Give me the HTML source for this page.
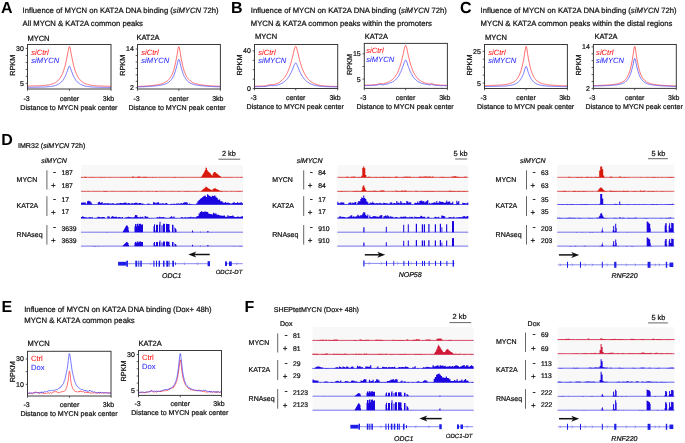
<!DOCTYPE html>
<html><head><meta charset="utf-8"><title>figure</title>
<style>html,body{margin:0;padding:0;background:#fff;overflow:hidden}svg{display:block;will-change:transform}text{font-family:"Liberation Sans",sans-serif;text-rendering:geometricPrecision}</style>
</head><body>
<svg width="685" height="443" viewBox="0 0 685 443">
<rect width="685" height="443" fill="#fff"/>
<text x="1.00" y="12.50" font-size="16" text-anchor="start" font-weight="bold" font-style="normal" fill="#000" >A</text>
<text x="22.60" y="12.80" font-size="7.7" text-anchor="start" font-weight="normal" font-style="normal" fill="#111" stroke="#111" stroke-width="0.22" >Influence of MYCN on KAT2A DNA binding (<tspan font-style="italic">siMYCN</tspan> 72h)</text>
<text x="22.60" y="25.60" font-size="7.7" text-anchor="start" font-weight="normal" font-style="normal" fill="#111" stroke="#111" stroke-width="0.22" >All MYCN &amp; KAT2A common peaks</text>
<text x="230.90" y="12.60" font-size="16" text-anchor="start" font-weight="bold" font-style="normal" fill="#000" >B</text>
<text x="250.80" y="13.00" font-size="7.7" text-anchor="start" font-weight="normal" font-style="normal" fill="#111" stroke="#111" stroke-width="0.22" >Influence of MYCN on KAT2A DNA binding (<tspan font-style="italic">siMYCN</tspan> 72h)</text>
<text x="250.80" y="25.60" font-size="7.7" text-anchor="start" font-weight="normal" font-style="normal" fill="#111" stroke="#111" stroke-width="0.22" >MYCN &amp; KAT2A common peaks within the promoters</text>
<text x="460.10" y="12.70" font-size="16" text-anchor="start" font-weight="bold" font-style="normal" fill="#000" >C</text>
<text x="480.60" y="13.00" font-size="7.7" text-anchor="start" font-weight="normal" font-style="normal" fill="#111" stroke="#111" stroke-width="0.22" >Influence of MYCN on KAT2A DNA binding (<tspan font-style="italic">siMYCN</tspan> 72h)</text>
<text x="480.60" y="25.60" font-size="7.7" text-anchor="start" font-weight="normal" font-style="normal" fill="#111" stroke="#111" stroke-width="0.22" >MYCN &amp; KAT2A common peaks within the distal regions</text>
<text x="27.40" y="40.90" font-size="7.5" text-anchor="start" font-weight="normal" font-style="normal" fill="#111" stroke="#111" stroke-width="0.22" >MYCN</text>
<polyline points="27.5,86.0 27.9,86.0 28.3,86.0 28.8,86.0 29.2,86.0 29.6,86.0 30.0,86.0 30.4,86.0 30.8,86.0 31.3,85.9 31.7,85.9 32.1,85.9 32.5,85.9 32.9,85.9 33.3,85.9 33.8,85.9 34.2,85.9 34.6,85.9 35.0,85.9 35.4,85.9 35.9,85.8 36.3,85.8 36.7,85.8 37.1,85.8 37.5,85.8 37.9,85.8 38.4,85.8 38.8,85.7 39.2,85.7 39.6,85.7 40.0,85.7 40.4,85.7 40.9,85.6 41.3,85.6 41.7,85.6 42.1,85.6 42.5,85.5 42.9,85.5 43.4,85.5 43.8,85.4 44.2,85.4 44.6,85.4 45.0,85.3 45.5,85.3 45.9,85.2 46.3,85.2 46.7,85.1 47.1,85.1 47.5,85.0 48.0,85.0 48.4,84.9 48.8,84.8 49.2,84.7 49.6,84.7 50.0,84.6 50.5,84.5 50.9,84.4 51.3,84.2 51.7,84.1 52.1,84.0 52.5,83.9 53.0,83.7 53.4,83.5 53.8,83.4 54.2,83.2 54.6,83.0 55.1,82.7 55.5,82.5 55.9,82.2 56.3,82.0 56.7,81.7 57.1,81.3 57.6,81.0 58.0,80.6 58.4,80.2 58.8,79.7 59.2,79.2 59.6,78.7 60.1,78.1 60.5,77.5 60.9,76.8 61.3,76.1 61.7,75.3 62.2,74.4 62.6,73.4 63.0,72.4 63.4,71.3 63.8,70.1 64.2,68.8 64.7,67.4 65.1,65.9 65.5,64.2 65.9,62.4 66.3,60.5 66.7,58.5 67.2,56.3 67.6,54.0 68.0,51.7 68.4,49.5 68.8,47.6 69.2,46.5 69.7,46.7 70.1,48.0 70.5,50.1 70.9,52.3 71.3,54.7 71.8,56.9 72.2,59.1 72.6,61.1 73.0,62.9 73.4,64.7 73.8,66.3 74.3,67.8 74.7,69.2 75.1,70.5 75.5,71.7 75.9,72.7 76.3,73.8 76.8,74.7 77.2,75.5 77.6,76.3 78.0,77.0 78.4,77.7 78.9,78.3 79.3,78.9 79.7,79.4 80.1,79.9 80.5,80.4 80.9,80.8 81.4,81.2 81.8,81.5 82.2,81.8 82.6,82.1 83.0,82.4 83.4,82.7 83.9,82.9 84.3,83.1 84.7,83.3 85.1,83.5 85.5,83.7 86.0,83.9 86.4,84.0 86.8,84.2 87.2,84.3 87.6,84.4 88.0,84.5 88.5,84.6 88.9,84.7 89.3,84.8 89.7,84.9 90.1,85.0 90.5,85.1 91.0,85.1 91.4,85.2 91.8,85.3 92.2,85.3 92.6,85.4 93.0,85.4 93.5,85.5 93.9,85.5 94.3,85.6 94.7,85.6 95.1,85.6 95.6,85.7 96.0,85.7 96.4,85.7 96.8,85.8 97.2,85.8 97.6,85.8 98.1,85.8 98.5,85.9 98.9,85.9 99.3,85.9 99.7,85.9 100.1,86.0 100.6,86.0 101.0,86.0 101.4,86.0 101.8,86.0 102.2,86.1 102.7,86.1 103.1,86.1 103.5,86.1 103.9,86.1 104.3,86.1 104.7,86.1 105.2,86.2 105.6,86.2 106.0,86.2 106.4,86.2 106.8,86.2 107.2,86.2 107.7,86.2 108.1,86.2 108.5,86.2 108.9,86.3 109.3,86.3 109.7,86.3 110.2,86.3 110.6,86.3 111.0,86.3" fill="none" stroke="#ff2020" stroke-width="0.65" stroke-linejoin="round"/>
<polyline points="27.5,87.3 27.9,87.3 28.3,87.3 28.8,87.3 29.2,87.3 29.6,87.3 30.0,87.3 30.4,87.3 30.8,87.3 31.3,87.3 31.7,87.3 32.1,87.3 32.5,87.3 32.9,87.3 33.3,87.3 33.8,87.2 34.2,87.2 34.6,87.2 35.0,87.2 35.4,87.2 35.9,87.2 36.3,87.2 36.7,87.2 37.1,87.2 37.5,87.2 37.9,87.2 38.4,87.2 38.8,87.2 39.2,87.2 39.6,87.1 40.0,87.1 40.4,87.1 40.9,87.1 41.3,87.1 41.7,87.1 42.1,87.1 42.5,87.1 42.9,87.0 43.4,87.0 43.8,87.0 44.2,87.0 44.6,87.0 45.0,86.9 45.5,86.9 45.9,86.9 46.3,86.9 46.7,86.8 47.1,86.8 47.5,86.8 48.0,86.8 48.4,86.7 48.8,86.7 49.2,86.6 49.6,86.6 50.0,86.5 50.5,86.5 50.9,86.4 51.3,86.4 51.7,86.3 52.1,86.2 52.5,86.2 53.0,86.1 53.4,86.0 53.8,85.9 54.2,85.8 54.6,85.7 55.1,85.6 55.5,85.4 55.9,85.3 56.3,85.2 56.7,85.0 57.1,84.8 57.6,84.6 58.0,84.4 58.4,84.2 58.8,84.0 59.2,83.7 59.6,83.4 60.1,83.1 60.5,82.8 60.9,82.4 61.3,82.0 61.7,81.6 62.2,81.1 62.6,80.6 63.0,80.1 63.4,79.5 63.8,78.8 64.2,78.1 64.7,77.4 65.1,76.6 65.5,75.7 65.9,74.7 66.3,73.7 66.7,72.6 67.2,71.5 67.6,70.3 68.0,69.0 68.4,67.8 68.8,66.8 69.2,66.2 69.7,66.3 70.1,67.1 70.5,68.2 70.9,69.4 71.3,70.6 71.8,71.8 72.2,72.9 72.6,74.0 73.0,75.0 73.4,76.0 73.8,76.8 74.3,77.6 74.7,78.4 75.1,79.0 75.5,79.7 75.9,80.3 76.3,80.8 76.8,81.3 77.2,81.7 77.6,82.2 78.0,82.5 78.4,82.9 78.9,83.2 79.3,83.5 79.7,83.8 80.1,84.1 80.5,84.3 80.9,84.5 81.4,84.7 81.8,84.9 82.2,85.1 82.6,85.3 83.0,85.4 83.4,85.5 83.9,85.7 84.3,85.8 84.7,85.9 85.1,86.0 85.5,86.1 86.0,86.2 86.4,86.3 86.8,86.3 87.2,86.4 87.6,86.5 88.0,86.5 88.5,86.6 88.9,86.6 89.3,86.7 89.7,86.7 90.1,86.8 90.5,86.8 91.0,86.9 91.4,86.9 91.8,86.9 92.2,87.0 92.6,87.0 93.0,87.0 93.5,87.0 93.9,87.1 94.3,87.1 94.7,87.1 95.1,87.1 95.6,87.2 96.0,87.2 96.4,87.2 96.8,87.2 97.2,87.2 97.6,87.2 98.1,87.3 98.5,87.3 98.9,87.3 99.3,87.3 99.7,87.3 100.1,87.3 100.6,87.3 101.0,87.3 101.4,87.3 101.8,87.4 102.2,87.4 102.7,87.4 103.1,87.4 103.5,87.4 103.9,87.4 104.3,87.4 104.7,87.4 105.2,87.4 105.6,87.4 106.0,87.4 106.4,87.4 106.8,87.4 107.2,87.5 107.7,87.5 108.1,87.5 108.5,87.5 108.9,87.5 109.3,87.5 109.7,87.5 110.2,87.5 110.6,87.5 111.0,87.5" fill="none" stroke="#3030ff" stroke-width="0.65" stroke-linejoin="round"/>
<rect x="27.50" y="44.50" width="83.50" height="44.50" fill="none" stroke="#3a3a3a" stroke-width="1"/>
<line x1="25.70" y1="48.40" x2="27.50" y2="48.40" stroke="#333" stroke-width="0.8" />
<text x="23.90" y="50.85" font-size="7" text-anchor="end" font-weight="normal" font-style="normal" fill="#111" stroke="#111" stroke-width="0.22" >30</text>
<line x1="25.70" y1="83.30" x2="27.50" y2="83.30" stroke="#333" stroke-width="0.8" />
<text x="23.90" y="85.75" font-size="7" text-anchor="end" font-weight="normal" font-style="normal" fill="#111" stroke="#111" stroke-width="0.22" >5</text>
<line x1="25.70" y1="55.40" x2="27.50" y2="55.40" stroke="#333" stroke-width="0.8" />
<line x1="25.70" y1="62.40" x2="27.50" y2="62.40" stroke="#333" stroke-width="0.8" />
<line x1="25.70" y1="69.40" x2="27.50" y2="69.40" stroke="#333" stroke-width="0.8" />
<line x1="25.70" y1="76.30" x2="27.50" y2="76.30" stroke="#333" stroke-width="0.8" />
<line x1="27.50" y1="89.00" x2="27.50" y2="90.80" stroke="#333" stroke-width="0.8" />
<line x1="69.40" y1="89.00" x2="69.40" y2="90.80" stroke="#333" stroke-width="0.8" />
<line x1="111.00" y1="89.00" x2="111.00" y2="90.80" stroke="#333" stroke-width="0.8" />
<text x="26.50" y="100.60" font-size="7" text-anchor="middle" font-weight="normal" font-style="normal" fill="#111" stroke="#111" stroke-width="0.22" >-3</text>
<text x="69.40" y="100.60" font-size="7" text-anchor="middle" font-weight="normal" font-style="normal" fill="#111" stroke="#111" stroke-width="0.22" >center</text>
<text x="108.40" y="100.60" font-size="7" text-anchor="middle" font-weight="normal" font-style="normal" fill="#111" stroke="#111" stroke-width="0.22" >3kb</text>
<text x="68.90" y="109.60" font-size="7.08" text-anchor="middle" font-weight="normal" font-style="normal" fill="#111" stroke="#111" stroke-width="0.22" >Distance to MYCN peak center</text>
<text transform="translate(14.80,65.25) rotate(-90)" font-size="7.3" text-anchor="middle" fill="#111" stroke="#111" stroke-width="0.22">RPKM</text>
<text x="31.30" y="54.50" font-size="7.6" text-anchor="start" font-weight="normal" font-style="italic" fill="#ff2020" stroke="#ff2020" stroke-width="0.08" >siCtrl</text>
<text x="31.30" y="63.40" font-size="7.6" text-anchor="start" font-weight="normal" font-style="italic" fill="#3030ff" stroke="#3030ff" stroke-width="0.08" >siMYCN</text>
<text x="136.40" y="40.00" font-size="7.5" text-anchor="start" font-weight="normal" font-style="normal" fill="#111" stroke="#111" stroke-width="0.22" >KAT2A</text>
<polyline points="137.5,86.5 137.9,86.5 138.3,86.5 138.7,86.4 139.2,86.4 139.6,86.4 140.0,86.4 140.4,86.4 140.8,86.3 141.2,86.3 141.6,86.3 142.1,86.3 142.5,86.3 142.9,86.2 143.3,86.2 143.7,86.2 144.1,86.2 144.5,86.1 145.0,86.1 145.4,86.1 145.8,86.1 146.2,86.0 146.6,86.0 147.0,86.0 147.4,85.9 147.9,85.9 148.3,85.9 148.7,85.8 149.1,85.8 149.5,85.8 149.9,85.7 150.3,85.7 150.8,85.7 151.2,85.6 151.6,85.6 152.0,85.5 152.4,85.5 152.8,85.4 153.3,85.4 153.7,85.3 154.1,85.3 154.5,85.2 154.9,85.2 155.3,85.1 155.7,85.0 156.2,85.0 156.6,84.9 157.0,84.8 157.4,84.8 157.8,84.7 158.2,84.6 158.6,84.5 159.1,84.4 159.5,84.4 159.9,84.3 160.3,84.2 160.7,84.0 161.1,83.9 161.5,83.8 162.0,83.7 162.4,83.5 162.8,83.4 163.2,83.2 163.6,83.1 164.0,82.9 164.4,82.7 164.9,82.5 165.3,82.3 165.7,82.1 166.1,81.8 166.5,81.5 166.9,81.2 167.3,80.9 167.8,80.6 168.2,80.2 168.6,79.8 169.0,79.3 169.4,78.9 169.8,78.3 170.2,77.7 170.7,77.1 171.1,76.4 171.5,75.7 171.9,74.8 172.3,73.9 172.7,72.9 173.1,71.8 173.6,70.6 174.0,69.3 174.4,67.8 174.8,66.2 175.2,64.4 175.6,62.5 176.0,60.4 176.5,58.2 176.9,55.7 177.3,53.2 177.7,50.7 178.1,48.4 178.5,46.9 178.9,46.7 179.4,47.9 179.8,50.0 180.2,52.5 180.6,55.0 181.0,57.5 181.4,59.8 181.9,61.9 182.3,63.9 182.7,65.7 183.1,67.4 183.5,68.8 183.9,70.2 184.3,71.5 184.8,72.6 185.2,73.6 185.6,74.6 186.0,75.4 186.4,76.2 186.8,76.9 187.2,77.5 187.7,78.1 188.1,78.7 188.5,79.2 188.9,79.6 189.3,80.0 189.7,80.4 190.1,80.8 190.6,81.1 191.0,81.4 191.4,81.7 191.8,81.9 192.2,82.2 192.6,82.4 193.0,82.6 193.5,82.8 193.9,83.0 194.3,83.1 194.7,83.3 195.1,83.4 195.5,83.6 195.9,83.7 196.4,83.8 196.8,83.9 197.2,84.0 197.6,84.1 198.0,84.2 198.4,84.3 198.8,84.4 199.3,84.5 199.7,84.6 200.1,84.7 200.5,84.7 200.9,84.8 201.3,84.9 201.7,84.9 202.2,85.0 202.6,85.0 203.0,85.1 203.4,85.1 203.8,85.2 204.2,85.2 204.6,85.3 205.1,85.3 205.5,85.4 205.9,85.4 206.3,85.5 206.7,85.5 207.1,85.5 207.6,85.6 208.0,85.6 208.4,85.7 208.8,85.7 209.2,85.7 209.6,85.7 210.0,85.8 210.5,85.8 210.9,85.8 211.3,85.9 211.7,85.9 212.1,85.9 212.5,85.9 212.9,86.0 213.4,86.0 213.8,86.0 214.2,86.0 214.6,86.1 215.0,86.1 215.4,86.1 215.8,86.1 216.3,86.1 216.7,86.2 217.1,86.2 217.5,86.2 217.9,86.2 218.3,86.2 218.7,86.2 219.2,86.3 219.6,86.3 220.0,86.3 220.4,86.3" fill="none" stroke="#ff2020" stroke-width="0.65" stroke-linejoin="round"/>
<polyline points="137.5,86.9 137.9,86.9 138.3,86.9 138.7,86.9 139.2,86.8 139.6,86.8 140.0,86.8 140.4,86.8 140.8,86.8 141.2,86.8 141.6,86.8 142.1,86.8 142.5,86.7 142.9,86.7 143.3,86.7 143.7,86.7 144.1,86.7 144.5,86.7 145.0,86.6 145.4,86.6 145.8,86.6 146.2,86.6 146.6,86.6 147.0,86.5 147.4,86.5 147.9,86.5 148.3,86.5 148.7,86.4 149.1,86.4 149.5,86.4 149.9,86.4 150.3,86.3 150.8,86.3 151.2,86.3 151.6,86.3 152.0,86.2 152.4,86.2 152.8,86.2 153.3,86.1 153.7,86.1 154.1,86.1 154.5,86.0 154.9,86.0 155.3,85.9 155.7,85.9 156.2,85.9 156.6,85.8 157.0,85.8 157.4,85.7 157.8,85.7 158.2,85.6 158.6,85.5 159.1,85.5 159.5,85.4 159.9,85.4 160.3,85.3 160.7,85.2 161.1,85.1 161.5,85.0 162.0,85.0 162.4,84.9 162.8,84.8 163.2,84.7 163.6,84.5 164.0,84.4 164.4,84.3 164.9,84.2 165.3,84.0 165.7,83.8 166.1,83.7 166.5,83.5 166.9,83.3 167.3,83.1 167.8,82.8 168.2,82.6 168.6,82.3 169.0,82.0 169.4,81.6 169.8,81.3 170.2,80.9 170.7,80.4 171.1,79.9 171.5,79.4 171.9,78.8 172.3,78.2 172.7,77.5 173.1,76.7 173.6,75.9 174.0,75.0 174.4,74.0 174.8,72.9 175.2,71.6 175.6,70.3 176.0,68.9 176.5,67.3 176.9,65.6 177.3,63.9 177.7,62.1 178.1,60.6 178.5,59.5 178.9,59.4 179.4,60.2 179.8,61.7 180.2,63.4 180.6,65.1 181.0,66.8 181.4,68.4 181.9,69.9 182.3,71.3 182.7,72.5 183.1,73.7 183.5,74.7 183.9,75.6 184.3,76.5 184.8,77.3 185.2,78.0 185.6,78.7 186.0,79.2 186.4,79.8 186.8,80.3 187.2,80.7 187.7,81.1 188.1,81.5 188.5,81.9 188.9,82.2 189.3,82.5 189.7,82.7 190.1,83.0 190.6,83.2 191.0,83.4 191.4,83.6 191.8,83.8 192.2,83.9 192.6,84.1 193.0,84.2 193.5,84.4 193.9,84.5 194.3,84.6 194.7,84.7 195.1,84.8 195.5,84.9 195.9,85.0 196.4,85.1 196.8,85.2 197.2,85.2 197.6,85.3 198.0,85.4 198.4,85.4 198.8,85.5 199.3,85.5 199.7,85.6 200.1,85.7 200.5,85.7 200.9,85.7 201.3,85.8 201.7,85.8 202.2,85.9 202.6,85.9 203.0,86.0 203.4,86.0 203.8,86.0 204.2,86.1 204.6,86.1 205.1,86.1 205.5,86.2 205.9,86.2 206.3,86.2 206.7,86.2 207.1,86.3 207.6,86.3 208.0,86.3 208.4,86.3 208.8,86.4 209.2,86.4 209.6,86.4 210.0,86.4 210.5,86.5 210.9,86.5 211.3,86.5 211.7,86.5 212.1,86.5 212.5,86.5 212.9,86.6 213.4,86.6 213.8,86.6 214.2,86.6 214.6,86.6 215.0,86.6 215.4,86.7 215.8,86.7 216.3,86.7 216.7,86.7 217.1,86.7 217.5,86.7 217.9,86.7 218.3,86.7 218.7,86.8 219.2,86.8 219.6,86.8 220.0,86.8 220.4,86.8" fill="none" stroke="#3030ff" stroke-width="0.65" stroke-linejoin="round"/>
<rect x="137.50" y="44.50" width="82.90" height="44.50" fill="none" stroke="#3a3a3a" stroke-width="1"/>
<line x1="135.70" y1="49.00" x2="137.50" y2="49.00" stroke="#333" stroke-width="0.8" />
<text x="133.90" y="51.45" font-size="7" text-anchor="end" font-weight="normal" font-style="normal" fill="#111" stroke="#111" stroke-width="0.22" >14</text>
<line x1="135.70" y1="87.80" x2="137.50" y2="87.80" stroke="#333" stroke-width="0.8" />
<text x="133.90" y="90.25" font-size="7" text-anchor="end" font-weight="normal" font-style="normal" fill="#111" stroke="#111" stroke-width="0.22" >2</text>
<line x1="135.70" y1="55.50" x2="137.50" y2="55.50" stroke="#333" stroke-width="0.8" />
<line x1="135.70" y1="62.00" x2="137.50" y2="62.00" stroke="#333" stroke-width="0.8" />
<line x1="135.70" y1="68.40" x2="137.50" y2="68.40" stroke="#333" stroke-width="0.8" />
<line x1="135.70" y1="74.90" x2="137.50" y2="74.90" stroke="#333" stroke-width="0.8" />
<line x1="135.70" y1="81.30" x2="137.50" y2="81.30" stroke="#333" stroke-width="0.8" />
<line x1="137.50" y1="89.00" x2="137.50" y2="90.80" stroke="#333" stroke-width="0.8" />
<line x1="178.80" y1="89.00" x2="178.80" y2="90.80" stroke="#333" stroke-width="0.8" />
<line x1="220.40" y1="89.00" x2="220.40" y2="90.80" stroke="#333" stroke-width="0.8" />
<text x="136.50" y="100.60" font-size="7" text-anchor="middle" font-weight="normal" font-style="normal" fill="#111" stroke="#111" stroke-width="0.22" >-3</text>
<text x="178.80" y="100.60" font-size="7" text-anchor="middle" font-weight="normal" font-style="normal" fill="#111" stroke="#111" stroke-width="0.22" >center</text>
<text x="217.80" y="100.60" font-size="7" text-anchor="middle" font-weight="normal" font-style="normal" fill="#111" stroke="#111" stroke-width="0.22" >3kb</text>
<text x="177.10" y="109.60" font-size="7.08" text-anchor="middle" font-weight="normal" font-style="normal" fill="#111" stroke="#111" stroke-width="0.22" >Distance to MYCN peak center</text>
<text transform="translate(124.80,65.25) rotate(-90)" font-size="7.3" text-anchor="middle" fill="#111" stroke="#111" stroke-width="0.22">RPKM</text>
<text x="141.30" y="54.50" font-size="7.6" text-anchor="start" font-weight="normal" font-style="italic" fill="#ff2020" stroke="#ff2020" stroke-width="0.08" >siCtrl</text>
<text x="141.30" y="63.40" font-size="7.6" text-anchor="start" font-weight="normal" font-style="italic" fill="#3030ff" stroke="#3030ff" stroke-width="0.08" >siMYCN</text>
<text x="255.00" y="39.00" font-size="7.5" text-anchor="start" font-weight="normal" font-style="normal" fill="#111" stroke="#111" stroke-width="0.22" >MYCN</text>
<polyline points="254.5,86.2 254.9,86.2 255.3,86.2 255.7,86.2 256.2,86.2 256.6,86.2 257.0,86.2 257.4,86.2 257.8,86.1 258.2,86.1 258.7,86.1 259.1,86.1 259.5,86.1 259.9,86.1 260.3,86.1 260.7,86.1 261.2,86.1 261.6,86.0 262.0,86.0 262.4,86.0 262.8,86.0 263.2,86.0 263.7,85.9 264.1,85.9 264.5,85.9 264.9,85.8 265.3,85.8 265.7,85.7 266.1,85.7 266.6,85.6 267.0,85.5 267.4,85.4 267.8,85.2 268.2,85.1 268.6,85.0 269.1,84.9 269.5,84.8 269.9,84.7 270.3,84.6 270.7,84.6 271.1,84.6 271.6,84.6 272.0,84.6 272.4,84.6 272.8,84.6 273.2,84.5 273.6,84.5 274.1,84.4 274.5,84.4 274.9,84.3 275.3,84.2 275.7,84.0 276.1,83.9 276.5,83.7 277.0,83.6 277.4,83.4 277.8,83.2 278.2,83.0 278.6,82.8 279.0,82.5 279.5,82.3 279.9,82.0 280.3,81.7 280.7,81.4 281.1,81.1 281.5,80.7 282.0,80.4 282.4,80.0 282.8,79.5 283.2,79.1 283.6,78.6 284.0,78.1 284.5,77.6 284.9,77.0 285.3,76.4 285.7,75.7 286.1,75.0 286.5,74.3 286.9,73.5 287.4,72.7 287.8,71.8 288.2,70.8 288.6,69.8 289.0,68.8 289.4,67.6 289.9,66.4 290.3,65.2 290.7,63.8 291.1,62.4 291.5,60.9 291.9,59.3 292.4,57.7 292.8,56.0 293.2,54.2 293.6,52.4 294.0,50.7 294.4,49.1 294.9,47.7 295.3,46.7 295.7,46.3 296.1,46.6 296.5,47.6 296.9,48.9 297.3,50.6 297.8,52.3 298.2,54.1 298.6,55.8 299.0,57.5 299.4,59.2 299.8,60.8 300.3,62.3 300.7,63.7 301.1,65.1 301.5,66.4 301.9,67.6 302.3,68.7 302.8,69.8 303.2,70.8 303.6,71.7 304.0,72.6 304.4,73.5 304.8,74.3 305.3,75.0 305.7,75.7 306.1,76.4 306.5,77.0 306.9,77.6 307.3,78.1 307.7,78.7 308.2,79.1 308.6,79.6 309.0,80.0 309.4,80.4 309.8,80.8 310.2,81.1 310.7,81.5 311.1,81.8 311.5,82.1 311.9,82.3 312.3,82.6 312.7,82.8 313.2,83.1 313.6,83.3 314.0,83.5 314.4,83.7 314.8,83.8 315.2,84.0 315.7,84.2 316.1,84.3 316.5,84.5 316.9,84.6 317.3,84.7 317.7,84.8 318.1,84.9 318.6,85.0 319.0,85.1 319.4,85.2 319.8,85.3 320.2,85.4 320.6,85.4 321.1,85.5 321.5,85.6 321.9,85.6 322.3,85.7 322.7,85.7 323.1,85.8 323.6,85.8 324.0,85.9 324.4,85.9 324.8,86.0 325.2,86.0 325.6,86.0 326.1,86.1 326.5,86.1 326.9,86.1 327.3,86.2 327.7,86.2 328.1,86.2 328.5,86.2 329.0,86.2 329.4,86.3 329.8,86.3 330.2,86.3 330.6,86.3 331.0,86.3 331.5,86.4 331.9,86.4 332.3,86.4 332.7,86.4 333.1,86.4 333.5,86.4 334.0,86.4 334.4,86.4 334.8,86.4 335.2,86.5 335.6,86.5 336.0,86.5 336.5,86.5 336.9,86.5 337.3,86.5 337.7,86.5" fill="none" stroke="#ff2020" stroke-width="0.65" stroke-linejoin="round"/>
<polyline points="254.5,86.7 254.9,86.7 255.3,86.7 255.7,86.7 256.2,86.7 256.6,86.7 257.0,86.7 257.4,86.7 257.8,86.7 258.2,86.7 258.7,86.7 259.1,86.7 259.5,86.6 259.9,86.6 260.3,86.6 260.7,86.6 261.2,86.6 261.6,86.6 262.0,86.6 262.4,86.6 262.8,86.6 263.2,86.6 263.7,86.5 264.1,86.5 264.5,86.5 264.9,86.5 265.3,86.4 265.7,86.4 266.1,86.3 266.6,86.3 267.0,86.2 267.4,86.1 267.8,86.0 268.2,85.9 268.6,85.8 269.1,85.7 269.5,85.7 269.9,85.6 270.3,85.6 270.7,85.6 271.1,85.6 271.6,85.6 272.0,85.6 272.4,85.6 272.8,85.7 273.2,85.7 273.6,85.7 274.1,85.6 274.5,85.6 274.9,85.5 275.3,85.5 275.7,85.4 276.1,85.3 276.5,85.2 277.0,85.1 277.4,85.0 277.8,84.9 278.2,84.8 278.6,84.7 279.0,84.5 279.5,84.4 279.9,84.2 280.3,84.0 280.7,83.9 281.1,83.7 281.5,83.5 282.0,83.2 282.4,83.0 282.8,82.8 283.2,82.5 283.6,82.2 284.0,81.9 284.5,81.6 284.9,81.2 285.3,80.9 285.7,80.5 286.1,80.1 286.5,79.6 286.9,79.2 287.4,78.7 287.8,78.1 288.2,77.6 288.6,77.0 289.0,76.3 289.4,75.7 289.9,75.0 290.3,74.2 290.7,73.4 291.1,72.6 291.5,71.7 291.9,70.7 292.4,69.8 292.8,68.7 293.2,67.7 293.6,66.6 294.0,65.6 294.4,64.6 294.9,63.8 295.3,63.2 295.7,63.0 296.1,63.2 296.5,63.7 296.9,64.6 297.3,65.5 297.8,66.6 298.2,67.6 298.6,68.7 299.0,69.7 299.4,70.7 299.8,71.6 300.3,72.5 300.7,73.3 301.1,74.2 301.5,74.9 301.9,75.6 302.3,76.3 302.8,77.0 303.2,77.6 303.6,78.1 304.0,78.7 304.4,79.2 304.8,79.6 305.3,80.1 305.7,80.5 306.1,80.9 306.5,81.3 306.9,81.6 307.3,81.9 307.7,82.2 308.2,82.5 308.6,82.8 309.0,83.0 309.4,83.3 309.8,83.5 310.2,83.7 310.7,83.9 311.1,84.1 311.5,84.3 311.9,84.4 312.3,84.6 312.7,84.7 313.2,84.9 313.6,85.0 314.0,85.1 314.4,85.2 314.8,85.3 315.2,85.4 315.7,85.5 316.1,85.6 316.5,85.7 316.9,85.8 317.3,85.8 317.7,85.9 318.1,86.0 318.6,86.0 319.0,86.1 319.4,86.1 319.8,86.2 320.2,86.2 320.6,86.3 321.1,86.3 321.5,86.3 321.9,86.4 322.3,86.4 322.7,86.4 323.1,86.5 323.6,86.5 324.0,86.5 324.4,86.6 324.8,86.6 325.2,86.6 325.6,86.6 326.1,86.6 326.5,86.7 326.9,86.7 327.3,86.7 327.7,86.7 328.1,86.7 328.5,86.7 329.0,86.7 329.4,86.8 329.8,86.8 330.2,86.8 330.6,86.8 331.0,86.8 331.5,86.8 331.9,86.8 332.3,86.8 332.7,86.8 333.1,86.8 333.5,86.8 334.0,86.9 334.4,86.9 334.8,86.9 335.2,86.9 335.6,86.9 336.0,86.9 336.5,86.9 336.9,86.9 337.3,86.9 337.7,86.9" fill="none" stroke="#3030ff" stroke-width="0.65" stroke-linejoin="round"/>
<rect x="254.50" y="44.50" width="83.20" height="44.00" fill="none" stroke="#3a3a3a" stroke-width="1"/>
<line x1="252.70" y1="50.90" x2="254.50" y2="50.90" stroke="#333" stroke-width="0.8" />
<text x="250.90" y="53.35" font-size="7" text-anchor="end" font-weight="normal" font-style="normal" fill="#111" stroke="#111" stroke-width="0.22" >40</text>
<line x1="252.70" y1="88.60" x2="254.50" y2="88.60" stroke="#333" stroke-width="0.8" />
<text x="250.90" y="91.05" font-size="7" text-anchor="end" font-weight="normal" font-style="normal" fill="#111" stroke="#111" stroke-width="0.22" >0</text>
<line x1="252.70" y1="60.30" x2="254.50" y2="60.30" stroke="#333" stroke-width="0.8" />
<line x1="252.70" y1="69.70" x2="254.50" y2="69.70" stroke="#333" stroke-width="0.8" />
<line x1="252.70" y1="79.20" x2="254.50" y2="79.20" stroke="#333" stroke-width="0.8" />
<line x1="254.50" y1="88.50" x2="254.50" y2="90.30" stroke="#333" stroke-width="0.8" />
<line x1="295.70" y1="88.50" x2="295.70" y2="90.30" stroke="#333" stroke-width="0.8" />
<line x1="337.70" y1="88.50" x2="337.70" y2="90.30" stroke="#333" stroke-width="0.8" />
<text x="253.50" y="100.10" font-size="7" text-anchor="middle" font-weight="normal" font-style="normal" fill="#111" stroke="#111" stroke-width="0.22" >-3</text>
<text x="295.70" y="100.10" font-size="7" text-anchor="middle" font-weight="normal" font-style="normal" fill="#111" stroke="#111" stroke-width="0.22" >center</text>
<text x="335.10" y="100.10" font-size="7" text-anchor="middle" font-weight="normal" font-style="normal" fill="#111" stroke="#111" stroke-width="0.22" >3kb</text>
<text x="295.20" y="109.10" font-size="7.08" text-anchor="middle" font-weight="normal" font-style="normal" fill="#111" stroke="#111" stroke-width="0.22" >Distance to MYCN peak center</text>
<text transform="translate(241.80,65.00) rotate(-90)" font-size="7.3" text-anchor="middle" fill="#111" stroke="#111" stroke-width="0.22">RPKM</text>
<text x="258.30" y="54.50" font-size="7.6" text-anchor="start" font-weight="normal" font-style="italic" fill="#ff2020" stroke="#ff2020" stroke-width="0.08" >siCtrl</text>
<text x="258.30" y="63.40" font-size="7.6" text-anchor="start" font-weight="normal" font-style="italic" fill="#3030ff" stroke="#3030ff" stroke-width="0.08" >siMYCN</text>
<text x="364.70" y="38.80" font-size="7.5" text-anchor="start" font-weight="normal" font-style="normal" fill="#111" stroke="#111" stroke-width="0.22" >KAT2A</text>
<polyline points="364.3,85.0 364.7,85.3 365.1,85.3 365.5,85.1 366.0,85.1 366.4,85.1 366.8,85.2 367.2,85.2 367.6,84.9 368.0,84.9 368.5,85.2 368.9,85.0 369.3,85.1 369.7,84.8 370.1,85.0 370.5,85.1 370.9,84.8 371.4,85.1 371.8,85.1 372.2,84.7 372.6,84.7 373.0,84.9 373.4,85.0 373.9,84.7 374.3,84.6 374.7,84.7 375.1,84.5 375.5,84.6 375.9,84.6 376.3,84.6 376.8,84.4 377.2,84.4 377.6,84.3 378.0,84.3 378.4,84.0 378.8,83.7 379.3,83.8 379.7,83.5 380.1,83.4 380.5,83.3 380.9,83.7 381.3,83.8 381.8,83.6 382.2,83.7 382.6,83.8 383.0,83.8 383.4,83.8 383.8,83.5 384.2,83.5 384.7,83.4 385.1,83.1 385.5,83.1 385.9,83.1 386.3,83.0 386.7,82.7 387.2,82.6 387.6,82.2 388.0,82.1 388.4,82.1 388.8,81.8 389.2,81.5 389.6,81.4 390.1,81.2 390.5,81.0 390.9,80.6 391.3,80.3 391.7,80.1 392.1,79.8 392.6,79.4 393.0,79.0 393.4,78.6 393.8,78.0 394.2,77.5 394.6,77.3 395.0,76.9 395.5,76.1 395.9,75.4 396.3,74.7 396.7,74.1 397.1,73.5 397.5,72.6 398.0,71.7 398.4,70.9 398.8,69.6 399.2,68.6 399.6,67.6 400.0,66.3 400.4,64.9 400.9,63.4 401.3,62.0 401.7,60.5 402.1,58.5 402.5,57.0 402.9,55.1 403.4,53.3 403.8,51.3 404.2,49.4 404.6,47.6 405.0,46.4 405.4,45.6 405.9,45.6 406.3,46.7 406.7,48.0 407.1,49.6 407.5,51.6 407.9,53.5 408.3,55.3 408.8,57.2 409.2,59.0 409.6,60.8 410.0,62.3 410.4,63.8 410.8,65.0 411.3,66.4 411.7,67.6 412.1,68.9 412.5,70.1 412.9,71.0 413.3,72.0 413.7,72.9 414.2,73.4 414.6,74.4 415.0,75.1 415.4,75.5 415.8,76.1 416.2,76.6 416.7,77.4 417.1,77.7 417.5,78.1 417.9,78.8 418.3,79.1 418.7,79.3 419.1,79.7 419.6,80.2 420.0,80.3 420.4,80.7 420.8,81.1 421.2,81.3 421.6,81.4 422.1,81.7 422.5,81.8 422.9,82.1 423.3,82.3 423.7,82.4 424.1,82.5 424.5,83.0 425.0,82.9 425.4,83.0 425.8,83.2 426.2,83.4 426.6,83.2 427.0,83.3 427.5,83.5 427.9,83.8 428.3,83.7 428.7,83.9 429.1,84.0 429.5,83.9 429.9,83.8 430.4,84.0 430.8,83.9 431.2,83.7 431.6,83.6 432.0,83.8 432.4,83.8 432.9,84.0 433.3,84.0 433.7,84.3 434.1,84.3 434.5,84.5 434.9,84.8 435.4,84.9 435.8,84.7 436.2,85.0 436.6,84.8 437.0,85.1 437.4,85.0 437.8,84.9 438.3,84.9 438.7,84.8 439.1,85.2 439.5,84.9 439.9,85.2 440.3,85.3 440.8,85.2 441.2,85.0 441.6,85.3 442.0,85.4 442.4,85.3 442.8,85.2 443.2,85.2 443.7,85.2 444.1,85.2 444.5,85.4 444.9,85.3 445.3,85.2 445.7,85.2 446.2,85.4 446.6,85.3 447.0,85.4 447.4,85.3" fill="none" stroke="#ff2020" stroke-width="0.65" stroke-linejoin="round"/>
<polyline points="364.3,85.8 364.7,85.8 365.1,85.4 365.5,85.4 366.0,85.7 366.4,85.6 366.8,85.6 367.2,85.5 367.6,85.6 368.0,85.6 368.5,85.5 368.9,85.4 369.3,85.5 369.7,85.4 370.1,85.6 370.5,85.7 370.9,85.6 371.4,85.4 371.8,85.4 372.2,85.3 372.6,85.2 373.0,85.2 373.4,85.3 373.9,85.3 374.3,85.3 374.7,85.5 375.1,85.3 375.5,85.3 375.9,85.1 376.3,85.0 376.8,85.1 377.2,85.0 377.6,85.1 378.0,85.2 378.4,85.0 378.8,84.6 379.3,84.7 379.7,84.5 380.1,84.5 380.5,84.5 380.9,84.6 381.3,84.7 381.8,84.6 382.2,84.9 382.6,84.9 383.0,84.5 383.4,84.7 383.8,84.6 384.2,84.5 384.7,84.4 385.1,84.3 385.5,84.4 385.9,84.2 386.3,84.2 386.7,83.9 387.2,84.1 387.6,84.0 388.0,83.7 388.4,83.6 388.8,83.6 389.2,83.4 389.6,83.2 390.1,82.9 390.5,82.8 390.9,82.8 391.3,82.4 391.7,82.5 392.1,82.0 392.6,82.0 393.0,81.6 393.4,81.6 393.8,81.2 394.2,80.8 394.6,80.5 395.0,80.2 395.5,79.8 395.9,79.3 396.3,78.8 396.7,78.5 397.1,78.2 397.5,77.5 398.0,76.8 398.4,76.5 398.8,75.8 399.2,75.1 399.6,74.1 400.0,73.5 400.4,72.4 400.9,71.7 401.3,70.6 401.7,69.6 402.1,68.7 402.5,67.3 402.9,66.3 403.4,65.2 403.8,63.7 404.2,62.5 404.6,61.7 405.0,60.7 405.4,60.3 405.9,60.1 406.3,60.8 406.7,61.6 407.1,62.9 407.5,63.9 407.9,65.5 408.3,66.3 408.8,67.8 409.2,68.6 409.6,69.8 410.0,71.1 410.4,71.7 410.8,72.7 411.3,73.7 411.7,74.4 412.1,75.0 412.5,76.0 412.9,76.3 413.3,76.9 413.7,77.6 414.2,78.2 414.6,78.7 415.0,78.9 415.4,79.4 415.8,79.7 416.2,80.2 416.7,80.7 417.1,81.0 417.5,81.4 417.9,81.6 418.3,81.9 418.7,82.1 419.1,82.2 419.6,82.3 420.0,82.7 420.4,82.7 420.8,82.8 421.2,83.1 421.6,83.4 422.1,83.3 422.5,83.6 422.9,83.6 423.3,83.8 423.7,83.8 424.1,84.2 424.5,84.0 425.0,84.2 425.4,84.3 425.8,84.2 426.2,84.5 426.6,84.4 427.0,84.4 427.5,84.5 427.9,84.6 428.3,84.6 428.7,84.8 429.1,84.8 429.5,85.0 429.9,84.9 430.4,84.9 430.8,84.5 431.2,84.6 431.6,84.4 432.0,84.6 432.4,84.7 432.9,84.8 433.3,84.9 433.7,84.9 434.1,85.1 434.5,85.2 434.9,85.1 435.4,85.2 435.8,85.4 436.2,85.3 436.6,85.5 437.0,85.4 437.4,85.3 437.8,85.4 438.3,85.4 438.7,85.4 439.1,85.6 439.5,85.6 439.9,85.5 440.3,85.7 440.8,85.5 441.2,85.8 441.6,85.8 442.0,85.8 442.4,85.7 442.8,85.7 443.2,85.7 443.7,85.5 444.1,85.7 444.5,85.7 444.9,85.6 445.3,85.6 445.7,85.9 446.2,85.7 446.6,85.8 447.0,86.0 447.4,85.8" fill="none" stroke="#3030ff" stroke-width="0.65" stroke-linejoin="round"/>
<rect x="364.30" y="43.40" width="83.10" height="45.00" fill="none" stroke="#3a3a3a" stroke-width="1"/>
<line x1="362.50" y1="53.90" x2="364.30" y2="53.90" stroke="#333" stroke-width="0.8" />
<text x="360.70" y="56.35" font-size="7" text-anchor="end" font-weight="normal" font-style="normal" fill="#111" stroke="#111" stroke-width="0.22" >15</text>
<line x1="362.50" y1="79.10" x2="364.30" y2="79.10" stroke="#333" stroke-width="0.8" />
<text x="360.70" y="81.55" font-size="7" text-anchor="end" font-weight="normal" font-style="normal" fill="#111" stroke="#111" stroke-width="0.22" >5</text>
<line x1="362.50" y1="66.50" x2="364.30" y2="66.50" stroke="#333" stroke-width="0.8" />
<line x1="364.30" y1="88.40" x2="364.30" y2="90.20" stroke="#333" stroke-width="0.8" />
<line x1="405.60" y1="88.40" x2="405.60" y2="90.20" stroke="#333" stroke-width="0.8" />
<line x1="447.40" y1="88.40" x2="447.40" y2="90.20" stroke="#333" stroke-width="0.8" />
<text x="363.30" y="100.00" font-size="7" text-anchor="middle" font-weight="normal" font-style="normal" fill="#111" stroke="#111" stroke-width="0.22" >-3</text>
<text x="405.60" y="100.00" font-size="7" text-anchor="middle" font-weight="normal" font-style="normal" fill="#111" stroke="#111" stroke-width="0.22" >center</text>
<text x="444.80" y="100.00" font-size="7" text-anchor="middle" font-weight="normal" font-style="normal" fill="#111" stroke="#111" stroke-width="0.22" >3kb</text>
<text x="405.10" y="109.00" font-size="7.08" text-anchor="middle" font-weight="normal" font-style="normal" fill="#111" stroke="#111" stroke-width="0.22" >Distance to MYCN peak center</text>
<text transform="translate(351.60,64.40) rotate(-90)" font-size="7.3" text-anchor="middle" fill="#111" stroke="#111" stroke-width="0.22">RPKM</text>
<text x="366.30" y="53.40" font-size="7.6" text-anchor="start" font-weight="normal" font-style="italic" fill="#ff2020" stroke="#ff2020" stroke-width="0.08" >siCtrl</text>
<text x="366.30" y="62.30" font-size="7.6" text-anchor="start" font-weight="normal" font-style="italic" fill="#3030ff" stroke="#3030ff" stroke-width="0.08" >siMYCN</text>
<text x="484.90" y="39.70" font-size="7.5" text-anchor="start" font-weight="normal" font-style="normal" fill="#111" stroke="#111" stroke-width="0.22" >MYCN</text>
<polyline points="484.5,85.6 484.9,85.6 485.3,85.6 485.7,85.6 486.2,85.6 486.6,85.6 487.0,85.5 487.4,85.5 487.8,85.5 488.2,85.5 488.6,85.5 489.1,85.5 489.5,85.5 489.9,85.5 490.3,85.5 490.7,85.4 491.1,85.4 491.5,85.4 492.0,85.4 492.4,85.4 492.8,85.4 493.2,85.4 493.6,85.3 494.0,85.3 494.4,85.3 494.9,85.3 495.3,85.3 495.7,85.3 496.1,85.2 496.5,85.2 496.9,85.2 497.3,85.2 497.8,85.2 498.2,85.1 498.6,85.1 499.0,85.1 499.4,85.0 499.8,85.0 500.3,85.0 500.7,85.0 501.1,84.9 501.5,84.9 501.9,84.9 502.3,84.8 502.7,84.8 503.2,84.7 503.6,84.7 504.0,84.6 504.4,84.6 504.8,84.5 505.2,84.5 505.6,84.4 506.1,84.4 506.5,84.3 506.9,84.2 507.3,84.2 507.7,84.1 508.1,84.0 508.5,83.9 509.0,83.8 509.4,83.7 509.8,83.6 510.2,83.4 510.6,83.3 511.0,83.2 511.4,83.0 511.9,82.8 512.3,82.7 512.7,82.4 513.1,82.2 513.5,82.0 513.9,81.7 514.3,81.5 514.8,81.1 515.2,80.8 515.6,80.4 516.0,80.0 516.4,79.6 516.8,79.1 517.2,78.6 517.7,78.0 518.1,77.4 518.5,76.7 518.9,75.9 519.3,75.1 519.7,74.1 520.1,73.1 520.6,72.0 521.0,70.8 521.4,69.4 521.8,67.9 522.2,66.3 522.6,64.5 523.0,62.5 523.5,60.4 523.9,58.1 524.3,55.6 524.7,52.9 525.1,50.3 525.5,47.9 526.0,46.4 526.4,46.7 526.8,48.5 527.2,51.0 527.6,53.7 528.0,56.3 528.4,58.7 528.9,61.0 529.3,63.1 529.7,65.0 530.1,66.8 530.5,68.4 530.9,69.8 531.3,71.1 531.8,72.3 532.2,73.4 532.6,74.4 533.0,75.3 533.4,76.2 533.8,76.9 534.2,77.6 534.7,78.2 535.1,78.8 535.5,79.3 535.9,79.8 536.3,80.2 536.7,80.6 537.1,81.0 537.6,81.3 538.0,81.6 538.4,81.9 538.8,82.1 539.2,82.4 539.6,82.6 540.0,82.8 540.5,82.9 540.9,83.1 541.3,83.3 541.7,83.4 542.1,83.6 542.5,83.7 542.9,83.8 543.4,83.9 543.8,84.0 544.2,84.1 544.6,84.2 545.0,84.3 545.4,84.3 545.8,84.4 546.3,84.5 546.7,84.5 547.1,84.6 547.5,84.7 547.9,84.7 548.3,84.8 548.7,84.8 549.2,84.9 549.6,84.9 550.0,84.9 550.4,85.0 550.8,85.0 551.2,85.1 551.6,85.1 552.1,85.1 552.5,85.2 552.9,85.2 553.3,85.2 553.7,85.2 554.1,85.3 554.6,85.3 555.0,85.3 555.4,85.3 555.8,85.4 556.2,85.4 556.6,85.4 557.0,85.4 557.5,85.5 557.9,85.5 558.3,85.5 558.7,85.5 559.1,85.5 559.5,85.5 559.9,85.6 560.4,85.6 560.8,85.6 561.2,85.6 561.6,85.6 562.0,85.6 562.4,85.7 562.8,85.7 563.3,85.7 563.7,85.7 564.1,85.7 564.5,85.7 564.9,85.7 565.3,85.7 565.7,85.8 566.2,85.8 566.6,85.8 567.0,85.8 567.4,85.8" fill="none" stroke="#ff2020" stroke-width="0.65" stroke-linejoin="round"/>
<polyline points="484.5,86.5 484.9,86.5 485.3,86.5 485.7,86.5 486.2,86.5 486.6,86.5 487.0,86.5 487.4,86.5 487.8,86.5 488.2,86.5 488.6,86.5 489.1,86.5 489.5,86.4 489.9,86.4 490.3,86.4 490.7,86.4 491.1,86.4 491.5,86.4 492.0,86.4 492.4,86.4 492.8,86.4 493.2,86.4 493.6,86.4 494.0,86.4 494.4,86.4 494.9,86.4 495.3,86.3 495.7,86.3 496.1,86.3 496.5,86.3 496.9,86.3 497.3,86.3 497.8,86.3 498.2,86.3 498.6,86.3 499.0,86.2 499.4,86.2 499.8,86.2 500.3,86.2 500.7,86.2 501.1,86.2 501.5,86.2 501.9,86.1 502.3,86.1 502.7,86.1 503.2,86.1 503.6,86.1 504.0,86.0 504.4,86.0 504.8,86.0 505.2,86.0 505.6,85.9 506.1,85.9 506.5,85.9 506.9,85.8 507.3,85.8 507.7,85.7 508.1,85.7 508.5,85.6 509.0,85.6 509.4,85.5 509.8,85.5 510.2,85.4 510.6,85.4 511.0,85.3 511.4,85.2 511.9,85.1 512.3,85.0 512.7,84.9 513.1,84.8 513.5,84.7 513.9,84.5 514.3,84.4 514.8,84.2 515.2,84.1 515.6,83.9 516.0,83.7 516.4,83.4 516.8,83.2 517.2,82.9 517.7,82.6 518.1,82.3 518.5,81.9 518.9,81.6 519.3,81.1 519.7,80.6 520.1,80.1 520.6,79.5 521.0,78.9 521.4,78.2 521.8,77.4 522.2,76.6 522.6,75.7 523.0,74.7 523.5,73.6 523.9,72.4 524.3,71.1 524.7,69.7 525.1,68.3 525.5,67.1 526.0,66.4 526.4,66.5 526.8,67.4 527.2,68.7 527.6,70.1 528.0,71.4 528.4,72.7 528.9,73.9 529.3,75.0 529.7,75.9 530.1,76.9 530.5,77.7 530.9,78.4 531.3,79.1 531.8,79.7 532.2,80.3 532.6,80.8 533.0,81.3 533.4,81.7 533.8,82.1 534.2,82.4 534.7,82.8 535.1,83.0 535.5,83.3 535.9,83.6 536.3,83.8 536.7,84.0 537.1,84.2 537.6,84.3 538.0,84.5 538.4,84.6 538.8,84.8 539.2,84.9 539.6,85.0 540.0,85.1 540.5,85.2 540.9,85.3 541.3,85.4 541.7,85.4 542.1,85.5 542.5,85.6 542.9,85.6 543.4,85.7 543.8,85.7 544.2,85.8 544.6,85.8 545.0,85.9 545.4,85.9 545.8,86.0 546.3,86.0 546.7,86.0 547.1,86.1 547.5,86.1 547.9,86.1 548.3,86.1 548.7,86.2 549.2,86.2 549.6,86.2 550.0,86.2 550.4,86.3 550.8,86.3 551.2,86.3 551.6,86.3 552.1,86.3 552.5,86.3 552.9,86.4 553.3,86.4 553.7,86.4 554.1,86.4 554.6,86.4 555.0,86.4 555.4,86.5 555.8,86.5 556.2,86.5 556.6,86.5 557.0,86.5 557.5,86.5 557.9,86.5 558.3,86.5 558.7,86.5 559.1,86.5 559.5,86.6 559.9,86.6 560.4,86.6 560.8,86.6 561.2,86.6 561.6,86.6 562.0,86.6 562.4,86.6 562.8,86.6 563.3,86.6 563.7,86.6 564.1,86.6 564.5,86.7 564.9,86.7 565.3,86.7 565.7,86.7 566.2,86.7 566.6,86.7 567.0,86.7 567.4,86.7" fill="none" stroke="#3030ff" stroke-width="0.65" stroke-linejoin="round"/>
<rect x="484.50" y="44.50" width="82.90" height="44.00" fill="none" stroke="#3a3a3a" stroke-width="1"/>
<line x1="482.70" y1="51.30" x2="484.50" y2="51.30" stroke="#333" stroke-width="0.8" />
<text x="480.90" y="53.75" font-size="7" text-anchor="end" font-weight="normal" font-style="normal" fill="#111" stroke="#111" stroke-width="0.22" >25</text>
<line x1="482.70" y1="83.10" x2="484.50" y2="83.10" stroke="#333" stroke-width="0.8" />
<text x="480.90" y="85.55" font-size="7" text-anchor="end" font-weight="normal" font-style="normal" fill="#111" stroke="#111" stroke-width="0.22" >5</text>
<line x1="482.70" y1="59.20" x2="484.50" y2="59.20" stroke="#333" stroke-width="0.8" />
<line x1="482.70" y1="67.10" x2="484.50" y2="67.10" stroke="#333" stroke-width="0.8" />
<line x1="482.70" y1="75.10" x2="484.50" y2="75.10" stroke="#333" stroke-width="0.8" />
<line x1="484.50" y1="88.50" x2="484.50" y2="90.30" stroke="#333" stroke-width="0.8" />
<line x1="526.10" y1="88.50" x2="526.10" y2="90.30" stroke="#333" stroke-width="0.8" />
<line x1="567.40" y1="88.50" x2="567.40" y2="90.30" stroke="#333" stroke-width="0.8" />
<text x="483.50" y="100.10" font-size="7" text-anchor="middle" font-weight="normal" font-style="normal" fill="#111" stroke="#111" stroke-width="0.22" >-3</text>
<text x="526.10" y="100.10" font-size="7" text-anchor="middle" font-weight="normal" font-style="normal" fill="#111" stroke="#111" stroke-width="0.22" >center</text>
<text x="564.80" y="100.10" font-size="7" text-anchor="middle" font-weight="normal" font-style="normal" fill="#111" stroke="#111" stroke-width="0.22" >3kb</text>
<text x="525.60" y="109.10" font-size="7.08" text-anchor="middle" font-weight="normal" font-style="normal" fill="#111" stroke="#111" stroke-width="0.22" >Distance to MYCN peak center</text>
<text transform="translate(471.80,65.00) rotate(-90)" font-size="7.3" text-anchor="middle" fill="#111" stroke="#111" stroke-width="0.22">RPKM</text>
<text x="488.30" y="54.50" font-size="7.6" text-anchor="start" font-weight="normal" font-style="italic" fill="#ff2020" stroke="#ff2020" stroke-width="0.08" >siCtrl</text>
<text x="488.30" y="63.40" font-size="7.6" text-anchor="start" font-weight="normal" font-style="italic" fill="#3030ff" stroke="#3030ff" stroke-width="0.08" >siMYCN</text>
<text x="594.40" y="39.40" font-size="7.5" text-anchor="start" font-weight="normal" font-style="normal" fill="#111" stroke="#111" stroke-width="0.22" >KAT2A</text>
<polyline points="593.4,85.6 593.8,85.6 594.2,85.6 594.6,85.6 595.1,85.6 595.5,85.5 595.9,85.5 596.3,85.5 596.7,85.5 597.1,85.5 597.5,85.5 598.0,85.5 598.4,85.5 598.8,85.4 599.2,85.4 599.6,85.4 600.0,85.4 600.4,85.4 600.9,85.4 601.3,85.4 601.7,85.3 602.1,85.3 602.5,85.3 602.9,85.3 603.3,85.3 603.8,85.2 604.2,85.2 604.6,85.2 605.0,85.2 605.4,85.1 605.8,85.1 606.2,85.1 606.7,85.1 607.1,85.0 607.5,85.0 607.9,85.0 608.3,85.0 608.7,84.9 609.2,84.9 609.6,84.9 610.0,84.8 610.4,84.8 610.8,84.7 611.2,84.7 611.6,84.7 612.1,84.6 612.5,84.6 612.9,84.5 613.3,84.5 613.7,84.4 614.1,84.4 614.5,84.3 615.0,84.2 615.4,84.2 615.8,84.1 616.2,84.0 616.6,83.9 617.0,83.9 617.4,83.8 617.9,83.7 618.3,83.6 618.7,83.5 619.1,83.3 619.5,83.2 619.9,83.1 620.3,82.9 620.8,82.8 621.2,82.6 621.6,82.4 622.0,82.2 622.4,82.0 622.8,81.7 623.2,81.5 623.7,81.2 624.1,80.9 624.5,80.5 624.9,80.1 625.3,79.7 625.7,79.2 626.1,78.7 626.6,78.1 627.0,77.5 627.4,76.8 627.8,76.0 628.2,75.2 628.6,74.2 629.0,73.2 629.5,72.0 629.9,70.7 630.3,69.3 630.7,67.7 631.1,66.0 631.5,64.0 631.9,61.9 632.4,59.5 632.8,56.9 633.2,54.2 633.6,51.4 634.0,48.7 634.4,46.7 634.8,46.4 635.3,48.0 635.7,50.6 636.1,53.4 636.5,56.2 636.9,58.8 637.3,61.2 637.8,63.5 638.2,65.5 638.6,67.3 639.0,68.9 639.4,70.4 639.8,71.7 640.2,72.9 640.7,74.0 641.1,75.0 641.5,75.9 641.9,76.7 642.3,77.4 642.7,78.0 643.1,78.6 643.6,79.2 644.0,79.6 644.4,80.1 644.8,80.5 645.2,80.8 645.6,81.2 646.0,81.5 646.5,81.8 646.9,82.0 647.3,82.3 647.7,82.5 648.1,82.7 648.5,82.8 648.9,83.0 649.4,83.2 649.8,83.3 650.2,83.4 650.6,83.6 651.0,83.7 651.4,83.8 651.8,83.9 652.3,84.0 652.7,84.1 653.1,84.2 653.5,84.3 653.9,84.3 654.3,84.4 654.7,84.5 655.2,84.5 655.6,84.6 656.0,84.7 656.4,84.7 656.8,84.8 657.2,84.8 657.6,84.9 658.1,84.9 658.5,85.0 658.9,85.0 659.3,85.0 659.7,85.1 660.1,85.1 660.5,85.2 661.0,85.2 661.4,85.2 661.8,85.3 662.2,85.3 662.6,85.3 663.0,85.4 663.5,85.4 663.9,85.4 664.3,85.4 664.7,85.5 665.1,85.5 665.5,85.5 665.9,85.5 666.4,85.6 666.8,85.6 667.2,85.6 667.6,85.6 668.0,85.7 668.4,85.7 668.8,85.7 669.3,85.7 669.7,85.7 670.1,85.8 670.5,85.8 670.9,85.8 671.3,85.8 671.7,85.8 672.2,85.9 672.6,85.9 673.0,85.9 673.4,85.9 673.8,85.9 674.2,85.9 674.6,85.9 675.1,86.0 675.5,86.0 675.9,86.0 676.3,86.0" fill="none" stroke="#ff2020" stroke-width="0.65" stroke-linejoin="round"/>
<polyline points="593.4,86.0 593.8,86.0 594.2,86.0 594.6,86.0 595.1,86.0 595.5,86.0 595.9,86.0 596.3,85.9 596.7,85.9 597.1,85.9 597.5,85.9 598.0,85.9 598.4,85.9 598.8,85.9 599.2,85.9 599.6,85.9 600.0,85.9 600.4,85.9 600.9,85.8 601.3,85.8 601.7,85.8 602.1,85.8 602.5,85.8 602.9,85.8 603.3,85.8 603.8,85.8 604.2,85.7 604.6,85.7 605.0,85.7 605.4,85.7 605.8,85.7 606.2,85.7 606.7,85.6 607.1,85.6 607.5,85.6 607.9,85.6 608.3,85.6 608.7,85.5 609.2,85.5 609.6,85.5 610.0,85.5 610.4,85.4 610.8,85.4 611.2,85.4 611.6,85.4 612.1,85.3 612.5,85.3 612.9,85.3 613.3,85.2 613.7,85.2 614.1,85.2 614.5,85.1 615.0,85.1 615.4,85.0 615.8,85.0 616.2,84.9 616.6,84.9 617.0,84.8 617.4,84.7 617.9,84.7 618.3,84.6 618.7,84.5 619.1,84.4 619.5,84.4 619.9,84.3 620.3,84.2 620.8,84.0 621.2,83.9 621.6,83.8 622.0,83.6 622.4,83.5 622.8,83.3 623.2,83.1 623.7,82.9 624.1,82.7 624.5,82.4 624.9,82.2 625.3,81.9 625.7,81.5 626.1,81.2 626.6,80.8 627.0,80.3 627.4,79.8 627.8,79.3 628.2,78.7 628.6,78.0 629.0,77.3 629.5,76.5 629.9,75.6 630.3,74.5 630.7,73.4 631.1,72.2 631.5,70.8 631.9,69.3 632.4,67.6 632.8,65.8 633.2,63.9 633.6,61.9 634.0,60.0 634.4,58.6 634.8,58.4 635.3,59.5 635.7,61.3 636.1,63.3 636.5,65.3 636.9,67.2 637.3,68.9 637.8,70.4 638.2,71.8 638.6,73.1 639.0,74.3 639.4,75.3 639.8,76.3 640.2,77.1 640.7,77.9 641.1,78.6 641.5,79.2 641.9,79.8 642.3,80.3 642.7,80.7 643.1,81.1 643.6,81.5 644.0,81.9 644.4,82.2 644.8,82.5 645.2,82.7 645.6,83.0 646.0,83.2 646.5,83.4 646.9,83.5 647.3,83.7 647.7,83.9 648.1,84.0 648.5,84.1 648.9,84.3 649.4,84.4 649.8,84.5 650.2,84.6 650.6,84.6 651.0,84.7 651.4,84.8 651.8,84.9 652.3,85.0 652.7,85.0 653.1,85.1 653.5,85.1 653.9,85.2 654.3,85.2 654.7,85.3 655.2,85.3 655.6,85.4 656.0,85.4 656.4,85.5 656.8,85.5 657.2,85.5 657.6,85.6 658.1,85.6 658.5,85.6 658.9,85.7 659.3,85.7 659.7,85.7 660.1,85.8 660.5,85.8 661.0,85.8 661.4,85.8 661.8,85.9 662.2,85.9 662.6,85.9 663.0,85.9 663.5,85.9 663.9,86.0 664.3,86.0 664.7,86.0 665.1,86.0 665.5,86.0 665.9,86.1 666.4,86.1 666.8,86.1 667.2,86.1 667.6,86.1 668.0,86.2 668.4,86.2 668.8,86.2 669.3,86.2 669.7,86.2 670.1,86.2 670.5,86.2 670.9,86.3 671.3,86.3 671.7,86.3 672.2,86.3 672.6,86.3 673.0,86.3 673.4,86.3 673.8,86.3 674.2,86.3 674.6,86.4 675.1,86.4 675.5,86.4 675.9,86.4 676.3,86.4" fill="none" stroke="#3030ff" stroke-width="0.65" stroke-linejoin="round"/>
<rect x="593.40" y="44.50" width="82.90" height="43.90" fill="none" stroke="#3a3a3a" stroke-width="1"/>
<line x1="591.60" y1="46.90" x2="593.40" y2="46.90" stroke="#333" stroke-width="0.8" />
<text x="589.80" y="49.35" font-size="7" text-anchor="end" font-weight="normal" font-style="normal" fill="#111" stroke="#111" stroke-width="0.22" >14</text>
<line x1="591.60" y1="88.40" x2="593.40" y2="88.40" stroke="#333" stroke-width="0.8" />
<text x="589.80" y="90.85" font-size="7" text-anchor="end" font-weight="normal" font-style="normal" fill="#111" stroke="#111" stroke-width="0.22" >2</text>
<line x1="591.60" y1="53.80" x2="593.40" y2="53.80" stroke="#333" stroke-width="0.8" />
<line x1="591.60" y1="60.70" x2="593.40" y2="60.70" stroke="#333" stroke-width="0.8" />
<line x1="591.60" y1="67.60" x2="593.40" y2="67.60" stroke="#333" stroke-width="0.8" />
<line x1="591.60" y1="74.60" x2="593.40" y2="74.60" stroke="#333" stroke-width="0.8" />
<line x1="591.60" y1="81.50" x2="593.40" y2="81.50" stroke="#333" stroke-width="0.8" />
<line x1="593.40" y1="88.40" x2="593.40" y2="90.20" stroke="#333" stroke-width="0.8" />
<line x1="634.70" y1="88.40" x2="634.70" y2="90.20" stroke="#333" stroke-width="0.8" />
<line x1="676.30" y1="88.40" x2="676.30" y2="90.20" stroke="#333" stroke-width="0.8" />
<text x="592.40" y="100.00" font-size="7" text-anchor="middle" font-weight="normal" font-style="normal" fill="#111" stroke="#111" stroke-width="0.22" >-3</text>
<text x="634.70" y="100.00" font-size="7" text-anchor="middle" font-weight="normal" font-style="normal" fill="#111" stroke="#111" stroke-width="0.22" >center</text>
<text x="673.70" y="100.00" font-size="7" text-anchor="middle" font-weight="normal" font-style="normal" fill="#111" stroke="#111" stroke-width="0.22" >3kb</text>
<text x="634.20" y="109.00" font-size="7.08" text-anchor="middle" font-weight="normal" font-style="normal" fill="#111" stroke="#111" stroke-width="0.22" >Distance to MYCN peak center</text>
<text transform="translate(580.70,64.95) rotate(-90)" font-size="7.3" text-anchor="middle" fill="#111" stroke="#111" stroke-width="0.22">RPKM</text>
<text x="596.10" y="54.50" font-size="7.6" text-anchor="start" font-weight="normal" font-style="italic" fill="#ff2020" stroke="#ff2020" stroke-width="0.08" >siCtrl</text>
<text x="596.10" y="63.40" font-size="7.6" text-anchor="start" font-weight="normal" font-style="italic" fill="#3030ff" stroke="#3030ff" stroke-width="0.08" >siMYCN</text>
<text x="1.50" y="312.00" font-size="16" text-anchor="start" font-weight="bold" font-style="normal" fill="#000" >E</text>
<text x="24.20" y="312.20" font-size="7.75" text-anchor="start" font-weight="normal" font-style="normal" fill="#111" stroke="#111" stroke-width="0.22" >Influence of MYCN on KAT2A DNA binding (Dox+ 48h)</text>
<text x="24.20" y="322.70" font-size="7.75" text-anchor="start" font-weight="normal" font-style="normal" fill="#111" stroke="#111" stroke-width="0.22" >MYCN &amp; KAT2A common peaks</text>
<text x="27.60" y="346.10" font-size="7.5" text-anchor="start" font-weight="normal" font-style="normal" fill="#111" stroke="#111" stroke-width="0.22" >MYCN</text>
<polyline points="27.5,393.0 28.0,393.1 28.5,393.2 29.0,393.8 29.5,393.4 30.0,393.6 30.4,393.0 30.9,393.4 31.4,393.7 31.9,393.4 32.4,393.8 32.9,393.6 33.4,393.0 33.9,392.4 34.4,393.0 34.9,392.1 35.4,391.7 35.9,392.4 36.3,392.5 36.8,392.6 37.3,393.0 37.8,392.5 38.3,392.5 38.8,392.7 39.3,393.7 39.8,392.8 40.3,392.9 40.8,392.7 41.3,392.8 41.7,392.8 42.2,393.1 42.7,392.9 43.2,393.0 43.7,393.6 44.2,392.8 44.7,393.5 45.2,393.4 45.7,393.2 46.2,393.2 46.7,393.4 47.1,393.2 47.6,392.8 48.1,392.9 48.6,392.8 49.1,392.9 49.6,393.5 50.1,392.9 50.6,392.5 51.1,392.9 51.6,393.1 52.1,392.7 52.5,392.8 53.0,392.1 53.5,391.9 54.0,392.3 54.5,391.5 55.0,391.7 55.5,391.7 56.0,391.6 56.5,391.6 57.0,391.7 57.5,392.7 58.0,392.5 58.4,392.7 58.9,392.2 59.4,392.7 59.9,392.5 60.4,392.2 60.9,392.0 61.4,391.9 61.9,391.5 62.4,391.6 62.9,391.8 63.4,391.1 63.8,391.6 64.3,391.0 64.8,390.7 65.3,390.5 65.8,389.7 66.3,388.3 66.8,387.1 67.3,385.1 67.8,382.5 68.3,379.9 68.8,375.1 69.2,371.4 69.7,371.2 70.2,374.7 70.7,379.8 71.2,383.3 71.7,385.5 72.2,386.9 72.7,388.4 73.2,389.2 73.7,390.0 74.2,390.2 74.7,391.1 75.1,391.6 75.6,391.1 76.1,391.8 76.6,391.7 77.1,391.7 77.6,392.1 78.1,391.6 78.6,392.0 79.1,391.2 79.6,392.1 80.1,391.2 80.5,390.9 81.0,391.8 81.5,391.6 82.0,391.5 82.5,391.7 83.0,391.4 83.5,391.3 84.0,391.7 84.5,392.5 85.0,392.7 85.5,392.1 86.0,392.4 86.4,392.5 86.9,393.0 87.4,392.2 87.9,393.0 88.4,392.5 88.9,392.8 89.4,392.4 89.9,392.4 90.4,393.2 90.9,392.8 91.4,393.3 91.8,393.2 92.3,393.1 92.8,392.5 93.3,393.0 93.8,393.4 94.3,392.9 94.8,392.5 95.3,392.6 95.8,393.4 96.3,393.4 96.8,392.7 97.2,392.8 97.7,393.2 98.2,393.0 98.7,392.6 99.2,393.5 99.7,393.1 100.2,392.8 100.7,392.5 101.2,393.0 101.7,393.2 102.2,392.7 102.7,392.6 103.1,393.2 103.6,393.4 104.1,392.9 104.6,393.0 105.1,393.1 105.6,393.0 106.1,392.6 106.6,392.8 107.1,392.7 107.6,392.7 108.1,392.6 108.5,392.9 109.0,392.7 109.5,393.3 110.0,392.8 110.5,393.5 111.0,393.3" fill="none" stroke="#ff2020" stroke-width="0.65" stroke-linejoin="round"/>
<polyline points="27.5,393.1 28.0,393.1 28.5,393.3 29.0,392.7 29.5,393.1 30.0,393.3 30.4,393.3 30.9,392.6 31.4,393.0 31.9,393.0 32.4,392.8 32.9,393.3 33.4,392.8 33.9,392.7 34.4,393.2 34.9,392.9 35.4,392.5 35.9,392.5 36.3,392.6 36.8,392.2 37.3,392.7 37.8,392.8 38.3,392.5 38.8,392.8 39.3,392.9 39.8,392.5 40.3,392.6 40.8,392.0 41.3,391.9 41.7,392.8 42.2,392.0 42.7,391.9 43.2,392.6 43.7,392.4 44.2,391.7 44.7,391.8 45.2,391.7 45.7,391.7 46.2,391.3 46.7,391.8 47.1,391.4 47.6,391.4 48.1,391.0 48.6,390.6 49.1,390.3 49.6,391.0 50.1,390.8 50.6,390.6 51.1,390.2 51.6,390.3 52.1,390.3 52.5,390.5 53.0,390.2 53.5,390.4 54.0,390.2 54.5,390.1 55.0,390.4 55.5,390.0 56.0,389.9 56.5,389.6 57.0,389.6 57.5,389.6 58.0,388.9 58.4,388.4 58.9,388.5 59.4,388.1 59.9,388.1 60.4,387.0 60.9,387.3 61.4,385.9 61.9,385.8 62.4,385.0 62.9,384.1 63.4,383.7 63.8,382.5 64.3,380.7 64.8,379.6 65.3,378.0 65.8,375.4 66.3,373.2 66.8,371.0 67.3,368.1 67.8,364.3 68.3,360.4 68.8,356.6 69.2,353.5 69.7,354.1 70.2,357.0 70.7,360.4 71.2,363.8 71.7,367.7 72.2,371.2 72.7,373.4 73.2,375.5 73.7,377.5 74.2,379.8 74.7,381.1 75.1,382.1 75.6,383.5 76.1,384.6 76.6,385.6 77.1,386.2 77.6,386.4 78.1,387.3 78.6,387.9 79.1,388.2 79.6,388.5 80.1,388.7 80.5,388.9 81.0,389.5 81.5,389.5 82.0,389.8 82.5,389.5 83.0,389.6 83.5,389.9 84.0,390.4 84.5,390.5 85.0,390.3 85.5,390.4 86.0,391.2 86.4,390.5 86.9,391.4 87.4,391.2 87.9,391.0 88.4,391.3 88.9,390.8 89.4,390.1 89.9,391.0 90.4,390.6 90.9,391.3 91.4,391.5 91.8,391.0 92.3,391.2 92.8,391.3 93.3,392.2 93.8,392.3 94.3,391.8 94.8,391.8 95.3,392.1 95.8,392.6 96.3,392.6 96.8,392.7 97.2,392.9 97.7,392.7 98.2,392.8 98.7,392.1 99.2,392.1 99.7,393.0 100.2,392.8 100.7,392.5 101.2,392.3 101.7,392.6 102.2,392.6 102.7,392.8 103.1,392.8 103.6,392.6 104.1,392.5 104.6,392.6 105.1,392.6 105.6,392.6 106.1,392.9 106.6,392.6 107.1,393.3 107.6,393.1 108.1,393.0 108.5,393.2 109.0,392.8 109.5,392.7 110.0,392.7 110.5,393.0 111.0,393.0" fill="none" stroke="#3030ff" stroke-width="0.65" stroke-linejoin="round"/>
<rect x="27.50" y="351.30" width="83.50" height="44.70" fill="none" stroke="#3a3a3a" stroke-width="1"/>
<line x1="25.70" y1="359.00" x2="27.50" y2="359.00" stroke="#333" stroke-width="0.8" />
<text x="23.90" y="361.45" font-size="7" text-anchor="end" font-weight="normal" font-style="normal" fill="#111" stroke="#111" stroke-width="0.22" >30</text>
<line x1="25.70" y1="384.30" x2="27.50" y2="384.30" stroke="#333" stroke-width="0.8" />
<text x="23.90" y="386.75" font-size="7" text-anchor="end" font-weight="normal" font-style="normal" fill="#111" stroke="#111" stroke-width="0.22" >10</text>
<line x1="25.70" y1="371.70" x2="27.50" y2="371.70" stroke="#333" stroke-width="0.8" />
<line x1="27.50" y1="396.00" x2="27.50" y2="397.80" stroke="#333" stroke-width="0.8" />
<line x1="69.50" y1="396.00" x2="69.50" y2="397.80" stroke="#333" stroke-width="0.8" />
<line x1="111.00" y1="396.00" x2="111.00" y2="397.80" stroke="#333" stroke-width="0.8" />
<text x="26.50" y="406.50" font-size="7" text-anchor="middle" font-weight="normal" font-style="normal" fill="#111" stroke="#111" stroke-width="0.22" >-3</text>
<text x="69.50" y="406.50" font-size="7" text-anchor="middle" font-weight="normal" font-style="normal" fill="#111" stroke="#111" stroke-width="0.22" >center</text>
<text x="108.40" y="406.50" font-size="7" text-anchor="middle" font-weight="normal" font-style="normal" fill="#111" stroke="#111" stroke-width="0.22" >3kb</text>
<text x="69.00" y="415.70" font-size="7.08" text-anchor="middle" font-weight="normal" font-style="normal" fill="#111" stroke="#111" stroke-width="0.22" >Distance to MYCN peak center</text>
<text transform="translate(14.80,371.65) rotate(-90)" font-size="7.3" text-anchor="middle" fill="#111" stroke="#111" stroke-width="0.22">RPKM</text>
<text x="31.00" y="360.90" font-size="7.6" text-anchor="start" font-weight="normal" font-style="normal" fill="#ff2020" stroke="#ff2020" stroke-width="0.08" >Ctrl</text>
<text x="31.00" y="370.00" font-size="7.6" text-anchor="start" font-weight="normal" font-style="normal" fill="#3030ff" stroke="#3030ff" stroke-width="0.08" >Dox</text>
<text x="138.50" y="345.80" font-size="7.5" text-anchor="start" font-weight="normal" font-style="normal" fill="#111" stroke="#111" stroke-width="0.22" >KAT2A</text>
<polyline points="138.5,392.9 139.0,392.8 139.5,392.0 140.0,392.2 140.5,392.2 140.9,392.7 141.4,392.4 141.9,392.5 142.4,392.7 142.9,392.5 143.4,392.7 143.9,392.0 144.4,392.5 144.8,392.8 145.3,392.5 145.8,391.9 146.3,392.7 146.8,392.7 147.3,392.0 147.8,392.1 148.3,392.0 148.8,391.5 149.2,391.8 149.7,391.2 150.2,390.8 150.7,391.1 151.2,391.3 151.7,391.1 152.2,391.5 152.7,391.6 153.1,391.6 153.6,392.2 154.1,392.1 154.6,391.9 155.1,391.7 155.6,391.6 156.1,392.2 156.6,392.0 157.1,391.6 157.5,391.3 158.0,391.7 158.5,391.2 159.0,391.2 159.5,391.5 160.0,391.0 160.5,391.8 161.0,391.0 161.4,391.8 161.9,391.3 162.4,390.7 162.9,391.3 163.4,390.6 163.9,390.5 164.4,390.9 164.9,390.8 165.4,390.8 165.8,390.9 166.3,390.2 166.8,390.3 167.3,390.5 167.8,390.4 168.3,389.7 168.8,389.4 169.3,389.5 169.7,388.3 170.2,388.8 170.7,388.8 171.2,388.1 171.7,387.8 172.2,387.9 172.7,387.8 173.2,388.0 173.7,387.1 174.1,386.1 174.6,385.9 175.1,384.6 175.6,384.2 176.1,382.6 176.6,381.8 177.1,379.6 177.6,377.6 178.0,374.6 178.5,372.0 179.0,368.5 179.5,363.9 180.0,360.0 180.5,360.1 181.0,362.9 181.5,367.5 182.0,371.4 182.4,374.6 182.9,377.2 183.4,379.3 183.9,381.0 184.4,382.2 184.9,383.5 185.4,384.6 185.9,385.6 186.3,386.1 186.8,386.6 187.3,387.2 187.8,387.8 188.3,388.5 188.8,388.2 189.3,389.0 189.8,389.5 190.3,389.7 190.7,389.5 191.2,389.3 191.7,390.1 192.2,390.1 192.7,390.1 193.2,390.1 193.7,390.1 194.2,390.0 194.6,390.2 195.1,390.3 195.6,390.6 196.1,390.4 196.6,390.9 197.1,390.7 197.6,390.8 198.1,390.6 198.6,390.2 199.0,390.7 199.5,389.9 200.0,390.6 200.5,390.5 201.0,390.2 201.5,390.7 202.0,391.5 202.5,391.7 202.9,391.0 203.4,391.1 203.9,391.2 204.4,391.3 204.9,392.1 205.4,392.0 205.9,391.7 206.4,391.9 206.9,391.8 207.3,392.1 207.8,392.3 208.3,392.0 208.8,391.5 209.3,391.9 209.8,391.5 210.3,392.1 210.8,392.1 211.2,391.7 211.7,392.1 212.2,392.1 212.7,392.0 213.2,391.6 213.7,392.0 214.2,392.3 214.7,392.3 215.2,392.3 215.6,391.6 216.1,392.5 216.6,391.7 217.1,391.6 217.6,392.4 218.1,392.3 218.6,391.9 219.1,391.8 219.5,392.5 220.0,392.0 220.5,392.4 221.0,391.9 221.5,392.3" fill="none" stroke="#ff2020" stroke-width="0.65" stroke-linejoin="round"/>
<polyline points="138.5,392.2 139.0,392.2 139.5,392.7 140.0,392.5 140.5,392.6 140.9,391.8 141.4,392.1 141.9,392.3 142.4,392.2 142.9,391.8 143.4,392.1 143.9,392.1 144.4,392.6 144.8,392.5 145.3,391.9 145.8,392.3 146.3,391.8 146.8,392.0 147.3,391.6 147.8,391.9 148.3,392.1 148.8,392.1 149.2,391.9 149.7,391.9 150.2,391.4 150.7,391.5 151.2,390.7 151.7,390.5 152.2,390.7 152.7,391.2 153.1,390.8 153.6,391.4 154.1,391.2 154.6,391.0 155.1,391.3 155.6,391.5 156.1,391.2 156.6,391.2 157.1,391.8 157.5,391.4 158.0,391.1 158.5,391.2 159.0,390.9 159.5,391.3 160.0,391.0 160.5,391.0 161.0,390.6 161.4,390.8 161.9,390.3 162.4,390.2 162.9,390.5 163.4,390.2 163.9,390.0 164.4,389.7 164.9,389.6 165.4,389.1 165.8,389.9 166.3,389.8 166.8,389.1 167.3,389.5 167.8,389.8 168.3,389.7 168.8,388.8 169.3,389.2 169.7,388.6 170.2,388.3 170.7,388.1 171.2,388.1 171.7,387.9 172.2,387.4 172.7,386.5 173.2,386.3 173.7,386.2 174.1,384.6 174.6,384.2 175.1,383.1 175.6,382.1 176.1,380.4 176.6,378.5 177.1,376.9 177.6,374.1 178.0,370.9 178.5,367.3 179.0,362.7 179.5,358.0 180.0,353.7 180.5,353.7 181.0,357.5 181.5,362.1 182.0,366.2 182.4,370.3 182.9,373.2 183.4,376.1 183.9,378.1 184.4,380.6 184.9,381.8 185.4,382.7 185.9,384.4 186.3,384.8 186.8,385.3 187.3,386.2 187.8,386.6 188.3,387.5 188.8,387.6 189.3,387.7 189.8,387.9 190.3,388.8 190.7,388.5 191.2,388.6 191.7,389.3 192.2,389.5 192.7,389.3 193.2,389.5 193.7,389.9 194.2,390.3 194.6,390.3 195.1,390.2 195.6,390.1 196.1,390.1 196.6,390.5 197.1,390.0 197.6,390.8 198.1,390.6 198.6,390.2 199.0,391.0 199.5,390.9 200.0,390.5 200.5,390.9 201.0,391.0 201.5,391.0 202.0,391.3 202.5,390.8 202.9,390.4 203.4,390.2 203.9,390.6 204.4,390.6 204.9,390.1 205.4,390.2 205.9,390.8 206.4,390.8 206.9,390.9 207.3,391.3 207.8,391.6 208.3,391.7 208.8,391.6 209.3,391.2 209.8,392.1 210.3,392.1 210.8,391.2 211.2,392.0 211.7,391.8 212.2,392.2 212.7,392.1 213.2,392.0 213.7,391.5 214.2,392.0 214.7,391.6 215.2,392.2 215.6,392.0 216.1,392.2 216.6,392.3 217.1,391.5 217.6,392.1 218.1,392.2 218.6,391.6 219.1,392.2 219.5,392.3 220.0,391.8 220.5,391.7 221.0,392.3 221.5,392.4" fill="none" stroke="#3030ff" stroke-width="0.65" stroke-linejoin="round"/>
<rect x="138.50" y="350.50" width="83.00" height="44.90" fill="none" stroke="#3a3a3a" stroke-width="1"/>
<line x1="136.70" y1="354.50" x2="138.50" y2="354.50" stroke="#333" stroke-width="0.8" />
<text x="134.90" y="356.95" font-size="7" text-anchor="end" font-weight="normal" font-style="normal" fill="#111" stroke="#111" stroke-width="0.22" >30</text>
<line x1="136.70" y1="390.30" x2="138.50" y2="390.30" stroke="#333" stroke-width="0.8" />
<text x="134.90" y="392.75" font-size="7" text-anchor="end" font-weight="normal" font-style="normal" fill="#111" stroke="#111" stroke-width="0.22" >5</text>
<line x1="136.70" y1="361.60" x2="138.50" y2="361.60" stroke="#333" stroke-width="0.8" />
<line x1="136.70" y1="368.80" x2="138.50" y2="368.80" stroke="#333" stroke-width="0.8" />
<line x1="136.70" y1="376.00" x2="138.50" y2="376.00" stroke="#333" stroke-width="0.8" />
<line x1="136.70" y1="383.10" x2="138.50" y2="383.10" stroke="#333" stroke-width="0.8" />
<line x1="138.50" y1="395.40" x2="138.50" y2="397.20" stroke="#333" stroke-width="0.8" />
<line x1="180.30" y1="395.40" x2="180.30" y2="397.20" stroke="#333" stroke-width="0.8" />
<line x1="221.50" y1="395.40" x2="221.50" y2="397.20" stroke="#333" stroke-width="0.8" />
<text x="137.50" y="405.90" font-size="7" text-anchor="middle" font-weight="normal" font-style="normal" fill="#111" stroke="#111" stroke-width="0.22" >-3</text>
<text x="180.30" y="405.90" font-size="7" text-anchor="middle" font-weight="normal" font-style="normal" fill="#111" stroke="#111" stroke-width="0.22" >center</text>
<text x="218.90" y="405.90" font-size="7" text-anchor="middle" font-weight="normal" font-style="normal" fill="#111" stroke="#111" stroke-width="0.22" >3kb</text>
<text x="179.80" y="415.10" font-size="7.08" text-anchor="middle" font-weight="normal" font-style="normal" fill="#111" stroke="#111" stroke-width="0.22" >Distance to MYCN peak center</text>
<text transform="translate(125.80,370.95) rotate(-90)" font-size="7.3" text-anchor="middle" fill="#111" stroke="#111" stroke-width="0.22">RPKM</text>
<text x="142.00" y="360.10" font-size="7.6" text-anchor="start" font-weight="normal" font-style="normal" fill="#ff2020" stroke="#ff2020" stroke-width="0.08" >Ctrl</text>
<text x="142.00" y="369.20" font-size="7.6" text-anchor="start" font-weight="normal" font-style="normal" fill="#3030ff" stroke="#3030ff" stroke-width="0.08" >Dox</text>
<text x="1.30" y="144.80" font-size="16" text-anchor="start" font-weight="bold" font-style="normal" fill="#000" >D</text>
<text x="18.00" y="148.40" font-size="7.08" text-anchor="start" font-weight="normal" font-style="normal" fill="#111" stroke="#111" stroke-width="0.22" >IMR32 (<tspan font-style="italic">siMYCN</tspan> 72h)</text>
<rect x="81.00" y="165.00" width="162.00" height="82.30" fill="#f8f8f8" />
<text x="41.20" y="162.70" font-size="7" text-anchor="start" font-weight="normal" font-style="italic" fill="#111" stroke="#111" stroke-width="0.22" >siMYCN</text>
<text x="16.60" y="182.00" font-size="7" text-anchor="start" font-weight="normal" font-style="normal" fill="#111" stroke="#111" stroke-width="0.22" >MYCN</text>
<line x1="46.90" y1="170.30" x2="46.90" y2="189.50" stroke="#555" stroke-width="0.9" />
<line x1="53.20" y1="172.50" x2="55.80" y2="172.50" stroke="#222" stroke-width="0.95" />
<text x="51.00" y="188.40" font-size="8" text-anchor="start" font-weight="normal" font-style="normal" fill="#111" stroke="#111" stroke-width="0.22" >+</text>
<text x="61.40" y="174.70" font-size="6.8" text-anchor="start" font-weight="normal" font-style="normal" fill="#111" stroke="#111" stroke-width="0.22" >187</text>
<text x="61.40" y="188.10" font-size="6.8" text-anchor="start" font-weight="normal" font-style="normal" fill="#111" stroke="#111" stroke-width="0.22" >187</text>
<text x="16.60" y="208.30" font-size="7" text-anchor="start" font-weight="normal" font-style="normal" fill="#111" stroke="#111" stroke-width="0.22" >KAT2A</text>
<line x1="46.90" y1="196.20" x2="46.90" y2="216.00" stroke="#555" stroke-width="0.9" />
<line x1="53.20" y1="199.50" x2="55.80" y2="199.50" stroke="#222" stroke-width="0.95" />
<text x="51.00" y="214.60" font-size="8" text-anchor="start" font-weight="normal" font-style="normal" fill="#111" stroke="#111" stroke-width="0.22" >+</text>
<text x="61.40" y="202.00" font-size="6.8" text-anchor="start" font-weight="normal" font-style="normal" fill="#111" stroke="#111" stroke-width="0.22" >17</text>
<text x="61.40" y="214.30" font-size="6.8" text-anchor="start" font-weight="normal" font-style="normal" fill="#111" stroke="#111" stroke-width="0.22" >17</text>
<text x="16.60" y="236.80" font-size="7" text-anchor="start" font-weight="normal" font-style="normal" fill="#111" stroke="#111" stroke-width="0.22" >RNAseq</text>
<line x1="46.90" y1="225.00" x2="46.90" y2="244.60" stroke="#555" stroke-width="0.9" />
<line x1="53.20" y1="227.50" x2="55.80" y2="227.50" stroke="#222" stroke-width="0.95" />
<text x="51.00" y="243.40" font-size="8" text-anchor="start" font-weight="normal" font-style="normal" fill="#111" stroke="#111" stroke-width="0.22" >+</text>
<text x="61.40" y="230.60" font-size="6.8" text-anchor="start" font-weight="normal" font-style="normal" fill="#111" stroke="#111" stroke-width="0.22" >3639</text>
<text x="61.40" y="243.10" font-size="6.8" text-anchor="start" font-weight="normal" font-style="normal" fill="#111" stroke="#111" stroke-width="0.22" >3639</text>
<line x1="81.00" y1="177.30" x2="243.00" y2="177.30" stroke="#e06464" stroke-width="1.0" />
<path d="M81.0,177.4 L81.0,177.0 L82.4,177.0 L82.4,177.4 L83.8,177.4 L83.8,177.3 L84.5,177.3 L84.5,176.8 L85.9,176.8 L85.9,177.0 L86.6,177.0 L86.6,177.3 L87.3,177.3 L87.3,177.4 L88.7,177.4 L88.7,177.3 L90.1,177.3 L90.1,177.4 L90.8,177.4 L90.8,177.3 L92.2,177.3 L92.2,177.0 L92.9,177.0 L92.9,177.1 L93.6,177.1 L93.6,177.4 L95.0,177.4 L95.0,177.3 L95.7,177.3 L95.7,177.4 L97.1,177.4 L97.1,177.3 L97.8,177.3 L97.8,177.4 L99.2,177.4 L99.2,177.2 L99.9,177.2 L99.9,177.1 L100.6,177.1 L100.6,177.2 L102.0,177.2 L102.0,176.9 L102.7,176.9 L102.7,177.4 L103.4,177.4 L103.4,177.3 L105.5,177.3 L105.5,177.4 L107.6,177.4 L107.6,177.3 L108.3,177.3 L108.3,177.4 L109.0,177.4 L109.0,177.3 L109.7,177.3 L109.7,177.4 L110.4,177.4 L110.4,177.3 L111.1,177.3 L111.1,177.4 L111.8,177.4 L111.8,177.3 L112.5,177.3 L112.5,177.4 L115.3,177.4 L115.3,177.3 L116.0,177.3 L116.0,177.4 L119.5,177.4 L119.5,177.3 L121.6,177.3 L121.6,177.4 L122.3,177.4 L122.3,177.3 L123.7,177.3 L123.7,177.4 L124.4,177.4 L124.4,177.3 L126.5,177.3 L126.5,177.4 L127.2,177.4 L127.2,177.3 L127.9,177.3 L127.9,177.4 L128.6,177.4 L128.6,177.3 L129.3,177.3 L129.3,177.4 L130.7,177.4 L130.7,177.3 L132.1,177.3 L132.1,176.6 L132.8,176.6 L132.8,176.8 L133.5,176.8 L133.5,176.7 L134.2,176.7 L134.2,177.3 L137.0,177.3 L137.0,177.0 L137.7,177.0 L137.7,176.6 L139.1,176.6 L139.1,176.7 L141.2,176.7 L141.2,177.4 L142.6,177.4 L142.6,177.0 L143.3,177.0 L143.3,176.8 L144.0,176.8 L144.0,177.1 L144.7,177.1 L144.7,176.7 L145.4,176.7 L145.4,176.8 L146.1,176.8 L146.1,177.0 L146.8,177.0 L146.8,176.9 L147.5,176.9 L147.5,177.4 L148.2,177.4 L148.2,177.3 L150.3,177.3 L150.3,177.4 L151.7,177.4 L151.7,176.9 L152.4,176.9 L152.4,177.0 L153.1,177.0 L153.1,177.4 L154.5,177.4 L154.5,177.3 L156.6,177.3 L156.6,177.4 L159.4,177.4 L159.4,177.3 L160.8,177.3 L160.8,177.4 L162.2,177.4 L162.2,177.3 L163.6,177.3 L163.6,177.4 L164.3,177.4 L164.3,177.3 L165.0,177.3 L165.0,177.4 L166.4,177.4 L166.4,177.3 L167.1,177.3 L167.1,177.4 L167.8,177.4 L167.8,177.3 L168.5,177.3 L168.5,177.4 L169.2,177.4 L169.2,177.3 L170.6,177.3 L170.6,177.4 L172.7,177.4 L172.7,177.2 L174.1,177.2 L174.1,177.1 L175.5,177.1 L175.5,177.3 L176.2,177.3 L176.2,177.4 L178.3,177.4 L178.3,177.3 L179.7,177.3 L179.7,177.4 L181.1,177.4 L181.1,177.3 L183.9,177.3 L183.9,177.4 L184.6,177.4 L184.6,177.3 L185.3,177.3 L185.3,177.4 L186.7,177.4 L186.7,177.3 L188.1,177.3 L188.1,177.4 L189.5,177.4 L189.5,177.3 L190.2,177.3 L190.2,177.4 L191.6,177.4 L191.6,177.3 L192.3,177.3 L192.3,177.4 L193.0,177.4 L193.0,177.3 L193.7,177.3 L193.7,177.2 L195.1,177.2 L195.1,177.4 L195.8,177.4 L195.8,177.3 L196.5,177.3 L196.5,177.4 L197.9,177.4 L197.9,177.3 L199.3,177.3 L199.3,177.4 L200.0,177.4 L200.0,177.3 L200.7,177.3 L200.7,177.1 L201.4,177.1 L201.4,176.2 L202.1,176.2 L202.1,175.0 L202.8,175.0 L202.8,173.7 L203.5,173.7 L203.5,172.7 L204.2,172.7 L204.2,171.2 L204.9,171.2 L204.9,170.1 L205.6,170.1 L205.6,167.7 L207.0,167.7 L207.0,169.9 L207.7,169.9 L207.7,171.4 L208.4,171.4 L208.4,171.8 L209.1,171.8 L209.1,172.6 L209.8,172.6 L209.8,173.1 L210.5,173.1 L210.5,173.9 L211.2,173.9 L211.2,175.0 L211.9,175.0 L211.9,175.7 L212.6,175.7 L212.6,173.8 L213.3,173.8 L213.3,172.4 L214.0,172.4 L214.0,172.1 L214.7,172.1 L214.7,172.0 L215.4,172.0 L215.4,172.4 L216.1,172.4 L216.1,173.2 L216.8,173.2 L216.8,173.7 L217.5,173.7 L217.5,174.3 L218.2,174.3 L218.2,175.1 L218.9,175.1 L218.9,175.5 L219.6,175.5 L219.6,176.1 L220.3,176.1 L220.3,176.5 L221.0,176.5 L221.0,177.2 L221.7,177.2 L221.7,177.4 L222.4,177.4 L222.4,177.3 L223.1,177.3 L223.1,177.4 L223.8,177.4 L223.8,177.3 L224.5,177.3 L224.5,177.4 L225.2,177.4 L225.2,177.3 L226.6,177.3 L226.6,177.4 L227.3,177.4 L227.3,177.3 L230.8,177.3 L230.8,177.4 L231.5,177.4 L231.5,177.3 L232.9,177.3 L232.9,177.4 L237.1,177.4 L237.1,177.3 L237.8,177.3 L237.8,177.4 L239.9,177.4 L239.9,177.3 L242.0,177.3 L242.0,177.4 L242.7,177.4 L242.7,177.3 L243.0,177.3 L243.0,177.4 Z" fill="#d8190c" stroke="none"/>
<line x1="81.00" y1="191.30" x2="243.00" y2="191.30" stroke="#e06464" stroke-width="1.0" />
<path d="M81.0,191.4 L81.0,191.4 L82.4,191.4 L82.4,191.3 L83.1,191.3 L83.1,191.4 L83.8,191.4 L83.8,191.3 L85.2,191.3 L85.2,191.4 L87.3,191.4 L87.3,191.3 L88.7,191.3 L88.7,191.4 L89.4,191.4 L89.4,191.3 L90.1,191.3 L90.1,191.4 L92.9,191.4 L92.9,191.3 L93.6,191.3 L93.6,191.4 L94.3,191.4 L94.3,191.3 L95.0,191.3 L95.0,191.4 L95.7,191.4 L95.7,191.3 L97.1,191.3 L97.1,191.4 L98.5,191.4 L98.5,191.3 L99.9,191.3 L99.9,191.4 L102.7,191.4 L102.7,191.3 L104.1,191.3 L104.1,191.1 L104.8,191.1 L104.8,191.0 L105.5,191.0 L105.5,191.1 L106.9,191.1 L106.9,191.4 L107.6,191.4 L107.6,191.3 L108.3,191.3 L108.3,191.4 L111.1,191.4 L111.1,191.3 L113.2,191.3 L113.2,191.4 L115.3,191.4 L115.3,191.3 L116.0,191.3 L116.0,191.4 L118.1,191.4 L118.1,191.3 L118.8,191.3 L118.8,191.4 L120.2,191.4 L120.2,191.3 L120.9,191.3 L120.9,191.4 L121.6,191.4 L121.6,191.3 L122.3,191.3 L122.3,191.4 L123.0,191.4 L123.0,191.3 L124.4,191.3 L124.4,191.4 L125.8,191.4 L125.8,191.3 L127.2,191.3 L127.2,191.4 L127.9,191.4 L127.9,191.3 L130.0,191.3 L130.0,191.4 L130.7,191.4 L130.7,191.3 L132.8,191.3 L132.8,191.4 L133.5,191.4 L133.5,191.3 L137.0,191.3 L137.0,191.4 L137.7,191.4 L137.7,191.3 L138.4,191.3 L138.4,191.4 L140.5,191.4 L140.5,191.3 L142.6,191.3 L142.6,191.4 L146.8,191.4 L146.8,191.3 L148.9,191.3 L148.9,191.4 L149.6,191.4 L149.6,191.3 L150.3,191.3 L150.3,191.4 L152.4,191.4 L152.4,191.3 L153.1,191.3 L153.1,191.4 L155.2,191.4 L155.2,191.0 L155.9,191.0 L155.9,191.1 L156.6,191.1 L156.6,191.3 L158.0,191.3 L158.0,191.4 L160.8,191.4 L160.8,191.3 L162.2,191.3 L162.2,191.4 L163.6,191.4 L163.6,191.3 L165.0,191.3 L165.0,191.4 L167.8,191.4 L167.8,191.3 L168.5,191.3 L168.5,191.4 L170.6,191.4 L170.6,191.3 L172.0,191.3 L172.0,191.4 L172.7,191.4 L172.7,191.3 L174.8,191.3 L174.8,191.4 L176.9,191.4 L176.9,191.3 L180.4,191.3 L180.4,191.4 L183.9,191.4 L183.9,191.3 L186.7,191.3 L186.7,191.2 L187.4,191.2 L187.4,191.1 L188.1,191.1 L188.1,191.2 L188.8,191.2 L188.8,191.3 L189.5,191.3 L189.5,191.4 L190.2,191.4 L190.2,191.3 L191.6,191.3 L191.6,191.4 L192.3,191.4 L192.3,191.3 L193.0,191.3 L193.0,191.4 L193.7,191.4 L193.7,191.3 L197.2,191.3 L197.2,191.4 L200.7,191.4 L200.7,191.0 L201.4,191.0 L201.4,190.6 L202.1,190.6 L202.1,190.0 L202.8,190.0 L202.8,189.3 L203.5,189.3 L203.5,188.6 L204.2,188.6 L204.2,188.3 L204.9,188.3 L204.9,187.6 L205.6,187.6 L205.6,186.6 L206.3,186.6 L206.3,186.9 L207.0,186.9 L207.0,187.6 L207.7,187.6 L207.7,188.0 L208.4,188.0 L208.4,188.7 L209.1,188.7 L209.1,188.8 L209.8,188.8 L209.8,189.3 L210.5,189.3 L210.5,189.7 L211.2,189.7 L211.2,190.0 L211.9,190.0 L211.9,190.4 L212.6,190.4 L212.6,189.1 L213.3,189.1 L213.3,188.5 L214.7,188.5 L214.7,188.2 L215.4,188.2 L215.4,188.5 L216.1,188.5 L216.1,189.0 L216.8,189.0 L216.8,189.4 L217.5,189.4 L217.5,189.6 L218.2,189.6 L218.2,190.1 L218.9,190.1 L218.9,190.4 L219.6,190.4 L219.6,190.7 L220.3,190.7 L220.3,190.9 L221.0,190.9 L221.0,190.8 L221.7,190.8 L221.7,191.1 L222.4,191.1 L222.4,191.3 L223.1,191.3 L223.1,191.4 L225.2,191.4 L225.2,191.3 L225.9,191.3 L225.9,191.4 L226.6,191.4 L226.6,191.3 L227.3,191.3 L227.3,191.4 L230.8,191.4 L230.8,191.3 L232.2,191.3 L232.2,191.4 L235.0,191.4 L235.0,191.3 L236.4,191.3 L236.4,191.4 L237.8,191.4 L237.8,191.0 L239.2,191.0 L239.2,191.2 L239.9,191.2 L239.9,191.0 L240.6,191.0 L240.6,191.4 L243.0,191.4 L243.0,191.4 Z" fill="#d8190c" stroke="none"/>
<line x1="81.00" y1="204.50" x2="243.00" y2="204.50" stroke="#6464f0" stroke-width="1.0" />
<path d="M81.0,204.6 L81.0,202.8 L82.2,202.8 L82.2,202.4 L84.6,202.4 L84.6,202.6 L85.8,202.6 L85.8,203.7 L87.0,203.7 L87.0,201.3 L88.2,201.3 L88.2,200.8 L89.4,200.8 L89.4,201.2 L90.6,201.2 L90.6,202.5 L91.8,202.5 L91.8,204.2 L93.0,204.2 L93.0,204.4 L96.6,204.4 L96.6,204.5 L97.8,204.5 L97.8,202.2 L99.0,202.2 L99.0,201.8 L100.2,201.8 L100.2,203.1 L101.4,203.1 L101.4,202.0 L102.6,202.0 L102.6,203.5 L103.8,203.5 L103.8,203.3 L106.2,203.3 L106.2,203.6 L107.4,203.6 L107.4,203.0 L108.6,203.0 L108.6,203.4 L111.0,203.4 L111.0,203.5 L112.2,203.5 L112.2,203.3 L113.4,203.3 L113.4,203.5 L114.6,203.5 L114.6,204.0 L115.8,204.0 L115.8,203.4 L117.0,203.4 L117.0,203.2 L118.2,203.2 L118.2,203.6 L119.4,203.6 L119.4,203.1 L121.8,203.1 L121.8,203.2 L123.0,203.2 L123.0,202.9 L124.2,202.9 L124.2,202.5 L125.4,202.5 L125.4,202.8 L126.6,202.8 L126.6,203.5 L127.8,203.5 L127.8,202.9 L129.0,202.9 L129.0,203.2 L130.2,203.2 L130.2,203.8 L131.4,203.8 L131.4,203.1 L132.6,203.1 L132.6,203.4 L133.8,203.4 L133.8,203.0 L135.0,203.0 L135.0,202.7 L137.4,202.7 L137.4,203.6 L138.6,203.6 L138.6,202.9 L139.8,202.9 L139.8,203.1 L141.0,203.1 L141.0,203.6 L142.2,203.6 L142.2,203.5 L143.4,203.5 L143.4,204.3 L144.6,204.3 L144.6,204.6 L145.8,204.6 L145.8,204.4 L147.0,204.4 L147.0,203.7 L148.2,203.7 L148.2,203.5 L149.4,203.5 L149.4,204.2 L150.6,204.2 L150.6,204.5 L153.0,204.5 L153.0,202.2 L154.2,202.2 L154.2,202.5 L155.4,202.5 L155.4,203.3 L156.6,203.3 L156.6,202.6 L157.8,202.6 L157.8,202.3 L159.0,202.3 L159.0,203.5 L161.4,203.5 L161.4,203.6 L162.6,203.6 L162.6,203.3 L163.8,203.3 L163.8,203.8 L165.0,203.8 L165.0,203.3 L166.2,203.3 L166.2,203.0 L167.4,203.0 L167.4,204.5 L169.8,204.5 L169.8,204.0 L171.0,204.0 L171.0,203.7 L172.2,203.7 L172.2,203.9 L173.4,203.9 L173.4,203.6 L174.6,203.6 L174.6,203.9 L175.8,203.9 L175.8,203.5 L177.0,203.5 L177.0,203.4 L179.4,203.4 L179.4,203.7 L180.6,203.7 L180.6,202.9 L181.8,202.9 L181.8,203.5 L183.0,203.5 L183.0,202.8 L184.2,202.8 L184.2,202.2 L186.6,202.2 L186.6,202.6 L187.8,202.6 L187.8,203.9 L189.0,203.9 L189.0,203.4 L190.2,203.4 L190.2,204.1 L191.4,204.1 L191.4,203.9 L192.6,203.9 L192.6,204.4 L193.8,204.4 L193.8,204.5 L195.0,204.5 L195.0,204.4 L196.2,204.4 L196.2,203.3 L197.4,203.3 L197.4,201.3 L198.6,201.3 L198.6,199.9 L199.8,199.9 L199.8,198.8 L201.0,198.8 L201.0,198.0 L202.2,198.0 L202.2,197.0 L203.4,197.0 L203.4,196.1 L204.6,196.1 L204.6,195.4 L205.8,195.4 L205.8,197.1 L207.0,197.1 L207.0,194.2 L208.2,194.2 L208.2,195.3 L209.4,195.3 L209.4,195.9 L210.6,195.9 L210.6,197.1 L211.8,197.1 L211.8,195.8 L213.0,195.8 L213.0,195.9 L214.2,195.9 L214.2,195.5 L215.4,195.5 L215.4,196.8 L216.6,196.8 L216.6,198.1 L217.8,198.1 L217.8,199.7 L219.0,199.7 L219.0,199.5 L220.2,199.5 L220.2,201.2 L221.4,201.2 L221.4,201.3 L222.6,201.3 L222.6,202.6 L223.8,202.6 L223.8,202.7 L225.0,202.7 L225.0,202.0 L226.2,202.0 L226.2,202.9 L227.4,202.9 L227.4,202.4 L228.6,202.4 L228.6,203.0 L229.8,203.0 L229.8,203.4 L232.2,203.4 L232.2,203.1 L233.4,203.1 L233.4,202.0 L234.6,202.0 L234.6,202.9 L235.8,202.9 L235.8,203.1 L237.0,203.1 L237.0,202.2 L238.2,202.2 L238.2,203.0 L239.4,203.0 L239.4,202.8 L240.6,202.8 L240.6,202.2 L241.8,202.2 L241.8,203.3 L243.0,203.3 L243.0,202.8 L243.0,202.8 L243.0,204.6 Z" fill="#1a05e0" stroke="none"/>
<line x1="81.00" y1="218.20" x2="243.00" y2="218.20" stroke="#6464f0" stroke-width="1.0" />
<path d="M81.0,218.3 L81.0,217.0 L82.2,217.0 L82.2,216.2 L83.4,216.2 L83.4,216.9 L84.6,216.9 L84.6,217.2 L85.8,217.2 L85.8,217.5 L87.0,217.5 L87.0,217.8 L88.2,217.8 L88.2,217.6 L89.4,217.6 L89.4,217.1 L90.6,217.1 L90.6,217.5 L91.8,217.5 L91.8,217.3 L93.0,217.3 L93.0,218.3 L94.2,218.3 L94.2,218.0 L95.4,218.0 L95.4,217.9 L96.6,217.9 L96.6,217.6 L97.8,217.6 L97.8,216.7 L99.0,216.7 L99.0,217.1 L100.2,217.1 L100.2,217.5 L101.4,217.5 L101.4,217.0 L102.6,217.0 L102.6,217.1 L103.8,217.1 L103.8,217.3 L105.0,217.3 L105.0,218.2 L106.2,218.2 L106.2,218.3 L107.4,218.3 L107.4,216.2 L108.6,216.2 L108.6,216.5 L109.8,216.5 L109.8,218.1 L111.0,218.1 L111.0,216.8 L112.2,216.8 L112.2,216.1 L113.4,216.1 L113.4,217.0 L114.6,217.0 L114.6,216.8 L115.8,216.8 L115.8,216.7 L117.0,216.7 L117.0,217.5 L118.2,217.5 L118.2,216.9 L119.4,216.9 L119.4,217.1 L120.6,217.1 L120.6,217.7 L121.8,217.7 L121.8,216.9 L123.0,216.9 L123.0,218.3 L124.2,218.3 L124.2,218.0 L125.4,218.0 L125.4,217.2 L126.6,217.2 L126.6,217.3 L127.8,217.3 L127.8,216.7 L129.0,216.7 L129.0,216.9 L130.2,216.9 L130.2,217.2 L131.4,217.2 L131.4,217.6 L133.8,217.6 L133.8,216.8 L135.0,216.8 L135.0,214.9 L136.2,214.9 L136.2,215.3 L137.4,215.3 L137.4,217.1 L138.6,217.1 L138.6,217.4 L139.8,217.4 L139.8,216.8 L141.0,216.8 L141.0,217.2 L142.2,217.2 L142.2,216.7 L143.4,216.7 L143.4,218.1 L144.6,218.1 L144.6,216.1 L145.8,216.1 L145.8,216.8 L148.2,216.8 L148.2,218.1 L149.4,218.1 L149.4,217.9 L150.6,217.9 L150.6,218.1 L151.8,218.1 L151.8,218.2 L153.0,218.2 L153.0,218.0 L154.2,218.0 L154.2,218.3 L155.4,218.3 L155.4,218.2 L156.6,218.2 L156.6,217.1 L157.8,217.1 L157.8,217.5 L159.0,217.5 L159.0,216.7 L160.2,216.7 L160.2,217.3 L161.4,217.3 L161.4,217.2 L162.6,217.2 L162.6,217.0 L163.8,217.0 L163.8,217.6 L165.0,217.6 L165.0,217.8 L166.2,217.8 L166.2,218.0 L168.6,218.0 L168.6,217.9 L169.8,217.9 L169.8,217.0 L171.0,217.0 L171.0,216.3 L172.2,216.3 L172.2,217.4 L173.4,217.4 L173.4,216.4 L174.6,216.4 L174.6,218.0 L175.8,218.0 L175.8,217.9 L177.0,217.9 L177.0,218.3 L178.2,218.3 L178.2,218.0 L179.4,218.0 L179.4,218.3 L180.6,218.3 L180.6,217.2 L183.0,217.2 L183.0,217.8 L184.2,217.8 L184.2,217.2 L185.4,217.2 L185.4,217.6 L186.6,217.6 L186.6,217.5 L187.8,217.5 L187.8,217.2 L190.2,217.2 L190.2,216.8 L191.4,216.8 L191.4,217.5 L192.6,217.5 L192.6,217.0 L193.8,217.0 L193.8,217.4 L195.0,217.4 L195.0,217.2 L196.2,217.2 L196.2,216.5 L197.4,216.5 L197.4,215.9 L198.6,215.9 L198.6,213.5 L199.8,213.5 L199.8,211.9 L201.0,211.9 L201.0,211.3 L202.2,211.3 L202.2,212.1 L203.4,212.1 L203.4,211.8 L204.6,211.8 L204.6,211.6 L205.8,211.6 L205.8,211.7 L207.0,211.7 L207.0,212.1 L208.2,212.1 L208.2,213.5 L209.4,213.5 L209.4,214.0 L210.6,214.0 L210.6,214.1 L211.8,214.1 L211.8,214.5 L213.0,214.5 L213.0,212.7 L214.2,212.7 L214.2,213.5 L216.6,213.5 L216.6,214.8 L217.8,214.8 L217.8,214.7 L219.0,214.7 L219.0,215.2 L220.2,215.2 L220.2,215.5 L221.4,215.5 L221.4,215.7 L222.6,215.7 L222.6,215.8 L223.8,215.8 L223.8,215.5 L225.0,215.5 L225.0,216.8 L227.4,216.8 L227.4,215.2 L228.6,215.2 L228.6,216.3 L229.8,216.3 L229.8,215.9 L231.0,215.9 L231.0,216.1 L232.2,216.1 L232.2,215.5 L233.4,215.5 L233.4,216.4 L234.6,216.4 L234.6,217.0 L235.8,217.0 L235.8,217.1 L237.0,217.1 L237.0,216.6 L238.2,216.6 L238.2,216.7 L239.4,216.7 L239.4,217.1 L240.6,217.1 L240.6,216.5 L241.8,216.5 L241.8,216.2 L243.0,216.2 L243.0,216.6 L243.0,216.6 L243.0,218.3 Z" fill="#1a05e0" stroke="none"/>
<line x1="81.00" y1="232.20" x2="243.00" y2="232.20" stroke="#7575ee" stroke-width="1.0" />
<path d="M81.0,232.3 L81.0,232.3 L97.5,232.3 L97.5,232.2 L98.0,232.2 L98.0,232.1 L98.5,232.1 L98.5,232.3 L106.0,232.3 L106.0,232.1 L106.5,232.1 L106.5,232.2 L107.5,232.2 L107.5,232.1 L108.0,232.1 L108.0,232.3 L122.5,232.3 L122.5,231.7 L123.0,231.7 L123.0,230.9 L123.5,230.9 L123.5,230.0 L124.0,230.0 L124.0,229.1 L124.5,229.1 L124.5,228.2 L125.0,228.2 L125.0,227.3 L125.5,227.3 L125.5,226.4 L126.0,226.4 L126.0,225.5 L126.5,225.5 L126.5,225.3 L127.0,225.3 L127.0,225.6 L127.5,225.6 L127.5,226.2 L128.0,226.2 L128.0,226.9 L128.5,226.9 L128.5,230.4 L129.0,230.4 L129.0,232.3 L134.5,232.3 L134.5,226.3 L135.0,226.3 L135.0,224.2 L135.5,224.2 L135.5,224.1 L136.0,224.1 L136.0,226.6 L136.5,226.6 L136.5,224.0 L137.0,224.0 L137.0,223.7 L138.5,223.7 L138.5,225.8 L139.0,225.8 L139.0,224.0 L139.5,224.0 L139.5,223.8 L141.0,223.8 L141.0,224.6 L141.5,224.6 L141.5,224.7 L142.0,224.7 L142.0,224.5 L142.5,224.5 L142.5,224.3 L143.0,224.3 L143.0,232.3 L153.5,232.3 L153.5,226.3 L154.0,226.3 L154.0,224.3 L155.0,224.3 L155.0,230.3 L155.5,230.3 L155.5,232.3 L156.0,232.3 L156.0,224.7 L158.0,224.7 L158.0,232.3 L159.0,232.3 L159.0,224.4 L159.5,224.4 L159.5,221.8 L160.5,221.8 L160.5,232.3 L161.5,232.3 L161.5,225.3 L162.5,225.3 L162.5,232.3 L163.0,232.3 L163.0,223.7 L163.5,223.7 L163.5,223.8 L164.5,223.8 L164.5,223.9 L165.0,223.9 L165.0,232.3 L166.0,232.3 L166.0,223.8 L167.0,223.8 L167.0,223.9 L168.5,223.9 L168.5,224.0 L169.5,224.0 L169.5,230.2 L170.0,230.2 L170.0,232.2 L170.5,232.2 L170.5,232.3 L172.0,232.3 L172.0,224.7 L173.5,224.7 L173.5,232.3 L174.5,232.3 L174.5,227.3 L175.0,227.3 L175.0,228.1 L175.5,228.1 L175.5,228.8 L176.0,228.8 L176.0,229.6 L176.5,229.6 L176.5,232.3 L178.0,232.3 L178.0,232.1 L178.5,232.1 L178.5,232.2 L180.0,232.2 L180.0,232.3 L192.0,232.3 L192.0,230.5 L193.0,230.5 L193.0,232.0 L193.5,232.0 L193.5,232.3 L200.0,232.3 L200.0,231.7 L201.0,231.7 L201.0,232.3 L207.0,232.3 L207.0,231.6 L207.5,231.6 L207.5,230.9 L208.5,230.9 L208.5,232.3 L210.5,232.3 L210.5,232.2 L211.0,232.2 L211.0,232.1 L211.5,232.1 L211.5,232.2 L212.0,232.2 L212.0,232.3 L243.0,232.3 L243.0,232.3 Z" fill="#1a05e0" stroke="none"/>
<line x1="81.00" y1="246.10" x2="243.00" y2="246.10" stroke="#7575ee" stroke-width="1.0" />
<path d="M81.0,246.2 L81.0,246.2 L93.5,246.2 L93.5,246.1 L94.5,246.1 L94.5,246.0 L95.0,246.0 L95.0,246.1 L95.5,246.1 L95.5,246.0 L96.0,246.0 L96.0,246.2 L97.5,246.2 L97.5,246.1 L98.0,246.1 L98.0,246.0 L98.5,246.0 L98.5,246.2 L122.5,246.2 L122.5,245.8 L123.0,245.8 L123.0,245.3 L123.5,245.3 L123.5,244.8 L124.0,244.8 L124.0,244.3 L124.5,244.3 L124.5,243.8 L125.0,243.8 L125.0,243.2 L125.5,243.2 L125.5,242.7 L126.0,242.7 L126.0,242.2 L126.5,242.2 L126.5,242.0 L127.0,242.0 L127.0,242.2 L127.5,242.2 L127.5,242.5 L128.0,242.5 L128.0,243.0 L128.5,243.0 L128.5,245.1 L129.0,245.1 L129.0,246.2 L134.5,246.2 L134.5,243.0 L135.0,243.0 L135.0,241.9 L135.5,241.9 L135.5,241.8 L136.0,241.8 L136.0,243.2 L136.5,243.2 L136.5,241.8 L137.0,241.8 L137.0,241.6 L138.5,241.6 L138.5,242.7 L139.0,242.7 L139.0,241.8 L139.5,241.8 L139.5,241.6 L141.0,241.6 L141.0,242.1 L142.0,242.1 L142.0,242.0 L142.5,242.0 L142.5,241.9 L143.0,241.9 L143.0,246.2 L153.5,246.2 L153.5,243.0 L154.0,243.0 L154.0,241.9 L155.0,241.9 L155.0,245.1 L155.5,245.1 L155.5,246.0 L156.0,246.0 L156.0,242.1 L158.0,242.1 L158.0,246.2 L159.0,246.2 L159.0,241.9 L159.5,241.9 L159.5,240.5 L160.5,240.5 L160.5,246.2 L161.5,246.2 L161.5,242.4 L162.5,242.4 L162.5,246.2 L163.0,246.2 L163.0,241.5 L163.5,241.5 L163.5,241.6 L165.0,241.6 L165.0,246.2 L166.0,246.2 L166.0,241.6 L168.0,241.6 L168.0,241.7 L169.5,241.7 L169.5,245.1 L170.0,245.1 L170.0,246.2 L172.0,246.2 L172.0,242.1 L173.5,242.1 L173.5,246.1 L174.0,246.1 L174.0,246.2 L174.5,246.2 L174.5,243.5 L175.0,243.5 L175.0,243.9 L175.5,243.9 L175.5,244.3 L176.0,244.3 L176.0,244.7 L176.5,244.7 L176.5,246.2 L192.0,246.2 L192.0,244.8 L193.0,244.8 L193.0,246.0 L193.5,246.0 L193.5,246.2 L200.0,246.2 L200.0,245.7 L201.0,245.7 L201.0,246.2 L207.0,246.2 L207.0,245.6 L207.5,245.6 L207.5,245.1 L208.5,245.1 L208.5,246.2 L233.5,246.2 L233.5,246.0 L234.5,246.0 L234.5,246.2 L239.0,246.2 L239.0,246.1 L241.5,246.1 L241.5,246.2 L243.0,246.2 L243.0,246.2 Z" fill="#1a05e0" stroke="none"/>
<line x1="218.50" y1="159.20" x2="240.20" y2="159.20" stroke="#666" stroke-width="1.0" />
<text x="228.90" y="155.60" font-size="7.4" text-anchor="middle" font-weight="normal" font-style="normal" fill="#111" stroke="#111" stroke-width="0.22" >2 kb</text>
<line x1="209.70" y1="254.50" x2="193.10" y2="254.50" stroke="#111" stroke-width="1.5" />
<path d="M188.30,254.50 L196.30,251.50 L194.06,254.50 L196.30,257.50 Z" fill="#111"/>
<line x1="118.10" y1="263.70" x2="210.00" y2="263.70" stroke="#6a6aee" stroke-width="0.8" />
<rect x="118.10" y="261.80" width="8.20" height="3.80" fill="#1e1ee8" />
<rect x="126.30" y="260.70" width="1.70" height="6.00" fill="#1e1ee8" />
<rect x="135.30" y="260.70" width="1.90" height="6.00" fill="#1e1ee8" />
<rect x="138.30" y="260.70" width="1.00" height="6.00" fill="#1e1ee8" />
<rect x="140.30" y="260.70" width="1.50" height="6.00" fill="#1e1ee8" />
<rect x="153.40" y="260.70" width="1.10" height="6.00" fill="#1e1ee8" />
<rect x="156.00" y="260.70" width="1.00" height="6.00" fill="#1e1ee8" />
<rect x="158.60" y="260.70" width="1.40" height="6.00" fill="#1e1ee8" />
<rect x="163.00" y="260.70" width="1.50" height="6.00" fill="#1e1ee8" />
<rect x="166.30" y="260.70" width="1.70" height="6.00" fill="#1e1ee8" />
<rect x="168.50" y="260.70" width="1.00" height="6.00" fill="#1e1ee8" />
<rect x="172.30" y="260.70" width="1.70" height="6.00" fill="#1e1ee8" />
<rect x="175.30" y="262.20" width="0.70" height="3.00" fill="#1e1ee8" />
<rect x="207.60" y="261.20" width="2.40" height="5.00" fill="#1e1ee8" />
<polyline points="151.10,262.40 149.80,263.70 151.10,265.00" fill="none" stroke="#6a6aee" stroke-width="0.6"/>
<polyline points="185.00,262.40 183.70,263.70 185.00,265.00" fill="none" stroke="#6a6aee" stroke-width="0.6"/>
<polyline points="198.10,262.40 196.80,263.70 198.10,265.00" fill="none" stroke="#6a6aee" stroke-width="0.6"/>
<line x1="225.00" y1="263.70" x2="242.80" y2="263.70" stroke="#6a6aee" stroke-width="0.8" />
<rect x="225.00" y="261.45" width="2.00" height="4.50" fill="#1e1ee8" />
<rect x="229.00" y="261.45" width="2.80" height="4.50" fill="#1e1ee8" />
<polyline points="236.20,262.40 237.50,263.70 236.20,265.00" fill="none" stroke="#6a6aee" stroke-width="0.6"/>
<text x="171.80" y="277.50" font-size="7" text-anchor="middle" font-weight="normal" font-style="italic" fill="#111" stroke="#111" stroke-width="0.22" >ODC1</text>
<text x="229.00" y="274.20" font-size="6.0" text-anchor="middle" font-weight="normal" font-style="italic" fill="#111" stroke="#111" stroke-width="0.22" >ODC1-DT</text>
<rect x="337.30" y="165.00" width="131.00" height="82.30" fill="#f8f8f8" />
<text x="296.80" y="163.40" font-size="7" text-anchor="start" font-weight="normal" font-style="italic" fill="#111" stroke="#111" stroke-width="0.22" >siMYCN</text>
<text x="272.30" y="182.00" font-size="7" text-anchor="start" font-weight="normal" font-style="normal" fill="#111" stroke="#111" stroke-width="0.22" >MYCN</text>
<line x1="303.70" y1="170.30" x2="303.70" y2="189.50" stroke="#555" stroke-width="0.9" />
<line x1="310.00" y1="172.50" x2="312.60" y2="172.50" stroke="#222" stroke-width="0.95" />
<text x="307.80" y="188.40" font-size="8" text-anchor="start" font-weight="normal" font-style="normal" fill="#111" stroke="#111" stroke-width="0.22" >+</text>
<text x="318.20" y="174.70" font-size="6.8" text-anchor="start" font-weight="normal" font-style="normal" fill="#111" stroke="#111" stroke-width="0.22" >84</text>
<text x="318.20" y="188.10" font-size="6.8" text-anchor="start" font-weight="normal" font-style="normal" fill="#111" stroke="#111" stroke-width="0.22" >84</text>
<text x="272.30" y="208.30" font-size="7" text-anchor="start" font-weight="normal" font-style="normal" fill="#111" stroke="#111" stroke-width="0.22" >KAT2A</text>
<line x1="303.70" y1="196.20" x2="303.70" y2="216.00" stroke="#555" stroke-width="0.9" />
<line x1="310.00" y1="199.50" x2="312.60" y2="199.50" stroke="#222" stroke-width="0.95" />
<text x="307.80" y="214.60" font-size="8" text-anchor="start" font-weight="normal" font-style="normal" fill="#111" stroke="#111" stroke-width="0.22" >+</text>
<text x="318.20" y="202.00" font-size="6.8" text-anchor="start" font-weight="normal" font-style="normal" fill="#111" stroke="#111" stroke-width="0.22" >17</text>
<text x="318.20" y="214.30" font-size="6.8" text-anchor="start" font-weight="normal" font-style="normal" fill="#111" stroke="#111" stroke-width="0.22" >17</text>
<text x="272.30" y="236.80" font-size="7" text-anchor="start" font-weight="normal" font-style="normal" fill="#111" stroke="#111" stroke-width="0.22" >RNAseq</text>
<line x1="303.70" y1="225.00" x2="303.70" y2="244.60" stroke="#555" stroke-width="0.9" />
<line x1="310.00" y1="227.50" x2="312.60" y2="227.50" stroke="#222" stroke-width="0.95" />
<text x="307.80" y="243.40" font-size="8" text-anchor="start" font-weight="normal" font-style="normal" fill="#111" stroke="#111" stroke-width="0.22" >+</text>
<text x="318.20" y="230.60" font-size="6.8" text-anchor="start" font-weight="normal" font-style="normal" fill="#111" stroke="#111" stroke-width="0.22" >910</text>
<text x="318.20" y="243.10" font-size="6.8" text-anchor="start" font-weight="normal" font-style="normal" fill="#111" stroke="#111" stroke-width="0.22" >910</text>
<line x1="337.30" y1="177.30" x2="468.30" y2="177.30" stroke="#e06464" stroke-width="1.0" />
<path d="M337.3,177.4 L337.3,177.4 L338.3,177.4 L338.3,177.3 L343.3,177.3 L343.3,177.4 L344.3,177.4 L344.3,177.3 L346.3,177.3 L346.3,176.7 L347.3,176.7 L347.3,176.8 L348.3,176.8 L348.3,177.3 L349.3,177.3 L349.3,177.4 L350.3,177.4 L350.3,176.9 L351.3,176.9 L351.3,176.8 L352.3,176.8 L352.3,176.7 L354.3,176.7 L354.3,176.6 L355.3,176.6 L355.3,177.3 L356.3,177.3 L356.3,177.4 L357.3,177.4 L357.3,177.2 L358.3,177.2 L358.3,177.0 L361.3,177.0 L361.3,175.8 L362.3,175.8 L362.3,167.8 L363.3,167.8 L363.3,166.5 L364.3,166.5 L364.3,168.3 L365.3,168.3 L365.3,175.0 L366.3,175.0 L366.3,176.9 L368.3,176.9 L368.3,176.7 L370.3,176.7 L370.3,177.3 L375.3,177.3 L375.3,177.0 L376.3,177.0 L376.3,176.9 L377.3,176.9 L377.3,177.2 L379.3,177.2 L379.3,177.1 L380.3,177.1 L380.3,177.2 L381.3,177.2 L381.3,177.1 L383.3,177.1 L383.3,176.8 L384.3,176.8 L384.3,177.1 L385.3,177.1 L385.3,177.2 L386.3,177.2 L386.3,177.0 L389.3,177.0 L389.3,177.1 L390.3,177.1 L390.3,177.3 L392.3,177.3 L392.3,177.4 L393.3,177.4 L393.3,177.3 L394.3,177.3 L394.3,177.0 L395.3,177.0 L395.3,176.7 L396.3,176.7 L396.3,176.6 L397.3,176.6 L397.3,177.3 L400.3,177.3 L400.3,177.4 L401.3,177.4 L401.3,176.9 L403.3,176.9 L403.3,177.0 L404.3,177.0 L404.3,176.8 L405.3,176.8 L405.3,176.6 L406.3,176.6 L406.3,176.9 L407.3,176.9 L407.3,176.4 L408.3,176.4 L408.3,176.9 L409.3,176.9 L409.3,176.5 L410.3,176.5 L410.3,177.3 L415.3,177.3 L415.3,177.4 L416.3,177.4 L416.3,177.3 L419.3,177.3 L419.3,176.5 L420.3,176.5 L420.3,176.7 L423.3,176.7 L423.3,176.8 L424.3,176.8 L424.3,176.5 L425.3,176.5 L425.3,176.6 L427.3,176.6 L427.3,176.8 L429.3,176.8 L429.3,176.3 L430.3,176.3 L430.3,177.0 L431.3,177.0 L431.3,176.7 L432.3,176.7 L432.3,176.6 L433.3,176.6 L433.3,177.3 L436.3,177.3 L436.3,177.4 L438.3,177.4 L438.3,177.3 L440.3,177.3 L440.3,177.1 L441.3,177.1 L441.3,176.8 L442.3,176.8 L442.3,176.9 L443.3,176.9 L443.3,177.1 L445.3,177.1 L445.3,177.3 L451.3,177.3 L451.3,176.7 L452.3,176.7 L452.3,176.6 L453.3,176.6 L453.3,176.4 L454.3,176.4 L454.3,176.3 L456.3,176.3 L456.3,176.8 L458.3,176.8 L458.3,177.1 L460.3,177.1 L460.3,177.3 L463.3,177.3 L463.3,176.9 L464.3,176.9 L464.3,176.8 L465.3,176.8 L465.3,176.6 L466.3,176.6 L466.3,177.4 L468.3,177.4 L468.3,177.3 L468.3,177.3 L468.3,177.4 Z" fill="#d8190c" stroke="none"/>
<line x1="337.30" y1="191.30" x2="468.30" y2="191.30" stroke="#e06464" stroke-width="1.0" />
<path d="M337.3,191.4 L337.3,191.3 L340.3,191.3 L340.3,191.0 L341.3,191.0 L341.3,191.1 L342.3,191.1 L342.3,191.3 L346.3,191.3 L346.3,191.4 L347.3,191.4 L347.3,191.3 L349.3,191.3 L349.3,191.4 L352.3,191.4 L352.3,191.3 L353.3,191.3 L353.3,191.0 L355.3,191.0 L355.3,190.9 L356.3,190.9 L356.3,190.8 L357.3,190.8 L357.3,191.2 L358.3,191.2 L358.3,191.0 L361.3,191.0 L361.3,190.3 L362.3,190.3 L362.3,186.4 L363.3,186.4 L363.3,185.2 L364.3,185.2 L364.3,187.7 L365.3,187.7 L365.3,190.1 L366.3,190.1 L366.3,191.2 L368.3,191.2 L368.3,191.1 L369.3,191.1 L369.3,191.0 L371.3,191.0 L371.3,191.3 L372.3,191.3 L372.3,190.7 L373.3,190.7 L373.3,190.9 L374.3,190.9 L374.3,190.6 L375.3,190.6 L375.3,191.1 L376.3,191.1 L376.3,191.0 L377.3,191.0 L377.3,191.2 L379.3,191.2 L379.3,190.9 L380.3,190.9 L380.3,190.4 L381.3,190.4 L381.3,190.6 L382.3,190.6 L382.3,190.4 L383.3,190.4 L383.3,190.5 L384.3,190.5 L384.3,191.3 L385.3,191.3 L385.3,191.4 L388.3,191.4 L388.3,191.3 L389.3,191.3 L389.3,191.4 L391.3,191.4 L391.3,191.3 L394.3,191.3 L394.3,191.4 L395.3,191.4 L395.3,190.7 L396.3,190.7 L396.3,190.8 L397.3,190.8 L397.3,191.1 L398.3,191.1 L398.3,190.9 L399.3,190.9 L399.3,191.2 L400.3,191.2 L400.3,191.0 L401.3,191.0 L401.3,190.6 L402.3,190.6 L402.3,190.8 L403.3,190.8 L403.3,190.9 L404.3,190.9 L404.3,190.5 L405.3,190.5 L405.3,190.6 L406.3,190.6 L406.3,190.9 L407.3,190.9 L407.3,191.4 L408.3,191.4 L408.3,191.3 L411.3,191.3 L411.3,191.4 L412.3,191.4 L412.3,191.3 L413.3,191.3 L413.3,191.4 L415.3,191.4 L415.3,190.8 L416.3,190.8 L416.3,191.1 L417.3,191.1 L417.3,191.3 L418.3,191.3 L418.3,191.4 L419.3,191.4 L419.3,191.3 L420.3,191.3 L420.3,191.4 L421.3,191.4 L421.3,191.3 L424.3,191.3 L424.3,190.9 L425.3,190.9 L425.3,191.2 L426.3,191.2 L426.3,191.0 L429.3,191.0 L429.3,191.2 L430.3,191.2 L430.3,191.0 L431.3,191.0 L431.3,190.9 L432.3,190.9 L432.3,191.1 L434.3,191.1 L434.3,191.3 L435.3,191.3 L435.3,191.4 L436.3,191.4 L436.3,191.3 L446.3,191.3 L446.3,191.4 L447.3,191.4 L447.3,191.0 L448.3,191.0 L448.3,191.1 L449.3,191.1 L449.3,190.7 L451.3,190.7 L451.3,191.1 L452.3,191.1 L452.3,190.9 L453.3,190.9 L453.3,191.1 L454.3,191.1 L454.3,191.0 L455.3,191.0 L455.3,191.3 L457.3,191.3 L457.3,191.1 L460.3,191.1 L460.3,191.3 L462.3,191.3 L462.3,191.2 L463.3,191.2 L463.3,191.1 L464.3,191.1 L464.3,191.0 L465.3,191.0 L465.3,191.2 L467.3,191.2 L467.3,191.3 L468.3,191.3 L468.3,191.4 Z" fill="#d8190c" stroke="none"/>
<line x1="337.30" y1="204.50" x2="468.30" y2="204.50" stroke="#6464f0" stroke-width="1.0" />
<path d="M337.3,204.6 L337.3,201.8 L338.3,201.8 L338.3,203.1 L339.3,203.1 L339.3,203.5 L340.3,203.5 L340.3,202.2 L341.3,202.2 L341.3,202.5 L342.3,202.5 L342.3,202.4 L343.3,202.4 L343.3,202.5 L344.3,202.5 L344.3,204.3 L345.3,204.3 L345.3,204.2 L346.3,204.2 L346.3,204.3 L347.3,204.3 L347.3,204.4 L348.3,204.4 L348.3,202.9 L349.3,202.9 L349.3,202.4 L350.3,202.4 L350.3,202.6 L351.3,202.6 L351.3,203.4 L352.3,203.4 L352.3,202.4 L353.3,202.4 L353.3,203.1 L354.3,203.1 L354.3,202.3 L355.3,202.3 L355.3,202.0 L356.3,202.0 L356.3,204.2 L357.3,204.2 L357.3,202.4 L358.3,202.4 L358.3,201.1 L359.3,201.1 L359.3,201.2 L360.3,201.2 L360.3,199.0 L361.3,199.0 L361.3,197.2 L362.3,197.2 L362.3,198.0 L363.3,198.0 L363.3,195.4 L364.3,195.4 L364.3,198.0 L365.3,198.0 L365.3,198.9 L366.3,198.9 L366.3,201.3 L367.3,201.3 L367.3,202.3 L368.3,202.3 L368.3,203.7 L369.3,203.7 L369.3,203.3 L370.3,203.3 L370.3,202.5 L371.3,202.5 L371.3,202.9 L372.3,202.9 L372.3,201.7 L373.3,201.7 L373.3,202.9 L374.3,202.9 L374.3,203.2 L375.3,203.2 L375.3,203.4 L376.3,203.4 L376.3,202.9 L377.3,202.9 L377.3,203.2 L378.3,203.2 L378.3,203.5 L379.3,203.5 L379.3,202.8 L380.3,202.8 L380.3,203.3 L381.3,203.3 L381.3,203.6 L382.3,203.6 L382.3,203.4 L383.3,203.4 L383.3,202.7 L384.3,202.7 L384.3,203.1 L385.3,203.1 L385.3,203.2 L386.3,203.2 L386.3,203.3 L387.3,203.3 L387.3,203.5 L388.3,203.5 L388.3,203.7 L389.3,203.7 L389.3,203.3 L390.3,203.3 L390.3,202.3 L391.3,202.3 L391.3,202.6 L392.3,202.6 L392.3,203.8 L393.3,203.8 L393.3,203.1 L395.3,203.1 L395.3,203.6 L396.3,203.6 L396.3,201.0 L397.3,201.0 L397.3,202.7 L398.3,202.7 L398.3,202.6 L399.3,202.6 L399.3,203.3 L400.3,203.3 L400.3,201.1 L401.3,201.1 L401.3,202.6 L402.3,202.6 L402.3,203.4 L403.3,203.4 L403.3,203.0 L405.3,203.0 L405.3,203.6 L406.3,203.6 L406.3,200.9 L407.3,200.9 L407.3,201.5 L408.3,201.5 L408.3,202.8 L409.3,202.8 L409.3,202.0 L410.3,202.0 L410.3,202.6 L411.3,202.6 L411.3,204.2 L412.3,204.2 L412.3,204.4 L413.3,204.4 L413.3,204.6 L414.3,204.6 L414.3,202.9 L415.3,202.9 L415.3,202.8 L416.3,202.8 L416.3,202.9 L417.3,202.9 L417.3,201.6 L418.3,201.6 L418.3,202.9 L419.3,202.9 L419.3,201.0 L420.3,201.0 L420.3,200.7 L421.3,200.7 L421.3,200.4 L422.3,200.4 L422.3,201.4 L423.3,201.4 L423.3,200.9 L424.3,200.9 L424.3,202.5 L425.3,202.5 L425.3,201.8 L426.3,201.8 L426.3,201.1 L427.3,201.1 L427.3,200.0 L428.3,200.0 L428.3,203.8 L429.3,203.8 L429.3,202.8 L430.3,202.8 L430.3,203.7 L431.3,203.7 L431.3,202.9 L432.3,202.9 L432.3,203.1 L433.3,203.1 L433.3,202.5 L434.3,202.5 L434.3,202.3 L435.3,202.3 L435.3,202.8 L436.3,202.8 L436.3,201.0 L437.3,201.0 L437.3,203.0 L438.3,203.0 L438.3,202.6 L439.3,202.6 L439.3,201.1 L440.3,201.1 L440.3,202.0 L441.3,202.0 L441.3,201.8 L442.3,201.8 L442.3,202.0 L443.3,202.0 L443.3,202.6 L444.3,202.6 L444.3,203.0 L445.3,203.0 L445.3,202.2 L446.3,202.2 L446.3,200.5 L447.3,200.5 L447.3,202.2 L448.3,202.2 L448.3,201.5 L450.3,201.5 L450.3,203.2 L451.3,203.2 L451.3,203.1 L452.3,203.1 L452.3,201.7 L453.3,201.7 L453.3,204.5 L454.3,204.5 L454.3,204.3 L455.3,204.3 L455.3,204.1 L456.3,204.1 L456.3,200.8 L457.3,200.8 L457.3,202.4 L458.3,202.4 L458.3,200.9 L459.3,200.9 L459.3,204.5 L460.3,204.5 L460.3,204.4 L461.3,204.4 L461.3,204.2 L462.3,204.2 L462.3,202.7 L463.3,202.7 L463.3,203.0 L464.3,203.0 L464.3,203.1 L465.3,203.1 L465.3,203.6 L466.3,203.6 L466.3,203.2 L467.3,203.2 L467.3,202.5 L468.3,202.5 L468.3,202.9 L468.3,202.9 L468.3,204.6 Z" fill="#1a05e0" stroke="none"/>
<line x1="337.30" y1="218.20" x2="468.30" y2="218.20" stroke="#6464f0" stroke-width="1.0" />
<path d="M337.3,218.3 L337.3,217.7 L338.3,217.7 L338.3,217.4 L339.3,217.4 L339.3,216.2 L340.3,216.2 L340.3,216.6 L341.3,216.6 L341.3,217.2 L342.3,217.2 L342.3,216.7 L343.3,216.7 L343.3,217.1 L345.3,217.1 L345.3,217.7 L346.3,217.7 L346.3,217.6 L347.3,217.6 L347.3,217.2 L348.3,217.2 L348.3,216.8 L349.3,216.8 L349.3,216.6 L350.3,216.6 L350.3,215.6 L351.3,215.6 L351.3,215.2 L352.3,215.2 L352.3,217.0 L353.3,217.0 L353.3,216.1 L354.3,216.1 L354.3,217.1 L355.3,217.1 L355.3,216.5 L356.3,216.5 L356.3,216.2 L357.3,216.2 L357.3,214.8 L358.3,214.8 L358.3,215.4 L359.3,215.4 L359.3,216.2 L360.3,216.2 L360.3,215.1 L361.3,215.1 L361.3,215.3 L362.3,215.3 L362.3,213.4 L363.3,213.4 L363.3,211.9 L364.3,211.9 L364.3,212.5 L365.3,212.5 L365.3,214.8 L366.3,214.8 L366.3,216.0 L367.3,216.0 L367.3,214.6 L368.3,214.6 L368.3,218.3 L369.3,218.3 L369.3,215.6 L370.3,215.6 L370.3,217.0 L372.3,217.0 L372.3,216.5 L373.3,216.5 L373.3,215.9 L374.3,215.9 L374.3,216.2 L375.3,216.2 L375.3,216.3 L376.3,216.3 L376.3,216.7 L377.3,216.7 L377.3,216.5 L378.3,216.5 L378.3,216.9 L379.3,216.9 L379.3,215.7 L380.3,215.7 L380.3,215.2 L381.3,215.2 L381.3,214.9 L382.3,214.9 L382.3,218.0 L383.3,218.0 L383.3,216.4 L384.3,216.4 L384.3,216.1 L385.3,216.1 L385.3,215.3 L386.3,215.3 L386.3,216.3 L387.3,216.3 L387.3,215.3 L388.3,215.3 L388.3,216.2 L389.3,216.2 L389.3,217.2 L390.3,217.2 L390.3,216.0 L391.3,216.0 L391.3,217.1 L392.3,217.1 L392.3,216.7 L393.3,216.7 L393.3,217.7 L394.3,217.7 L394.3,217.5 L395.3,217.5 L395.3,217.0 L396.3,217.0 L396.3,217.1 L397.3,217.1 L397.3,217.7 L398.3,217.7 L398.3,217.6 L399.3,217.6 L399.3,217.7 L400.3,217.7 L400.3,216.8 L402.3,216.8 L402.3,217.1 L403.3,217.1 L403.3,216.4 L404.3,216.4 L404.3,216.7 L405.3,216.7 L405.3,216.6 L406.3,216.6 L406.3,217.4 L407.3,217.4 L407.3,217.3 L408.3,217.3 L408.3,217.4 L409.3,217.4 L409.3,216.7 L410.3,216.7 L410.3,217.3 L411.3,217.3 L411.3,216.8 L412.3,216.8 L412.3,217.0 L413.3,217.0 L413.3,217.9 L414.3,217.9 L414.3,216.5 L415.3,216.5 L415.3,217.0 L416.3,217.0 L416.3,217.1 L417.3,217.1 L417.3,217.0 L418.3,217.0 L418.3,217.2 L419.3,217.2 L419.3,217.0 L420.3,217.0 L420.3,215.8 L421.3,215.8 L421.3,216.0 L422.3,216.0 L422.3,216.9 L423.3,216.9 L423.3,216.7 L424.3,216.7 L424.3,216.8 L425.3,216.8 L425.3,218.2 L426.3,218.2 L426.3,217.9 L427.3,217.9 L427.3,216.7 L428.3,216.7 L428.3,216.8 L429.3,216.8 L429.3,217.9 L431.3,217.9 L431.3,218.1 L432.3,218.1 L432.3,218.3 L433.3,218.3 L433.3,218.1 L434.3,218.1 L434.3,216.9 L435.3,216.9 L435.3,216.7 L436.3,216.7 L436.3,217.2 L437.3,217.2 L437.3,217.4 L438.3,217.4 L438.3,216.8 L439.3,216.8 L439.3,218.0 L440.3,218.0 L440.3,218.1 L441.3,218.1 L441.3,215.4 L442.3,215.4 L442.3,215.7 L443.3,215.7 L443.3,216.0 L444.3,216.0 L444.3,216.5 L445.3,216.5 L445.3,217.9 L447.3,217.9 L447.3,218.1 L448.3,218.1 L448.3,217.3 L450.3,217.3 L450.3,216.9 L451.3,216.9 L451.3,217.6 L453.3,217.6 L453.3,216.7 L454.3,216.7 L454.3,217.4 L455.3,217.4 L455.3,218.1 L456.3,218.1 L456.3,217.3 L457.3,217.3 L457.3,217.6 L458.3,217.6 L458.3,217.2 L459.3,217.2 L459.3,216.9 L460.3,216.9 L460.3,217.2 L462.3,217.2 L462.3,216.6 L463.3,216.6 L463.3,216.3 L464.3,216.3 L464.3,216.0 L465.3,216.0 L465.3,217.1 L466.3,217.1 L466.3,216.3 L467.3,216.3 L467.3,215.9 L468.3,215.9 L468.3,218.3 L468.3,218.3 L468.3,218.3 Z" fill="#1a05e0" stroke="none"/>
<line x1="337.30" y1="232.20" x2="468.30" y2="232.20" stroke="#7575ee" stroke-width="1.0" />
<line x1="337.30" y1="246.10" x2="468.30" y2="246.10" stroke="#7575ee" stroke-width="1.0" />
<rect x="363.30" y="227.30" width="1.20" height="5.00" fill="#1a05e0" />
<rect x="385.80" y="226.80" width="1.00" height="5.50" fill="#1a05e0" />
<rect x="403.20" y="224.80" width="1.00" height="7.50" fill="#1a05e0" />
<rect x="407.80" y="224.30" width="1.00" height="8.00" fill="#1a05e0" />
<rect x="415.80" y="223.80" width="1.20" height="8.50" fill="#1a05e0" />
<rect x="421.80" y="224.30" width="1.20" height="8.00" fill="#1a05e0" />
<rect x="423.80" y="224.30" width="1.20" height="8.00" fill="#1a05e0" />
<rect x="428.30" y="224.00" width="1.20" height="8.30" fill="#1a05e0" />
<rect x="434.80" y="224.30" width="1.20" height="8.00" fill="#1a05e0" />
<rect x="439.80" y="223.80" width="1.20" height="8.50" fill="#1a05e0" />
<rect x="441.50" y="227.30" width="0.80" height="5.00" fill="#1a05e0" />
<rect x="446.10" y="224.30" width="1.10" height="8.00" fill="#1a05e0" />
<rect x="452.00" y="221.10" width="2.00" height="11.20" fill="#1a05e0" />
<rect x="363.30" y="242.60" width="1.20" height="3.60" fill="#1a05e0" />
<rect x="385.80" y="242.24" width="1.00" height="3.96" fill="#1a05e0" />
<rect x="403.20" y="240.80" width="1.00" height="5.40" fill="#1a05e0" />
<rect x="407.80" y="240.44" width="1.00" height="5.76" fill="#1a05e0" />
<rect x="415.80" y="240.08" width="1.20" height="6.12" fill="#1a05e0" />
<rect x="421.80" y="240.44" width="1.20" height="5.76" fill="#1a05e0" />
<rect x="423.80" y="240.44" width="1.20" height="5.76" fill="#1a05e0" />
<rect x="428.30" y="240.22" width="1.20" height="5.98" fill="#1a05e0" />
<rect x="434.80" y="240.44" width="1.20" height="5.76" fill="#1a05e0" />
<rect x="439.80" y="240.08" width="1.20" height="6.12" fill="#1a05e0" />
<rect x="441.50" y="242.60" width="0.80" height="3.60" fill="#1a05e0" />
<rect x="446.10" y="240.44" width="1.10" height="5.76" fill="#1a05e0" />
<rect x="452.00" y="238.14" width="2.00" height="8.06" fill="#1a05e0" />
<line x1="455.20" y1="159.00" x2="467.20" y2="159.00" stroke="#666" stroke-width="1.0" />
<text x="460.60" y="155.60" font-size="7.4" text-anchor="middle" font-weight="normal" font-style="normal" fill="#111" stroke="#111" stroke-width="0.22" >5 kb</text>
<line x1="364.80" y1="254.80" x2="380.40" y2="254.80" stroke="#111" stroke-width="1.5" />
<path d="M385.20,254.80 L377.20,251.80 L379.44,254.80 L377.20,257.80 Z" fill="#111"/>
<line x1="363.70" y1="263.40" x2="454.70" y2="263.40" stroke="#6a6aee" stroke-width="0.8" />
<rect x="363.30" y="260.40" width="1.20" height="6.00" fill="#1e1ee8" />
<rect x="386.00" y="260.90" width="1.00" height="5.00" fill="#1e1ee8" />
<rect x="393.40" y="260.90" width="0.80" height="5.00" fill="#1e1ee8" />
<rect x="403.40" y="260.90" width="1.00" height="5.00" fill="#1e1ee8" />
<rect x="408.00" y="260.90" width="1.00" height="5.00" fill="#1e1ee8" />
<rect x="416.00" y="260.90" width="1.00" height="5.00" fill="#1e1ee8" />
<rect x="422.00" y="260.90" width="1.00" height="5.00" fill="#1e1ee8" />
<rect x="424.00" y="260.90" width="1.00" height="5.00" fill="#1e1ee8" />
<rect x="428.60" y="260.90" width="1.00" height="5.00" fill="#1e1ee8" />
<rect x="435.00" y="260.90" width="1.00" height="5.00" fill="#1e1ee8" />
<rect x="440.00" y="260.90" width="1.20" height="5.00" fill="#1e1ee8" />
<rect x="446.40" y="260.90" width="1.00" height="5.00" fill="#1e1ee8" />
<rect x="452.60" y="260.15" width="1.40" height="6.50" fill="#1e1ee8" />
<polyline points="368.70,262.10 370.00,263.40 368.70,264.70" fill="none" stroke="#6a6aee" stroke-width="0.6"/>
<polyline points="380.70,262.10 382.00,263.40 380.70,264.70" fill="none" stroke="#6a6aee" stroke-width="0.6"/>
<polyline points="397.20,262.10 398.50,263.40 397.20,264.70" fill="none" stroke="#6a6aee" stroke-width="0.6"/>
<polyline points="410.70,262.10 412.00,263.40 410.70,264.70" fill="none" stroke="#6a6aee" stroke-width="0.6"/>
<text x="410.20" y="277.30" font-size="7" text-anchor="middle" font-weight="normal" font-style="italic" fill="#111" stroke="#111" stroke-width="0.22" >NOP58</text>
<rect x="557.20" y="164.80" width="117.20" height="82.50" fill="#f8f8f8" />
<text x="519.90" y="162.60" font-size="7" text-anchor="start" font-weight="normal" font-style="italic" fill="#111" stroke="#111" stroke-width="0.22" >siMYCN</text>
<text x="495.60" y="182.00" font-size="7" text-anchor="start" font-weight="normal" font-style="normal" fill="#111" stroke="#111" stroke-width="0.22" >MYCN</text>
<line x1="526.50" y1="170.30" x2="526.50" y2="189.50" stroke="#555" stroke-width="0.9" />
<line x1="532.80" y1="172.50" x2="535.40" y2="172.50" stroke="#222" stroke-width="0.95" />
<text x="530.60" y="188.40" font-size="8" text-anchor="start" font-weight="normal" font-style="normal" fill="#111" stroke="#111" stroke-width="0.22" >+</text>
<text x="541.00" y="174.70" font-size="6.8" text-anchor="start" font-weight="normal" font-style="normal" fill="#111" stroke="#111" stroke-width="0.22" >63</text>
<text x="541.00" y="188.10" font-size="6.8" text-anchor="start" font-weight="normal" font-style="normal" fill="#111" stroke="#111" stroke-width="0.22" >63</text>
<text x="495.60" y="208.30" font-size="7" text-anchor="start" font-weight="normal" font-style="normal" fill="#111" stroke="#111" stroke-width="0.22" >KAT2A</text>
<line x1="526.50" y1="196.20" x2="526.50" y2="216.00" stroke="#555" stroke-width="0.9" />
<line x1="532.80" y1="199.50" x2="535.40" y2="199.50" stroke="#222" stroke-width="0.95" />
<text x="530.60" y="214.60" font-size="8" text-anchor="start" font-weight="normal" font-style="normal" fill="#111" stroke="#111" stroke-width="0.22" >+</text>
<text x="541.00" y="202.00" font-size="6.8" text-anchor="start" font-weight="normal" font-style="normal" fill="#111" stroke="#111" stroke-width="0.22" >35</text>
<text x="541.00" y="214.30" font-size="6.8" text-anchor="start" font-weight="normal" font-style="normal" fill="#111" stroke="#111" stroke-width="0.22" >35</text>
<text x="495.60" y="236.80" font-size="7" text-anchor="start" font-weight="normal" font-style="normal" fill="#111" stroke="#111" stroke-width="0.22" >RNAseq</text>
<line x1="526.50" y1="225.00" x2="526.50" y2="244.60" stroke="#555" stroke-width="0.9" />
<line x1="532.80" y1="227.50" x2="535.40" y2="227.50" stroke="#222" stroke-width="0.95" />
<text x="530.60" y="243.40" font-size="8" text-anchor="start" font-weight="normal" font-style="normal" fill="#111" stroke="#111" stroke-width="0.22" >+</text>
<text x="541.00" y="230.60" font-size="6.8" text-anchor="start" font-weight="normal" font-style="normal" fill="#111" stroke="#111" stroke-width="0.22" >203</text>
<text x="541.00" y="243.10" font-size="6.8" text-anchor="start" font-weight="normal" font-style="normal" fill="#111" stroke="#111" stroke-width="0.22" >203</text>
<line x1="557.20" y1="177.30" x2="674.40" y2="177.30" stroke="#e06464" stroke-width="1.0" />
<path d="M557.2,177.4 L557.2,177.4 L562.2,177.4 L562.2,177.3 L563.2,177.3 L563.2,177.4 L568.2,177.4 L568.2,176.8 L569.2,176.8 L569.2,177.2 L570.2,177.2 L570.2,176.9 L571.2,176.9 L571.2,177.3 L572.2,177.3 L572.2,177.4 L574.2,177.4 L574.2,177.3 L575.2,177.3 L575.2,177.4 L576.2,177.4 L576.2,177.1 L579.2,177.1 L579.2,177.2 L580.2,177.2 L580.2,177.1 L582.2,177.1 L582.2,177.3 L583.2,177.3 L583.2,177.4 L585.2,177.4 L585.2,177.1 L586.2,177.1 L586.2,177.0 L587.2,177.0 L587.2,176.8 L588.2,176.8 L588.2,176.9 L589.2,176.9 L589.2,177.4 L590.2,177.4 L590.2,176.9 L591.2,176.9 L591.2,177.0 L592.2,177.0 L592.2,177.2 L594.2,177.2 L594.2,177.3 L595.2,177.3 L595.2,176.8 L596.2,176.8 L596.2,176.9 L599.2,176.9 L599.2,170.6 L600.2,170.6 L600.2,166.4 L602.2,166.4 L602.2,169.3 L603.2,169.3 L603.2,175.6 L604.2,175.6 L604.2,177.3 L605.2,177.3 L605.2,177.4 L609.2,177.4 L609.2,177.3 L610.2,177.3 L610.2,176.6 L611.2,176.6 L611.2,176.7 L612.2,176.7 L612.2,177.3 L613.2,177.3 L613.2,177.4 L615.2,177.4 L615.2,177.3 L616.2,177.3 L616.2,177.4 L617.2,177.4 L617.2,177.3 L618.2,177.3 L618.2,177.4 L619.2,177.4 L619.2,176.5 L620.2,176.5 L620.2,176.7 L621.2,176.7 L621.2,177.3 L624.2,177.3 L624.2,177.1 L626.2,177.1 L626.2,177.4 L627.2,177.4 L627.2,177.3 L629.2,177.3 L629.2,177.4 L640.2,177.4 L640.2,177.3 L642.2,177.3 L642.2,177.4 L646.2,177.4 L646.2,177.3 L649.2,177.3 L649.2,177.4 L651.2,177.4 L651.2,177.3 L653.2,177.3 L653.2,177.0 L654.2,177.0 L654.2,177.1 L655.2,177.1 L655.2,177.2 L656.2,177.2 L656.2,177.4 L657.2,177.4 L657.2,177.3 L659.2,177.3 L659.2,177.4 L661.2,177.4 L661.2,177.3 L663.2,177.3 L663.2,177.4 L665.2,177.4 L665.2,177.3 L666.2,177.3 L666.2,177.4 L667.2,177.4 L667.2,177.3 L669.2,177.3 L669.2,177.0 L670.2,177.0 L670.2,177.1 L671.2,177.1 L671.2,177.0 L672.2,177.0 L672.2,177.3 L673.2,177.3 L673.2,177.2 L674.2,177.2 L674.2,177.1 L674.4,177.1 L674.4,177.4 Z" fill="#d8190c" stroke="none"/>
<line x1="557.20" y1="191.30" x2="674.40" y2="191.30" stroke="#e06464" stroke-width="1.0" />
<path d="M557.2,191.4 L557.2,191.3 L558.2,191.3 L558.2,191.4 L559.2,191.4 L559.2,191.3 L562.2,191.3 L562.2,191.0 L563.2,191.0 L563.2,190.9 L564.2,190.9 L564.2,190.7 L565.2,190.7 L565.2,190.9 L566.2,190.9 L566.2,191.3 L567.2,191.3 L567.2,191.4 L568.2,191.4 L568.2,191.3 L570.2,191.3 L570.2,191.4 L572.2,191.4 L572.2,191.0 L574.2,191.0 L574.2,190.7 L575.2,190.7 L575.2,191.0 L576.2,191.0 L576.2,191.2 L578.2,191.2 L578.2,190.9 L580.2,190.9 L580.2,191.2 L582.2,191.2 L582.2,190.9 L583.2,190.9 L583.2,191.0 L585.2,191.0 L585.2,191.3 L588.2,191.3 L588.2,191.4 L590.2,191.4 L590.2,191.3 L591.2,191.3 L591.2,191.4 L592.2,191.4 L592.2,191.3 L593.2,191.3 L593.2,191.4 L597.2,191.4 L597.2,190.7 L598.2,190.7 L598.2,189.6 L599.2,189.6 L599.2,188.3 L600.2,188.3 L600.2,187.4 L601.2,187.4 L601.2,187.7 L602.2,187.7 L602.2,188.8 L603.2,188.8 L603.2,190.1 L604.2,190.1 L604.2,190.7 L605.2,190.7 L605.2,190.9 L606.2,190.9 L606.2,191.3 L608.2,191.3 L608.2,191.4 L609.2,191.4 L609.2,190.8 L612.2,190.8 L612.2,191.0 L613.2,191.0 L613.2,191.1 L616.2,191.1 L616.2,191.0 L617.2,191.0 L617.2,191.3 L618.2,191.3 L618.2,191.2 L619.2,191.2 L619.2,191.1 L620.2,191.1 L620.2,191.3 L621.2,191.3 L621.2,191.2 L622.2,191.2 L622.2,190.9 L623.2,190.9 L623.2,190.8 L624.2,190.8 L624.2,191.0 L625.2,191.0 L625.2,191.1 L627.2,191.1 L627.2,190.7 L628.2,190.7 L628.2,191.3 L629.2,191.3 L629.2,191.4 L630.2,191.4 L630.2,191.3 L631.2,191.3 L631.2,191.4 L632.2,191.4 L632.2,191.3 L633.2,191.3 L633.2,191.0 L634.2,191.0 L634.2,191.1 L635.2,191.1 L635.2,191.2 L636.2,191.2 L636.2,191.3 L638.2,191.3 L638.2,191.4 L639.2,191.4 L639.2,191.3 L640.2,191.3 L640.2,190.5 L641.2,190.5 L641.2,190.9 L643.2,190.9 L643.2,190.7 L645.2,190.7 L645.2,191.4 L647.2,191.4 L647.2,191.3 L648.2,191.3 L648.2,191.1 L649.2,191.1 L649.2,191.2 L650.2,191.2 L650.2,191.0 L651.2,191.0 L651.2,191.3 L652.2,191.3 L652.2,191.1 L653.2,191.1 L653.2,191.0 L654.2,191.0 L654.2,191.3 L655.2,191.3 L655.2,191.4 L656.2,191.4 L656.2,191.3 L657.2,191.3 L657.2,191.4 L660.2,191.4 L660.2,191.3 L664.2,191.3 L664.2,191.4 L666.2,191.4 L666.2,191.3 L667.2,191.3 L667.2,191.4 L670.2,191.4 L670.2,191.3 L671.2,191.3 L671.2,191.4 L674.4,191.4 L674.4,191.4 Z" fill="#d8190c" stroke="none"/>
<line x1="557.20" y1="204.50" x2="674.40" y2="204.50" stroke="#6464f0" stroke-width="1.0" />
<path d="M557.2,204.6 L557.2,204.6 L558.2,204.6 L558.2,204.5 L559.2,204.5 L559.2,204.3 L560.2,204.3 L560.2,204.4 L561.2,204.4 L561.2,204.2 L563.2,204.2 L563.2,204.3 L564.2,204.3 L564.2,204.5 L566.2,204.5 L566.2,204.2 L567.2,204.2 L567.2,204.1 L568.2,204.1 L568.2,204.5 L569.2,204.5 L569.2,204.2 L572.2,204.2 L572.2,204.1 L573.2,204.1 L573.2,204.6 L575.2,204.6 L575.2,204.5 L576.2,204.5 L576.2,204.3 L577.2,204.3 L577.2,204.4 L579.2,204.4 L579.2,204.2 L580.2,204.2 L580.2,204.3 L582.2,204.3 L582.2,204.2 L583.2,204.2 L583.2,204.3 L584.2,204.3 L584.2,204.1 L585.2,204.1 L585.2,204.2 L586.2,204.2 L586.2,204.0 L587.2,204.0 L587.2,204.3 L588.2,204.3 L588.2,204.4 L590.2,204.4 L590.2,204.5 L593.2,204.5 L593.2,204.6 L594.2,204.6 L594.2,204.5 L597.2,204.5 L597.2,204.6 L598.2,204.6 L598.2,204.5 L599.2,204.5 L599.2,203.7 L600.2,203.7 L600.2,194.1 L602.2,194.1 L602.2,198.6 L603.2,198.6 L603.2,204.3 L604.2,204.3 L604.2,204.1 L605.2,204.1 L605.2,204.5 L606.2,204.5 L606.2,204.6 L607.2,204.6 L607.2,204.5 L612.2,204.5 L612.2,204.6 L613.2,204.6 L613.2,204.2 L615.2,204.2 L615.2,203.7 L616.2,203.7 L616.2,204.1 L617.2,204.1 L617.2,204.5 L618.2,204.5 L618.2,204.6 L619.2,204.6 L619.2,201.6 L620.2,201.6 L620.2,204.1 L621.2,204.1 L621.2,204.6 L622.2,204.6 L622.2,204.5 L625.2,204.5 L625.2,204.6 L626.2,204.6 L626.2,204.2 L627.2,204.2 L627.2,204.3 L629.2,204.3 L629.2,204.4 L630.2,204.4 L630.2,204.5 L632.2,204.5 L632.2,204.6 L633.2,204.6 L633.2,204.3 L635.2,204.3 L635.2,204.4 L636.2,204.4 L636.2,204.2 L637.2,204.2 L637.2,204.6 L638.2,204.6 L638.2,204.3 L640.2,204.3 L640.2,204.4 L641.2,204.4 L641.2,204.6 L642.2,204.6 L642.2,204.3 L643.2,204.3 L643.2,204.4 L644.2,204.4 L644.2,204.3 L646.2,204.3 L646.2,204.6 L648.2,204.6 L648.2,204.5 L649.2,204.5 L649.2,204.4 L650.2,204.4 L650.2,204.5 L651.2,204.5 L651.2,204.1 L652.2,204.1 L652.2,204.3 L653.2,204.3 L653.2,204.1 L654.2,204.1 L654.2,204.4 L655.2,204.4 L655.2,204.3 L656.2,204.3 L656.2,204.1 L657.2,204.1 L657.2,204.5 L659.2,204.5 L659.2,204.6 L660.2,204.6 L660.2,204.5 L664.2,204.5 L664.2,204.6 L665.2,204.6 L665.2,204.3 L667.2,204.3 L667.2,204.6 L668.2,204.6 L668.2,203.9 L669.2,203.9 L669.2,204.2 L671.2,204.2 L671.2,203.9 L672.2,203.9 L672.2,203.8 L673.2,203.8 L673.2,204.5 L674.4,204.5 L674.4,204.6 Z" fill="#1a05e0" stroke="none"/>
<line x1="557.20" y1="218.20" x2="674.40" y2="218.20" stroke="#6464f0" stroke-width="1.0" />
<path d="M557.2,218.3 L557.2,217.8 L558.2,217.8 L558.2,218.1 L559.2,218.1 L559.2,217.8 L560.2,217.8 L560.2,218.1 L561.2,218.1 L561.2,217.9 L562.2,217.9 L562.2,218.0 L563.2,218.0 L563.2,218.3 L565.2,218.3 L565.2,217.9 L568.2,217.9 L568.2,217.8 L570.2,217.8 L570.2,217.7 L571.2,217.7 L571.2,218.0 L572.2,218.0 L572.2,217.8 L573.2,217.8 L573.2,217.9 L574.2,217.9 L574.2,217.8 L575.2,217.8 L575.2,217.9 L576.2,217.9 L576.2,218.3 L578.2,218.3 L578.2,217.8 L579.2,217.8 L579.2,217.9 L581.2,217.9 L581.2,218.0 L582.2,218.0 L582.2,218.2 L583.2,218.2 L583.2,218.3 L584.2,218.3 L584.2,218.2 L587.2,218.2 L587.2,218.3 L588.2,218.3 L588.2,217.8 L589.2,217.8 L589.2,217.9 L590.2,217.9 L590.2,218.0 L593.2,218.0 L593.2,218.2 L596.2,218.2 L596.2,217.7 L597.2,217.7 L597.2,217.8 L598.2,217.8 L598.2,217.4 L599.2,217.4 L599.2,215.7 L600.2,215.7 L600.2,213.5 L601.2,213.5 L601.2,213.3 L602.2,213.3 L602.2,215.5 L603.2,215.5 L603.2,217.2 L604.2,217.2 L604.2,217.9 L607.2,217.9 L607.2,218.2 L609.2,218.2 L609.2,218.3 L613.2,218.3 L613.2,218.0 L614.2,218.0 L614.2,217.8 L615.2,217.8 L615.2,217.9 L617.2,217.9 L617.2,218.3 L618.2,218.3 L618.2,218.2 L619.2,218.2 L619.2,217.3 L620.2,217.3 L620.2,217.8 L621.2,217.8 L621.2,218.0 L622.2,218.0 L622.2,217.7 L623.2,217.7 L623.2,217.8 L624.2,217.8 L624.2,217.9 L625.2,217.9 L625.2,218.3 L626.2,218.3 L626.2,218.2 L627.2,218.2 L627.2,217.9 L628.2,217.9 L628.2,217.7 L629.2,217.7 L629.2,218.1 L630.2,218.1 L630.2,218.0 L632.2,218.0 L632.2,217.9 L634.2,217.9 L634.2,217.8 L636.2,217.8 L636.2,217.7 L637.2,217.7 L637.2,218.3 L638.2,218.3 L638.2,218.2 L639.2,218.2 L639.2,218.3 L640.2,218.3 L640.2,218.2 L643.2,218.2 L643.2,218.1 L644.2,218.1 L644.2,217.9 L645.2,217.9 L645.2,218.0 L646.2,218.0 L646.2,218.1 L647.2,218.1 L647.2,217.9 L648.2,217.9 L648.2,218.2 L649.2,218.2 L649.2,218.3 L650.2,218.3 L650.2,218.2 L651.2,218.2 L651.2,218.3 L652.2,218.3 L652.2,218.2 L656.2,218.2 L656.2,218.3 L657.2,218.3 L657.2,218.2 L659.2,218.2 L659.2,218.3 L660.2,218.3 L660.2,218.0 L662.2,218.0 L662.2,218.3 L663.2,218.3 L663.2,218.2 L665.2,218.2 L665.2,218.0 L667.2,218.0 L667.2,218.1 L668.2,218.1 L668.2,217.8 L670.2,217.8 L670.2,217.6 L671.2,217.6 L671.2,218.3 L673.2,218.3 L673.2,218.2 L674.2,218.2 L674.2,218.3 L674.4,218.3 L674.4,218.3 Z" fill="#1a05e0" stroke="none"/>
<line x1="557.20" y1="232.20" x2="674.40" y2="232.20" stroke="#7575ee" stroke-width="1.0" />
<path d="M557.2,232.3 L557.2,232.3 L569.7,232.3 L569.7,232.2 L571.2,232.2 L571.2,232.3 L576.2,232.3 L576.2,232.0 L576.7,232.0 L576.7,232.1 L577.2,232.1 L577.2,232.3 L581.2,232.3 L581.2,232.1 L581.7,232.1 L581.7,232.2 L582.2,232.2 L582.2,232.1 L583.2,232.1 L583.2,232.3 L589.2,232.3 L589.2,231.9 L589.7,231.9 L589.7,232.1 L590.2,232.1 L590.2,232.0 L590.7,232.0 L590.7,232.1 L591.2,232.1 L591.2,232.3 L591.7,232.3 L591.7,232.0 L592.2,232.0 L592.2,232.1 L592.7,232.1 L592.7,232.0 L593.2,232.0 L593.2,231.9 L593.7,231.9 L593.7,232.3 L596.7,232.3 L596.7,232.1 L597.7,232.1 L597.7,232.3 L601.2,232.3 L601.2,231.7 L601.7,231.7 L601.7,229.5 L602.2,229.5 L602.2,227.5 L602.7,227.5 L602.7,230.9 L603.2,230.9 L603.2,232.2 L603.7,232.2 L603.7,232.3 L612.7,232.3 L612.7,230.1 L613.2,230.1 L613.2,226.1 L613.7,226.1 L613.7,225.8 L614.2,225.8 L614.2,231.3 L615.2,231.3 L615.2,223.8 L616.2,223.8 L616.2,228.0 L616.7,228.0 L616.7,232.3 L617.7,232.3 L617.7,232.1 L618.2,232.1 L618.2,232.2 L618.7,232.2 L618.7,232.1 L619.2,232.1 L619.2,232.2 L620.2,232.2 L620.2,232.3 L625.7,232.3 L625.7,232.2 L626.7,232.2 L626.7,232.1 L627.7,232.1 L627.7,232.2 L628.2,232.2 L628.2,232.3 L646.7,232.3 L646.7,221.4 L647.2,221.4 L647.2,221.6 L647.7,221.6 L647.7,221.8 L648.2,221.8 L648.2,222.5 L648.7,222.5 L648.7,223.2 L649.2,223.2 L649.2,223.6 L649.7,223.6 L649.7,224.0 L650.2,224.0 L650.2,228.3 L650.7,228.3 L650.7,232.3 L664.7,232.3 L664.7,225.6 L665.2,225.6 L665.2,223.3 L666.7,223.3 L666.7,230.0 L667.2,230.0 L667.2,232.3 L668.7,232.3 L668.7,225.6 L669.2,225.6 L669.2,223.3 L670.2,223.3 L670.2,228.3 L671.2,228.3 L671.2,222.8 L671.7,222.8 L671.7,222.9 L672.2,222.9 L672.2,223.1 L672.7,223.1 L672.7,223.2 L673.2,223.2 L673.2,223.3 L673.7,223.3 L673.7,232.0 L674.2,232.0 L674.2,232.1 L674.4,232.1 L674.4,232.3 Z" fill="#1a05e0" stroke="none"/>
<line x1="557.20" y1="246.10" x2="674.40" y2="246.10" stroke="#7575ee" stroke-width="1.0" />
<path d="M557.2,246.2 L557.2,246.2 L569.2,246.2 L569.2,246.1 L569.7,246.1 L569.7,246.0 L570.7,246.0 L570.7,246.1 L571.2,246.1 L571.2,246.0 L571.7,246.0 L571.7,246.2 L573.7,246.2 L573.7,246.0 L574.2,246.0 L574.2,245.9 L575.2,245.9 L575.2,245.8 L575.7,245.8 L575.7,246.1 L576.2,246.1 L576.2,245.9 L576.7,245.9 L576.7,246.2 L583.7,246.2 L583.7,246.0 L584.7,246.0 L584.7,245.8 L585.7,245.8 L585.7,246.2 L599.2,246.2 L599.2,245.9 L599.7,245.9 L599.7,246.0 L600.7,246.0 L600.7,245.8 L601.2,245.8 L601.2,245.7 L601.7,245.7 L601.7,244.0 L602.2,244.0 L602.2,242.4 L602.7,242.4 L602.7,245.1 L603.2,245.1 L603.2,246.1 L603.7,246.1 L603.7,246.2 L612.7,246.2 L612.7,244.4 L613.2,244.4 L613.2,241.3 L613.7,241.3 L613.7,241.0 L614.2,241.0 L614.2,245.4 L615.2,245.4 L615.2,239.4 L616.2,239.4 L616.2,242.8 L616.7,242.8 L616.7,246.2 L617.2,246.2 L617.2,245.9 L617.7,245.9 L617.7,246.0 L618.2,246.0 L618.2,245.9 L618.7,245.9 L618.7,246.0 L619.2,246.0 L619.2,246.2 L625.2,246.2 L625.2,246.1 L626.2,246.1 L626.2,246.0 L626.7,246.0 L626.7,246.1 L627.7,246.1 L627.7,246.2 L630.7,246.2 L630.7,246.0 L631.2,246.0 L631.2,246.1 L632.7,246.1 L632.7,246.0 L633.7,246.0 L633.7,246.2 L646.7,246.2 L646.7,237.4 L647.2,237.4 L647.2,237.6 L647.7,237.6 L647.7,237.8 L648.2,237.8 L648.2,238.3 L648.7,238.3 L648.7,238.9 L649.2,238.9 L649.2,239.3 L649.7,239.3 L649.7,239.6 L650.2,239.6 L650.2,243.0 L650.7,243.0 L650.7,245.8 L651.2,245.8 L651.2,246.0 L651.7,246.0 L651.7,245.9 L652.2,245.9 L652.2,246.2 L664.7,246.2 L664.7,240.8 L665.2,240.8 L665.2,239.0 L666.7,239.0 L666.7,244.4 L667.2,244.4 L667.2,246.2 L668.7,246.2 L668.7,240.8 L669.2,240.8 L669.2,239.0 L670.2,239.0 L670.2,243.0 L671.2,243.0 L671.2,238.6 L671.7,238.6 L671.7,238.7 L672.2,238.7 L672.2,238.8 L672.7,238.8 L672.7,238.9 L673.2,238.9 L673.2,239.0 L673.7,239.0 L673.7,246.2 L674.4,246.2 L674.4,246.2 Z" fill="#1a05e0" stroke="none"/>
<line x1="648.00" y1="158.70" x2="668.00" y2="158.70" stroke="#666" stroke-width="1.0" />
<text x="658.40" y="155.80" font-size="7.4" text-anchor="middle" font-weight="normal" font-style="normal" fill="#111" stroke="#111" stroke-width="0.22" >5 kb</text>
<line x1="558.90" y1="254.90" x2="574.40" y2="254.90" stroke="#111" stroke-width="1.5" />
<path d="M579.20,254.90 L571.20,251.90 L573.44,254.90 L571.20,257.90 Z" fill="#111"/>
<line x1="557.90" y1="264.80" x2="673.30" y2="264.80" stroke="#6a6aee" stroke-width="0.8" />
<rect x="567.00" y="261.80" width="1.00" height="6.00" fill="#1e1ee8" />
<rect x="580.00" y="261.80" width="1.00" height="6.00" fill="#1e1ee8" />
<rect x="601.80" y="261.80" width="1.00" height="6.00" fill="#1e1ee8" />
<rect x="614.20" y="261.80" width="2.20" height="6.00" fill="#1e1ee8" />
<rect x="647.60" y="261.80" width="2.90" height="6.00" fill="#1e1ee8" />
<rect x="665.80" y="261.80" width="1.40" height="6.00" fill="#1e1ee8" />
<rect x="669.50" y="262.55" width="3.80" height="4.50" fill="#1e1ee8" />
<polyline points="559.70,263.50 561.00,264.80 559.70,266.10" fill="none" stroke="#6a6aee" stroke-width="0.6"/>
<polyline points="571.70,263.50 573.00,264.80 571.70,266.10" fill="none" stroke="#6a6aee" stroke-width="0.6"/>
<polyline points="584.70,263.50 586.00,264.80 584.70,266.10" fill="none" stroke="#6a6aee" stroke-width="0.6"/>
<polyline points="591.70,263.50 593.00,264.80 591.70,266.10" fill="none" stroke="#6a6aee" stroke-width="0.6"/>
<polyline points="606.70,263.50 608.00,264.80 606.70,266.10" fill="none" stroke="#6a6aee" stroke-width="0.6"/>
<polyline points="625.70,263.50 627.00,264.80 625.70,266.10" fill="none" stroke="#6a6aee" stroke-width="0.6"/>
<polyline points="634.70,263.50 636.00,264.80 634.70,266.10" fill="none" stroke="#6a6aee" stroke-width="0.6"/>
<polyline points="654.70,263.50 656.00,264.80 654.70,266.10" fill="none" stroke="#6a6aee" stroke-width="0.6"/>
<polyline points="658.70,263.50 660.00,264.80 658.70,266.10" fill="none" stroke="#6a6aee" stroke-width="0.6"/>
<text x="624.50" y="277.60" font-size="7" text-anchor="middle" font-weight="normal" font-style="italic" fill="#111" stroke="#111" stroke-width="0.22" >RNF220</text>
<text x="244.60" y="312.00" font-size="16" text-anchor="start" font-weight="bold" font-style="normal" fill="#000" >F</text>
<text x="273.80" y="311.90" font-size="7.08" text-anchor="start" font-weight="normal" font-style="normal" fill="#111" stroke="#111" stroke-width="0.22" >SHEPtetMYCN (Dox+ 48h)</text>
<rect x="312.50" y="327.00" width="161.20" height="84.40" fill="#f8f8f8" />
<text x="280.00" y="326.40" font-size="7" text-anchor="start" font-weight="normal" font-style="normal" fill="#111" stroke="#111" stroke-width="0.22" >Dox</text>
<text x="248.60" y="345.10" font-size="7" text-anchor="start" font-weight="normal" font-style="normal" fill="#111" stroke="#111" stroke-width="0.22" >MYCN</text>
<line x1="277.70" y1="333.40" x2="277.70" y2="352.50" stroke="#555" stroke-width="0.9" />
<line x1="284.80" y1="335.50" x2="287.40" y2="335.50" stroke="#222" stroke-width="0.95" />
<text x="282.84" y="351.40" font-size="8" text-anchor="start" font-weight="normal" font-style="normal" fill="#111" stroke="#111" stroke-width="0.22" >+</text>
<text x="293.00" y="337.80" font-size="6.8" text-anchor="start" font-weight="normal" font-style="normal" fill="#111" stroke="#111" stroke-width="0.22" >81</text>
<text x="293.00" y="351.10" font-size="6.8" text-anchor="start" font-weight="normal" font-style="normal" fill="#111" stroke="#111" stroke-width="0.22" >81</text>
<text x="248.60" y="372.20" font-size="7" text-anchor="start" font-weight="normal" font-style="normal" fill="#111" stroke="#111" stroke-width="0.22" >KAT2A</text>
<line x1="277.70" y1="360.10" x2="277.70" y2="380.10" stroke="#555" stroke-width="0.9" />
<line x1="284.80" y1="363.50" x2="287.40" y2="363.50" stroke="#222" stroke-width="0.95" />
<text x="282.84" y="378.70" font-size="8" text-anchor="start" font-weight="normal" font-style="normal" fill="#111" stroke="#111" stroke-width="0.22" >+</text>
<text x="293.00" y="365.90" font-size="6.8" text-anchor="start" font-weight="normal" font-style="normal" fill="#111" stroke="#111" stroke-width="0.22" >29</text>
<text x="293.00" y="378.40" font-size="6.8" text-anchor="start" font-weight="normal" font-style="normal" fill="#111" stroke="#111" stroke-width="0.22" >29</text>
<text x="248.60" y="400.80" font-size="7" text-anchor="start" font-weight="normal" font-style="normal" fill="#111" stroke="#111" stroke-width="0.22" >RNAseq</text>
<line x1="277.70" y1="389.00" x2="277.70" y2="408.70" stroke="#555" stroke-width="0.9" />
<line x1="284.80" y1="391.50" x2="287.40" y2="391.50" stroke="#222" stroke-width="0.95" />
<text x="282.84" y="407.50" font-size="8" text-anchor="start" font-weight="normal" font-style="normal" fill="#111" stroke="#111" stroke-width="0.22" >+</text>
<text x="293.00" y="394.60" font-size="6.8" text-anchor="start" font-weight="normal" font-style="normal" fill="#111" stroke="#111" stroke-width="0.22" >2123</text>
<text x="293.00" y="407.20" font-size="6.8" text-anchor="start" font-weight="normal" font-style="normal" fill="#111" stroke="#111" stroke-width="0.22" >2123</text>
<line x1="312.50" y1="340.40" x2="473.70" y2="340.40" stroke="#d8506a" stroke-width="1.0" />
<path d="M312.5,340.5 L312.5,340.3 L314.5,340.3 L314.5,340.5 L315.5,340.5 L315.5,340.4 L316.5,340.4 L316.5,340.5 L317.5,340.5 L317.5,340.3 L319.5,340.3 L319.5,340.1 L320.5,340.1 L320.5,339.7 L321.5,339.7 L321.5,340.1 L322.5,340.1 L322.5,339.5 L323.5,339.5 L323.5,340.5 L324.5,340.5 L324.5,340.1 L325.5,340.1 L325.5,339.6 L326.5,339.6 L326.5,340.4 L327.5,340.4 L327.5,340.5 L328.5,340.5 L328.5,339.8 L329.5,339.8 L329.5,339.9 L331.5,339.9 L331.5,340.1 L333.5,340.1 L333.5,339.5 L334.5,339.5 L334.5,339.8 L335.5,339.8 L335.5,339.6 L337.5,339.6 L337.5,340.3 L338.5,340.3 L338.5,340.4 L341.5,340.4 L341.5,340.5 L342.5,340.5 L342.5,340.4 L345.5,340.4 L345.5,340.5 L347.5,340.5 L347.5,340.4 L348.5,340.4 L348.5,340.5 L349.5,340.5 L349.5,340.4 L353.5,340.4 L353.5,340.1 L354.5,340.1 L354.5,339.9 L355.5,339.9 L355.5,340.1 L356.5,340.1 L356.5,340.4 L357.5,340.4 L357.5,340.5 L358.5,340.5 L358.5,340.4 L359.5,340.4 L359.5,339.6 L360.5,339.6 L360.5,339.4 L361.5,339.4 L361.5,339.9 L362.5,339.9 L362.5,340.0 L363.5,340.0 L363.5,339.9 L364.5,339.9 L364.5,340.0 L365.5,340.0 L365.5,339.7 L367.5,339.7 L367.5,340.0 L368.5,340.0 L368.5,339.7 L369.5,339.7 L369.5,340.5 L370.5,340.5 L370.5,340.4 L372.5,340.4 L372.5,340.3 L373.5,340.3 L373.5,340.4 L374.5,340.4 L374.5,340.5 L375.5,340.5 L375.5,339.4 L376.5,339.4 L376.5,339.9 L377.5,339.9 L377.5,339.6 L378.5,339.6 L378.5,340.0 L379.5,340.0 L379.5,339.8 L380.5,339.8 L380.5,339.7 L381.5,339.7 L381.5,340.0 L383.5,340.0 L383.5,340.5 L384.5,340.5 L384.5,340.4 L385.5,340.4 L385.5,340.5 L386.5,340.5 L386.5,340.4 L392.5,340.4 L392.5,339.7 L393.5,339.7 L393.5,339.9 L395.5,339.9 L395.5,340.1 L396.5,340.1 L396.5,340.2 L397.5,340.2 L397.5,339.9 L399.5,339.9 L399.5,340.1 L400.5,340.1 L400.5,340.0 L401.5,340.0 L401.5,340.1 L403.5,340.1 L403.5,339.9 L404.5,339.9 L404.5,340.5 L405.5,340.5 L405.5,340.4 L406.5,340.4 L406.5,339.3 L407.5,339.3 L407.5,339.8 L408.5,339.8 L408.5,340.4 L410.5,340.4 L410.5,340.5 L411.5,340.5 L411.5,339.9 L412.5,339.9 L412.5,340.0 L413.5,340.0 L413.5,339.6 L414.5,339.6 L414.5,340.1 L415.5,340.1 L415.5,339.6 L416.5,339.6 L416.5,339.1 L417.5,339.1 L417.5,339.7 L418.5,339.7 L418.5,339.0 L419.5,339.0 L419.5,340.5 L422.5,340.5 L422.5,340.3 L423.5,340.3 L423.5,340.4 L425.5,340.4 L425.5,339.4 L426.5,339.4 L426.5,339.7 L427.5,339.7 L427.5,339.5 L429.5,339.5 L429.5,339.6 L430.5,339.6 L430.5,340.4 L431.5,340.4 L431.5,340.3 L432.5,340.3 L432.5,340.5 L433.5,340.5 L433.5,340.4 L434.5,340.4 L434.5,340.5 L435.5,340.5 L435.5,340.4 L436.5,340.4 L436.5,338.7 L438.5,338.7 L438.5,338.6 L440.5,338.6 L440.5,338.5 L441.5,338.5 L441.5,339.5 L442.5,339.5 L442.5,340.4 L443.5,340.4 L443.5,340.5 L444.5,340.5 L444.5,340.4 L446.5,340.4 L446.5,340.5 L447.5,340.5 L447.5,340.2 L448.5,340.2 L448.5,339.9 L449.5,339.9 L449.5,339.8 L450.5,339.8 L450.5,339.9 L451.5,339.9 L451.5,340.3 L452.5,340.3 L452.5,340.4 L453.5,340.4 L453.5,340.5 L454.5,340.5 L454.5,340.4 L456.5,340.4 L456.5,340.3 L457.5,340.3 L457.5,340.4 L459.5,340.4 L459.5,340.3 L460.5,340.3 L460.5,340.4 L461.5,340.4 L461.5,340.5 L463.5,340.5 L463.5,340.3 L464.5,340.3 L464.5,340.4 L466.5,340.4 L466.5,340.3 L467.5,340.3 L467.5,340.4 L469.5,340.4 L469.5,340.5 L470.5,340.5 L470.5,340.3 L472.5,340.3 L472.5,340.4 L473.7,340.4 L473.7,340.5 Z" fill="#d01838" stroke="none"/>
<line x1="312.50" y1="354.30" x2="473.70" y2="354.30" stroke="#d8506a" stroke-width="1.0" />
<path d="M312.5,354.4 L312.5,353.7 L313.3,353.7 L313.3,353.8 L314.9,353.8 L314.9,354.0 L315.7,354.0 L315.7,353.8 L317.3,353.8 L317.3,354.0 L318.9,354.0 L318.9,354.4 L320.5,354.4 L320.5,354.3 L321.3,354.3 L321.3,354.1 L322.1,354.1 L322.1,354.0 L322.9,354.0 L322.9,353.9 L323.7,353.9 L323.7,354.1 L325.3,354.1 L325.3,353.5 L327.7,353.5 L327.7,354.3 L328.5,354.3 L328.5,354.4 L329.3,354.4 L329.3,354.3 L331.7,354.3 L331.7,354.4 L332.5,354.4 L332.5,354.3 L333.3,354.3 L333.3,353.7 L334.9,353.7 L334.9,354.0 L335.7,354.0 L335.7,354.1 L336.5,354.1 L336.5,353.8 L337.3,353.8 L337.3,353.9 L338.9,353.9 L338.9,353.8 L339.7,353.8 L339.7,354.0 L340.5,354.0 L340.5,354.1 L342.1,354.1 L342.1,353.9 L343.7,353.9 L343.7,354.0 L344.5,354.0 L344.5,353.5 L345.3,353.5 L345.3,353.8 L346.1,353.8 L346.1,354.0 L346.9,354.0 L346.9,354.2 L347.7,354.2 L347.7,354.0 L348.5,354.0 L348.5,354.4 L349.3,354.4 L349.3,354.3 L350.9,354.3 L350.9,354.4 L351.7,354.4 L351.7,354.3 L354.1,354.3 L354.1,354.4 L354.9,354.4 L354.9,353.7 L356.5,353.7 L356.5,354.0 L357.3,354.0 L357.3,354.3 L358.1,354.3 L358.1,353.7 L358.9,353.7 L358.9,353.9 L359.7,353.9 L359.7,353.8 L360.5,353.8 L360.5,353.9 L361.3,353.9 L361.3,354.3 L363.7,354.3 L363.7,353.4 L364.5,353.4 L364.5,353.8 L365.3,353.8 L365.3,354.0 L366.1,354.0 L366.1,353.4 L366.9,353.4 L366.9,354.3 L368.5,354.3 L368.5,354.4 L369.3,354.4 L369.3,354.3 L376.5,354.3 L376.5,354.2 L377.3,354.2 L377.3,354.0 L378.1,354.0 L378.1,353.9 L378.9,353.9 L378.9,353.7 L380.5,353.7 L380.5,353.9 L382.1,353.9 L382.1,353.8 L382.9,353.8 L382.9,354.3 L385.3,354.3 L385.3,353.8 L386.9,353.8 L386.9,354.3 L387.7,354.3 L387.7,354.4 L389.3,354.4 L389.3,354.1 L390.1,354.1 L390.1,354.0 L390.9,354.0 L390.9,353.9 L391.7,353.9 L391.7,354.2 L392.5,354.2 L392.5,353.9 L393.3,353.9 L393.3,354.4 L394.1,354.4 L394.1,354.3 L394.9,354.3 L394.9,354.4 L395.7,354.4 L395.7,354.3 L396.5,354.3 L396.5,354.4 L397.3,354.4 L397.3,354.3 L398.9,354.3 L398.9,354.1 L399.7,354.1 L399.7,353.9 L400.5,353.9 L400.5,354.1 L402.1,354.1 L402.1,354.0 L402.9,354.0 L402.9,353.9 L403.7,353.9 L403.7,354.1 L404.5,354.1 L404.5,353.8 L405.3,353.8 L405.3,354.2 L406.1,354.2 L406.1,354.1 L406.9,354.1 L406.9,354.3 L411.7,354.3 L411.7,354.4 L413.3,354.4 L413.3,354.3 L414.1,354.3 L414.1,354.0 L414.9,354.0 L414.9,354.1 L416.5,354.1 L416.5,353.9 L418.1,353.9 L418.1,354.1 L418.9,354.1 L418.9,353.9 L420.5,353.9 L420.5,354.1 L421.3,354.1 L421.3,353.9 L422.1,353.9 L422.1,354.0 L422.9,354.0 L422.9,354.4 L423.7,354.4 L423.7,354.3 L426.1,354.3 L426.1,354.4 L426.9,354.4 L426.9,354.3 L427.7,354.3 L427.7,354.4 L428.5,354.4 L428.5,354.3 L429.3,354.3 L429.3,354.4 L430.1,354.4 L430.1,354.3 L434.1,354.3 L434.1,353.2 L434.9,353.2 L434.9,351.9 L435.7,351.9 L435.7,350.6 L436.5,350.6 L436.5,348.8 L437.3,348.8 L437.3,346.5 L438.1,346.5 L438.1,344.7 L438.9,344.7 L438.9,346.0 L439.7,346.0 L439.7,347.3 L440.5,347.3 L440.5,348.5 L441.3,348.5 L441.3,349.7 L442.1,349.7 L442.1,350.8 L442.9,350.8 L442.9,351.9 L443.7,351.9 L443.7,352.2 L444.5,352.2 L444.5,352.0 L445.3,352.0 L445.3,350.5 L446.1,350.5 L446.1,349.7 L446.9,349.7 L446.9,348.9 L447.7,348.9 L447.7,349.3 L448.5,349.3 L448.5,350.2 L449.3,350.2 L449.3,350.7 L450.1,350.7 L450.1,351.6 L450.9,351.6 L450.9,352.1 L451.7,352.1 L451.7,352.5 L452.5,352.5 L452.5,352.9 L453.3,352.9 L453.3,354.0 L454.1,354.0 L454.1,353.9 L454.9,353.9 L454.9,353.8 L456.5,353.8 L456.5,354.1 L457.3,354.1 L457.3,353.9 L458.1,353.9 L458.1,354.0 L458.9,354.0 L458.9,353.9 L459.7,353.9 L459.7,353.6 L460.5,353.6 L460.5,354.4 L462.1,354.4 L462.1,354.3 L462.9,354.3 L462.9,354.1 L464.5,354.1 L464.5,354.0 L465.3,354.0 L465.3,354.1 L466.1,354.1 L466.1,354.3 L466.9,354.3 L466.9,354.4 L467.7,354.4 L467.7,354.3 L470.9,354.3 L470.9,354.1 L471.7,354.1 L471.7,354.2 L473.3,354.2 L473.3,354.0 L473.7,354.0 L473.7,354.4 Z" fill="#d01838" stroke="none"/>
<line x1="312.50" y1="368.40" x2="473.70" y2="368.40" stroke="#6464f0" stroke-width="1.0" />
<path d="M312.5,368.5 L312.5,368.3 L313.7,368.3 L313.7,368.5 L314.9,368.5 L314.9,367.5 L316.1,367.5 L316.1,366.8 L317.3,366.8 L317.3,366.6 L318.5,366.6 L318.5,366.5 L319.7,366.5 L319.7,366.9 L320.9,366.9 L320.9,367.4 L323.3,367.4 L323.3,368.4 L324.5,368.4 L324.5,368.2 L325.7,368.2 L325.7,368.1 L326.9,368.1 L326.9,368.2 L329.3,368.2 L329.3,368.5 L330.5,368.5 L330.5,368.2 L331.7,368.2 L331.7,368.4 L332.9,368.4 L332.9,368.3 L334.1,368.3 L334.1,368.2 L335.3,368.2 L335.3,367.6 L336.5,367.6 L336.5,366.9 L337.7,366.9 L337.7,367.7 L338.9,367.7 L338.9,366.4 L340.1,366.4 L340.1,366.9 L341.3,366.9 L341.3,367.7 L342.5,367.7 L342.5,366.4 L343.7,366.4 L343.7,366.9 L344.9,366.9 L344.9,367.6 L346.1,367.6 L346.1,366.4 L347.3,366.4 L347.3,366.7 L348.5,366.7 L348.5,367.8 L350.9,367.8 L350.9,366.7 L352.1,366.7 L352.1,366.6 L353.3,366.6 L353.3,367.7 L354.5,367.7 L354.5,368.5 L355.7,368.5 L355.7,368.3 L356.9,368.3 L356.9,365.8 L358.1,365.8 L358.1,366.7 L359.3,366.7 L359.3,366.0 L360.5,366.0 L360.5,367.3 L361.7,367.3 L361.7,367.0 L362.9,367.0 L362.9,368.4 L364.1,368.4 L364.1,368.1 L365.3,368.1 L365.3,366.4 L367.7,366.4 L367.7,366.8 L370.1,366.8 L370.1,365.3 L371.3,365.3 L371.3,368.2 L372.5,368.2 L372.5,368.4 L373.7,368.4 L373.7,368.2 L374.9,368.2 L374.9,368.3 L376.1,368.3 L376.1,367.7 L377.3,367.7 L377.3,366.6 L378.5,366.6 L378.5,368.1 L380.9,368.1 L380.9,368.3 L382.1,368.3 L382.1,366.7 L383.3,366.7 L383.3,367.0 L384.5,367.0 L384.5,367.3 L385.7,367.3 L385.7,367.1 L386.9,367.1 L386.9,367.7 L388.1,367.7 L388.1,367.1 L389.3,367.1 L389.3,367.2 L390.5,367.2 L390.5,367.3 L391.7,367.3 L391.7,367.0 L392.9,367.0 L392.9,367.3 L394.1,367.3 L394.1,366.8 L395.3,366.8 L395.3,368.1 L396.5,368.1 L396.5,368.2 L397.7,368.2 L397.7,367.6 L398.9,367.6 L398.9,366.9 L400.1,366.9 L400.1,367.3 L401.3,367.3 L401.3,367.1 L403.7,367.1 L403.7,367.2 L404.9,367.2 L404.9,366.5 L406.1,366.5 L406.1,366.8 L407.3,366.8 L407.3,367.0 L408.5,367.0 L408.5,368.3 L410.9,368.3 L410.9,368.2 L412.1,368.2 L412.1,367.6 L413.3,367.6 L413.3,367.5 L414.5,367.5 L414.5,366.2 L415.7,366.2 L415.7,368.4 L416.9,368.4 L416.9,368.1 L418.1,368.1 L418.1,368.2 L419.3,368.2 L419.3,368.5 L420.5,368.5 L420.5,368.4 L421.7,368.4 L421.7,368.1 L422.9,368.1 L422.9,367.2 L424.1,367.2 L424.1,367.5 L425.3,367.5 L425.3,367.3 L426.5,367.3 L426.5,366.7 L427.7,366.7 L427.7,366.9 L428.9,366.9 L428.9,367.2 L430.1,367.2 L430.1,367.3 L431.3,367.3 L431.3,367.4 L432.5,367.4 L432.5,365.2 L433.7,365.2 L433.7,366.5 L434.9,366.5 L434.9,366.3 L436.1,366.3 L436.1,365.8 L437.3,365.8 L437.3,365.3 L438.5,365.3 L438.5,366.4 L439.7,366.4 L439.7,365.3 L440.9,365.3 L440.9,365.7 L442.1,365.7 L442.1,365.6 L443.3,365.6 L443.3,366.3 L444.5,366.3 L444.5,365.7 L445.7,365.7 L445.7,366.7 L446.9,366.7 L446.9,366.6 L448.1,366.6 L448.1,366.4 L449.3,366.4 L449.3,365.9 L450.5,365.9 L450.5,366.7 L451.7,366.7 L451.7,365.9 L452.9,365.9 L452.9,366.6 L454.1,366.6 L454.1,365.9 L455.3,365.9 L455.3,365.3 L456.5,365.3 L456.5,365.6 L457.7,365.6 L457.7,365.9 L458.9,365.9 L458.9,367.0 L460.1,367.0 L460.1,366.5 L461.3,366.5 L461.3,366.0 L462.5,366.0 L462.5,365.3 L463.7,365.3 L463.7,365.2 L464.9,365.2 L464.9,366.6 L466.1,366.6 L466.1,365.3 L467.3,365.3 L467.3,365.6 L468.5,365.6 L468.5,366.9 L469.7,366.9 L469.7,365.9 L470.9,365.9 L470.9,365.3 L472.1,365.3 L472.1,366.0 L473.3,366.0 L473.3,366.8 L473.7,366.8 L473.7,368.5 Z" fill="#1a05e0" stroke="none"/>
<line x1="312.50" y1="382.30" x2="473.70" y2="382.30" stroke="#6464f0" stroke-width="1.0" />
<path d="M312.5,382.4 L312.5,379.6 L313.7,379.6 L313.7,380.3 L314.9,380.3 L314.9,380.4 L316.1,380.4 L316.1,380.5 L317.3,380.5 L317.3,380.8 L318.5,380.8 L318.5,382.4 L319.7,382.4 L319.7,382.0 L320.9,382.0 L320.9,382.4 L323.3,382.4 L323.3,382.2 L324.5,382.2 L324.5,381.5 L326.9,381.5 L326.9,381.7 L328.1,381.7 L328.1,382.2 L329.3,382.2 L329.3,382.4 L330.5,382.4 L330.5,382.1 L331.7,382.1 L331.7,382.0 L332.9,382.0 L332.9,382.2 L335.3,382.2 L335.3,381.2 L336.5,381.2 L336.5,380.7 L337.7,380.7 L337.7,380.9 L338.9,380.9 L338.9,381.7 L340.1,381.7 L340.1,380.5 L341.3,380.5 L341.3,382.1 L342.5,382.1 L342.5,382.2 L343.7,382.2 L343.7,382.0 L344.9,382.0 L344.9,380.9 L346.1,380.9 L346.1,381.3 L347.3,381.3 L347.3,381.2 L348.5,381.2 L348.5,382.1 L350.9,382.1 L350.9,380.8 L352.1,380.8 L352.1,380.5 L353.3,380.5 L353.3,380.8 L354.5,380.8 L354.5,381.6 L355.7,381.6 L355.7,381.2 L356.9,381.2 L356.9,382.1 L358.1,382.1 L358.1,382.0 L360.5,382.0 L360.5,380.4 L361.7,380.4 L361.7,380.9 L362.9,380.9 L362.9,379.8 L364.1,379.8 L364.1,379.0 L365.3,379.0 L365.3,379.6 L366.5,379.6 L366.5,382.4 L367.7,382.4 L367.7,382.2 L368.9,382.2 L368.9,379.8 L370.1,379.8 L370.1,381.3 L371.3,381.3 L371.3,381.0 L372.5,381.0 L372.5,379.8 L373.7,379.8 L373.7,382.0 L374.9,382.0 L374.9,381.0 L376.1,381.0 L376.1,379.3 L377.3,379.3 L377.3,379.5 L378.5,379.5 L378.5,380.6 L379.7,380.6 L379.7,382.3 L380.9,382.3 L380.9,382.1 L382.1,382.1 L382.1,382.2 L383.3,382.2 L383.3,382.3 L384.5,382.3 L384.5,382.0 L385.7,382.0 L385.7,382.3 L386.9,382.3 L386.9,380.9 L389.3,380.9 L389.3,380.6 L390.5,380.6 L390.5,379.8 L391.7,379.8 L391.7,379.5 L392.9,379.5 L392.9,379.3 L394.1,379.3 L394.1,380.2 L395.3,380.2 L395.3,378.9 L396.5,378.9 L396.5,379.4 L397.7,379.4 L397.7,382.3 L400.1,382.3 L400.1,381.6 L401.3,381.6 L401.3,380.6 L402.5,380.6 L402.5,382.3 L403.7,382.3 L403.7,381.2 L404.9,381.2 L404.9,381.7 L406.1,381.7 L406.1,382.3 L407.3,382.3 L407.3,382.0 L408.5,382.0 L408.5,382.1 L409.7,382.1 L409.7,382.4 L410.9,382.4 L410.9,382.2 L412.1,382.2 L412.1,382.1 L413.3,382.1 L413.3,382.3 L414.5,382.3 L414.5,382.4 L415.7,382.4 L415.7,381.9 L416.9,381.9 L416.9,381.5 L418.1,381.5 L418.1,381.2 L419.3,381.2 L419.3,382.0 L422.9,382.0 L422.9,381.0 L424.1,381.0 L424.1,380.2 L426.5,380.2 L426.5,381.2 L427.7,381.2 L427.7,382.3 L428.9,382.3 L428.9,382.2 L430.1,382.2 L430.1,382.3 L432.5,382.3 L432.5,382.1 L433.7,382.1 L433.7,378.7 L434.9,378.7 L434.9,377.0 L436.1,377.0 L436.1,374.7 L437.3,374.7 L437.3,373.9 L438.5,373.9 L438.5,373.5 L439.7,373.5 L439.7,374.7 L440.9,374.7 L440.9,375.9 L442.1,375.9 L442.1,377.6 L444.5,377.6 L444.5,378.1 L445.7,378.1 L445.7,376.6 L446.9,376.6 L446.9,378.0 L448.1,378.0 L448.1,378.3 L449.3,378.3 L449.3,379.3 L450.5,379.3 L450.5,381.1 L451.7,381.1 L451.7,381.0 L454.1,381.0 L454.1,380.1 L455.3,380.1 L455.3,380.9 L456.5,380.9 L456.5,379.3 L457.7,379.3 L457.7,381.3 L458.9,381.3 L458.9,380.7 L461.3,380.7 L461.3,379.5 L462.5,379.5 L462.5,381.3 L463.7,381.3 L463.7,380.1 L464.9,380.1 L464.9,379.1 L466.1,379.1 L466.1,380.5 L467.3,380.5 L467.3,380.7 L468.5,380.7 L468.5,382.2 L469.7,382.2 L469.7,382.4 L470.9,382.4 L470.9,382.2 L472.1,382.2 L472.1,382.1 L473.3,382.1 L473.3,382.4 L473.7,382.4 L473.7,382.4 Z" fill="#1a05e0" stroke="none"/>
<line x1="312.50" y1="396.20" x2="473.70" y2="396.20" stroke="#7575ee" stroke-width="1.0" />
<path d="M312.5,396.3 L312.5,396.3 L322.0,396.3 L322.0,396.2 L324.0,396.2 L324.0,396.1 L324.5,396.1 L324.5,396.3 L326.0,396.3 L326.0,396.2 L328.0,396.2 L328.0,396.3 L341.0,396.3 L341.0,396.2 L343.5,396.2 L343.5,396.3 L354.5,396.3 L354.5,396.0 L355.0,396.0 L355.0,395.6 L355.5,395.6 L355.5,395.2 L356.0,395.2 L356.0,394.8 L356.5,394.8 L356.5,394.4 L357.0,394.4 L357.0,394.0 L357.5,394.0 L357.5,393.6 L358.0,393.6 L358.0,393.2 L358.5,393.2 L358.5,393.1 L359.0,393.1 L359.0,393.2 L359.5,393.2 L359.5,393.5 L360.0,393.5 L360.0,393.8 L360.5,393.8 L360.5,395.4 L361.0,395.4 L361.0,396.2 L363.0,396.2 L363.0,396.1 L363.5,396.1 L363.5,396.3 L366.5,396.3 L366.5,392.8 L367.0,392.8 L367.0,391.6 L367.5,391.6 L367.5,391.5 L368.0,391.5 L368.0,393.0 L368.5,393.0 L368.5,391.5 L369.0,391.5 L369.0,391.3 L370.5,391.3 L370.5,392.5 L371.0,392.5 L371.0,391.5 L371.5,391.5 L371.5,391.3 L373.0,391.3 L373.0,391.8 L373.5,391.8 L373.5,391.9 L374.0,391.9 L374.0,391.8 L374.5,391.8 L374.5,391.7 L375.0,391.7 L375.0,396.3 L385.5,396.3 L385.5,393.5 L386.0,393.5 L386.0,392.5 L387.0,392.5 L387.0,395.3 L387.5,395.3 L387.5,396.3 L388.0,396.3 L388.0,392.7 L390.0,392.7 L390.0,396.3 L391.0,396.3 L391.0,392.6 L391.5,392.6 L391.5,391.3 L392.5,391.3 L392.5,396.3 L393.5,396.3 L393.5,392.9 L394.5,392.9 L394.5,396.3 L395.0,396.3 L395.0,392.2 L396.0,392.2 L396.0,392.3 L397.0,392.3 L397.0,396.3 L398.0,396.3 L398.0,392.3 L401.5,392.3 L401.5,395.3 L402.0,395.3 L402.0,396.3 L404.0,396.3 L404.0,392.7 L405.5,392.7 L405.5,396.3 L406.5,396.3 L406.5,393.9 L407.0,393.9 L407.0,394.3 L407.5,394.3 L407.5,394.6 L408.0,394.6 L408.0,395.0 L408.5,395.0 L408.5,396.3 L439.0,396.3 L439.0,395.9 L439.5,395.9 L439.5,395.5 L440.5,395.5 L440.5,396.3 L473.0,396.3 L473.0,396.2 L473.7,396.2 L473.7,396.3 Z" fill="#1a05e0" stroke="none"/>
<line x1="312.50" y1="410.20" x2="473.70" y2="410.20" stroke="#7575ee" stroke-width="1.0" />
<path d="M312.5,410.3 L312.5,410.3 L341.0,410.3 L341.0,410.2 L342.0,410.2 L342.0,410.3 L343.0,410.3 L343.0,410.2 L345.5,410.2 L345.5,410.3 L354.5,410.3 L354.5,409.7 L355.0,409.7 L355.0,408.9 L355.5,408.9 L355.5,408.0 L356.0,408.0 L356.0,407.1 L356.5,407.1 L356.5,406.2 L357.0,406.2 L357.0,405.3 L357.5,405.3 L357.5,404.4 L358.0,404.4 L358.0,403.5 L358.5,403.5 L358.5,403.3 L359.0,403.3 L359.0,403.6 L359.5,403.6 L359.5,404.2 L360.0,404.2 L360.0,404.9 L360.5,404.9 L360.5,408.4 L361.0,408.4 L361.0,410.3 L366.5,410.3 L366.5,402.8 L367.0,402.8 L367.0,400.1 L367.5,400.1 L367.5,400.0 L368.0,400.0 L368.0,403.2 L368.5,403.2 L368.5,399.9 L369.0,399.9 L369.0,399.5 L370.5,399.5 L370.5,402.2 L371.0,402.2 L371.0,399.9 L371.5,399.9 L371.5,399.6 L373.0,399.6 L373.0,400.7 L374.0,400.7 L374.0,400.5 L374.5,400.5 L374.5,400.3 L375.0,400.3 L375.0,410.3 L378.5,410.3 L378.5,410.2 L380.0,410.2 L380.0,410.3 L385.5,410.3 L385.5,404.6 L386.0,404.6 L386.0,402.7 L387.0,402.7 L387.0,408.4 L387.5,408.4 L387.5,410.3 L388.0,410.3 L388.0,403.1 L390.0,403.1 L390.0,410.3 L391.0,410.3 L391.0,402.8 L391.5,402.8 L391.5,400.3 L392.5,400.3 L392.5,410.3 L393.5,410.3 L393.5,403.6 L394.5,403.6 L394.5,410.3 L395.0,410.3 L395.0,402.1 L395.5,402.1 L395.5,402.2 L396.5,402.2 L396.5,402.3 L397.0,402.3 L397.0,410.3 L398.0,410.3 L398.0,402.2 L399.0,402.2 L399.0,402.3 L400.5,402.3 L400.5,402.4 L401.5,402.4 L401.5,408.3 L402.0,408.3 L402.0,410.3 L404.0,410.3 L404.0,403.1 L405.5,403.1 L405.5,410.3 L406.5,410.3 L406.5,405.6 L407.0,405.6 L407.0,406.3 L407.5,406.3 L407.5,407.0 L408.0,407.0 L408.0,407.7 L408.5,407.7 L408.5,410.3 L410.0,410.3 L410.0,410.2 L410.5,410.2 L410.5,410.1 L411.5,410.1 L411.5,410.3 L414.0,410.3 L414.0,410.2 L416.5,410.2 L416.5,410.3 L422.5,410.3 L422.5,410.2 L423.0,410.2 L423.0,410.1 L423.5,410.1 L423.5,410.3 L431.0,410.3 L431.0,410.2 L432.0,410.2 L432.0,410.3 L439.0,410.3 L439.0,409.4 L439.5,409.4 L439.5,408.5 L440.5,408.5 L440.5,410.3 L470.0,410.3 L470.0,410.2 L471.5,410.2 L471.5,410.3 L473.7,410.3 L473.7,410.3 Z" fill="#1a05e0" stroke="none"/>
<line x1="449.50" y1="322.60" x2="471.20" y2="322.60" stroke="#666" stroke-width="1.0" />
<text x="459.60" y="318.60" font-size="7.4" text-anchor="middle" font-weight="normal" font-style="normal" fill="#111" stroke="#111" stroke-width="0.22" >2 kb</text>
<line x1="441.70" y1="418.60" x2="424.20" y2="418.60" stroke="#111" stroke-width="1.5" />
<path d="M419.40,418.60 L427.40,415.60 L425.16,418.60 L427.40,421.60 Z" fill="#111"/>
<line x1="350.40" y1="426.70" x2="441.70" y2="426.70" stroke="#6a6aee" stroke-width="0.8" />
<rect x="350.40" y="424.80" width="8.10" height="3.80" fill="#1e1ee8" />
<rect x="358.50" y="423.70" width="1.50" height="6.00" fill="#1e1ee8" />
<rect x="366.80" y="423.70" width="1.60" height="6.00" fill="#1e1ee8" />
<rect x="369.30" y="423.70" width="1.10" height="6.00" fill="#1e1ee8" />
<rect x="371.40" y="423.70" width="1.50" height="6.00" fill="#1e1ee8" />
<rect x="385.40" y="423.70" width="1.10" height="6.00" fill="#1e1ee8" />
<rect x="388.00" y="423.70" width="1.00" height="6.00" fill="#1e1ee8" />
<rect x="390.80" y="423.70" width="1.60" height="6.00" fill="#1e1ee8" />
<rect x="393.80" y="423.70" width="1.50" height="6.00" fill="#1e1ee8" />
<rect x="397.00" y="423.70" width="1.40" height="6.00" fill="#1e1ee8" />
<rect x="399.20" y="423.70" width="0.80" height="6.00" fill="#1e1ee8" />
<rect x="403.00" y="423.70" width="1.50" height="6.00" fill="#1e1ee8" />
<rect x="406.00" y="425.20" width="1.00" height="3.00" fill="#1e1ee8" />
<rect x="439.30" y="424.20" width="2.40" height="5.00" fill="#1e1ee8" />
<polyline points="381.30,425.40 380.00,426.70 381.30,428.00" fill="none" stroke="#6a6aee" stroke-width="0.6"/>
<polyline points="416.30,425.40 415.00,426.70 416.30,428.00" fill="none" stroke="#6a6aee" stroke-width="0.6"/>
<polyline points="429.30,425.40 428.00,426.70 429.30,428.00" fill="none" stroke="#6a6aee" stroke-width="0.6"/>
<line x1="457.00" y1="426.70" x2="473.20" y2="426.70" stroke="#6a6aee" stroke-width="0.8" />
<rect x="457.00" y="424.45" width="2.00" height="4.50" fill="#1e1ee8" />
<rect x="460.50" y="424.45" width="2.50" height="4.50" fill="#1e1ee8" />
<polyline points="466.70,425.40 468.00,426.70 466.70,428.00" fill="none" stroke="#6a6aee" stroke-width="0.6"/>
<text x="403.70" y="440.90" font-size="7" text-anchor="middle" font-weight="normal" font-style="italic" fill="#111" stroke="#111" stroke-width="0.22" >ODC1</text>
<text x="459.20" y="437.70" font-size="6.0" text-anchor="middle" font-weight="normal" font-style="italic" fill="#111" stroke="#111" stroke-width="0.22" >ODC1-DT</text>
<rect x="557.60" y="327.20" width="116.90" height="84.20" fill="#f8f8f8" />
<text x="527.60" y="325.80" font-size="7" text-anchor="start" font-weight="normal" font-style="normal" fill="#111" stroke="#111" stroke-width="0.22" >Dox</text>
<text x="496.00" y="344.30" font-size="7" text-anchor="start" font-weight="normal" font-style="normal" fill="#111" stroke="#111" stroke-width="0.22" >MYCN</text>
<line x1="525.50" y1="332.60" x2="525.50" y2="351.90" stroke="#555" stroke-width="0.9" />
<line x1="532.80" y1="334.50" x2="535.40" y2="334.50" stroke="#222" stroke-width="0.95" />
<text x="530.90" y="350.80" font-size="8" text-anchor="start" font-weight="normal" font-style="normal" fill="#111" stroke="#111" stroke-width="0.22" >+</text>
<text x="541.00" y="337.00" font-size="6.8" text-anchor="start" font-weight="normal" font-style="normal" fill="#111" stroke="#111" stroke-width="0.22" >69</text>
<text x="541.00" y="350.50" font-size="6.8" text-anchor="start" font-weight="normal" font-style="normal" fill="#111" stroke="#111" stroke-width="0.22" >69</text>
<text x="496.00" y="372.00" font-size="7" text-anchor="start" font-weight="normal" font-style="normal" fill="#111" stroke="#111" stroke-width="0.22" >KAT2A</text>
<line x1="525.50" y1="359.90" x2="525.50" y2="380.00" stroke="#555" stroke-width="0.9" />
<line x1="532.80" y1="363.50" x2="535.40" y2="363.50" stroke="#222" stroke-width="0.95" />
<text x="530.90" y="378.60" font-size="8" text-anchor="start" font-weight="normal" font-style="normal" fill="#111" stroke="#111" stroke-width="0.22" >+</text>
<text x="541.00" y="365.70" font-size="6.8" text-anchor="start" font-weight="normal" font-style="normal" fill="#111" stroke="#111" stroke-width="0.22" >113</text>
<text x="541.00" y="378.30" font-size="6.8" text-anchor="start" font-weight="normal" font-style="normal" fill="#111" stroke="#111" stroke-width="0.22" >113</text>
<text x="496.00" y="400.90" font-size="7" text-anchor="start" font-weight="normal" font-style="normal" fill="#111" stroke="#111" stroke-width="0.22" >RNAseq</text>
<line x1="525.50" y1="389.10" x2="525.50" y2="408.70" stroke="#555" stroke-width="0.9" />
<line x1="532.80" y1="392.50" x2="535.40" y2="392.50" stroke="#222" stroke-width="0.95" />
<text x="530.90" y="407.50" font-size="8" text-anchor="start" font-weight="normal" font-style="normal" fill="#111" stroke="#111" stroke-width="0.22" >+</text>
<text x="541.00" y="394.70" font-size="6.8" text-anchor="start" font-weight="normal" font-style="normal" fill="#111" stroke="#111" stroke-width="0.22" >222</text>
<text x="541.00" y="407.20" font-size="6.8" text-anchor="start" font-weight="normal" font-style="normal" fill="#111" stroke="#111" stroke-width="0.22" >222</text>
<line x1="557.60" y1="339.60" x2="674.50" y2="339.60" stroke="#d8506a" stroke-width="1.0" />
<path d="M557.6,339.7 L557.6,339.6 L558.6,339.6 L558.6,339.7 L559.6,339.7 L559.6,339.6 L560.6,339.6 L560.6,339.3 L561.6,339.3 L561.6,339.2 L562.6,339.2 L562.6,339.4 L564.6,339.4 L564.6,339.3 L565.6,339.3 L565.6,338.8 L566.6,338.8 L566.6,339.3 L567.6,339.3 L567.6,338.7 L569.6,338.7 L569.6,339.7 L570.6,339.7 L570.6,339.6 L571.6,339.6 L571.6,339.5 L572.6,339.5 L572.6,339.6 L574.6,339.6 L574.6,339.7 L575.6,339.7 L575.6,339.6 L577.6,339.6 L577.6,339.7 L578.6,339.7 L578.6,339.6 L586.6,339.6 L586.6,339.7 L587.6,339.7 L587.6,338.4 L588.6,338.4 L588.6,338.8 L589.6,338.8 L589.6,339.7 L590.6,339.7 L590.6,339.6 L595.6,339.6 L595.6,339.7 L596.6,339.7 L596.6,339.6 L598.6,339.6 L598.6,339.7 L599.6,339.7 L599.6,339.1 L600.6,339.1 L600.6,338.1 L601.6,338.1 L601.6,338.8 L602.6,338.8 L602.6,338.9 L604.6,338.9 L604.6,339.0 L605.6,339.0 L605.6,339.7 L606.6,339.7 L606.6,339.6 L607.6,339.6 L607.6,339.5 L608.6,339.5 L608.6,339.6 L610.6,339.6 L610.6,338.9 L613.6,338.9 L613.6,339.0 L614.6,339.0 L614.6,338.8 L615.6,338.8 L615.6,339.4 L616.6,339.4 L616.6,339.2 L617.6,339.2 L617.6,339.3 L618.6,339.3 L618.6,339.2 L619.6,339.2 L619.6,339.0 L620.6,339.0 L620.6,339.2 L621.6,339.2 L621.6,339.4 L622.6,339.4 L622.6,339.3 L623.6,339.3 L623.6,339.2 L624.6,339.2 L624.6,339.7 L625.6,339.7 L625.6,339.6 L626.6,339.6 L626.6,339.7 L627.6,339.7 L627.6,339.6 L628.6,339.6 L628.6,339.7 L629.6,339.7 L629.6,339.6 L630.6,339.6 L630.6,338.8 L631.6,338.8 L631.6,338.9 L632.6,338.9 L632.6,338.8 L633.6,338.8 L633.6,339.0 L634.6,339.0 L634.6,339.3 L635.6,339.3 L635.6,339.6 L636.6,339.6 L636.6,339.7 L637.6,339.7 L637.6,339.5 L638.6,339.5 L638.6,339.6 L640.6,339.6 L640.6,339.2 L641.6,339.2 L641.6,339.0 L642.6,339.0 L642.6,339.1 L643.6,339.1 L643.6,339.2 L644.6,339.2 L644.6,339.6 L646.6,339.6 L646.6,339.7 L647.6,339.7 L647.6,339.6 L648.6,339.6 L648.6,339.7 L649.6,339.7 L649.6,339.6 L650.6,339.6 L650.6,339.7 L651.6,339.7 L651.6,339.0 L652.6,339.0 L652.6,338.8 L654.6,338.8 L654.6,339.7 L655.6,339.7 L655.6,339.4 L656.6,339.4 L656.6,339.0 L657.6,339.0 L657.6,339.1 L658.6,339.1 L658.6,339.4 L659.6,339.4 L659.6,338.9 L660.6,338.9 L660.6,339.3 L661.6,339.3 L661.6,339.6 L663.6,339.6 L663.6,339.7 L664.6,339.7 L664.6,339.6 L666.6,339.6 L666.6,339.3 L667.6,339.3 L667.6,339.5 L668.6,339.5 L668.6,339.6 L671.6,339.6 L671.6,339.7 L672.6,339.7 L672.6,339.6 L674.5,339.6 L674.5,339.7 Z" fill="#d01838" stroke="none"/>
<line x1="557.60" y1="353.70" x2="674.50" y2="353.70" stroke="#d8506a" stroke-width="1.0" />
<path d="M557.6,353.8 L557.6,353.7 L558.6,353.7 L558.6,353.5 L561.6,353.5 L561.6,353.8 L563.6,353.8 L563.6,353.6 L564.6,353.6 L564.6,353.7 L566.6,353.7 L566.6,353.8 L567.6,353.8 L567.6,353.7 L568.6,353.7 L568.6,353.8 L569.6,353.8 L569.6,353.7 L572.6,353.7 L572.6,353.5 L573.6,353.5 L573.6,353.2 L574.6,353.2 L574.6,353.8 L575.6,353.8 L575.6,353.3 L576.6,353.3 L576.6,353.5 L578.6,353.5 L578.6,353.7 L579.6,353.7 L579.6,353.8 L580.6,353.8 L580.6,353.7 L582.6,353.7 L582.6,353.0 L583.6,353.0 L583.6,353.4 L584.6,353.4 L584.6,353.0 L585.6,353.0 L585.6,353.3 L586.6,353.3 L586.6,353.0 L587.6,353.0 L587.6,353.8 L588.6,353.8 L588.6,353.7 L589.6,353.7 L589.6,353.2 L590.6,353.2 L590.6,353.3 L591.6,353.3 L591.6,353.1 L592.6,353.1 L592.6,353.4 L593.6,353.4 L593.6,353.0 L594.6,353.0 L594.6,352.8 L595.6,352.8 L595.6,353.3 L596.6,353.3 L596.6,353.7 L597.6,353.7 L597.6,353.4 L598.6,353.4 L598.6,353.1 L599.6,353.1 L599.6,350.1 L600.6,350.1 L600.6,344.1 L601.6,344.1 L601.6,347.1 L602.6,347.1 L602.6,352.0 L603.6,352.0 L603.6,353.3 L604.6,353.3 L604.6,353.2 L605.6,353.2 L605.6,353.0 L606.6,353.0 L606.6,353.4 L607.6,353.4 L607.6,353.0 L609.6,353.0 L609.6,352.7 L610.6,352.7 L610.6,352.8 L613.6,352.8 L613.6,353.7 L614.6,353.7 L614.6,353.6 L615.6,353.6 L615.6,353.8 L616.6,353.8 L616.6,353.3 L617.6,353.3 L617.6,352.9 L618.6,352.9 L618.6,353.7 L620.6,353.7 L620.6,353.2 L621.6,353.2 L621.6,353.4 L622.6,353.4 L622.6,353.0 L623.6,353.0 L623.6,353.2 L624.6,353.2 L624.6,353.8 L625.6,353.8 L625.6,353.7 L626.6,353.7 L626.6,353.8 L627.6,353.8 L627.6,353.3 L628.6,353.3 L628.6,353.2 L629.6,353.2 L629.6,353.3 L630.6,353.3 L630.6,353.6 L631.6,353.6 L631.6,353.1 L632.6,353.1 L632.6,353.4 L633.6,353.4 L633.6,353.5 L634.6,353.5 L634.6,353.3 L635.6,353.3 L635.6,353.4 L636.6,353.4 L636.6,353.5 L637.6,353.5 L637.6,353.3 L639.6,353.3 L639.6,353.2 L640.6,353.2 L640.6,353.1 L641.6,353.1 L641.6,352.6 L643.6,352.6 L643.6,352.8 L644.6,352.8 L644.6,353.1 L645.6,353.1 L645.6,353.2 L646.6,353.2 L646.6,353.1 L648.6,353.1 L648.6,352.9 L650.6,352.9 L650.6,352.7 L651.6,352.7 L651.6,353.7 L653.6,353.7 L653.6,353.4 L654.6,353.4 L654.6,353.1 L655.6,353.1 L655.6,352.8 L656.6,352.8 L656.6,352.7 L657.6,352.7 L657.6,353.7 L658.6,353.7 L658.6,353.3 L659.6,353.3 L659.6,353.4 L660.6,353.4 L660.6,353.0 L661.6,353.0 L661.6,353.3 L662.6,353.3 L662.6,353.2 L663.6,353.2 L663.6,353.8 L664.6,353.8 L664.6,353.7 L665.6,353.7 L665.6,353.4 L666.6,353.4 L666.6,353.0 L667.6,353.0 L667.6,353.2 L668.6,353.2 L668.6,353.8 L669.6,353.8 L669.6,353.2 L671.6,353.2 L671.6,353.7 L674.5,353.7 L674.5,353.8 Z" fill="#d01838" stroke="none"/>
<line x1="557.60" y1="368.20" x2="674.50" y2="368.20" stroke="#6464f0" stroke-width="1.0" />
<path d="M557.6,368.3 L557.6,368.2 L558.6,368.2 L558.6,368.3 L559.6,368.3 L559.6,368.0 L560.6,368.0 L560.6,368.1 L561.6,368.1 L561.6,367.9 L562.6,367.9 L562.6,368.2 L564.6,368.2 L564.6,368.3 L566.6,368.3 L566.6,368.2 L569.6,368.2 L569.6,368.3 L571.6,368.3 L571.6,368.2 L572.6,368.2 L572.6,368.0 L573.6,368.0 L573.6,367.7 L574.6,367.7 L574.6,368.1 L575.6,368.1 L575.6,367.9 L576.6,367.9 L576.6,367.7 L577.6,367.7 L577.6,368.0 L578.6,368.0 L578.6,368.2 L581.6,368.2 L581.6,368.3 L582.6,368.3 L582.6,368.2 L584.6,368.2 L584.6,368.3 L587.6,368.3 L587.6,368.2 L588.6,368.2 L588.6,367.7 L589.6,367.7 L589.6,367.6 L590.6,367.6 L590.6,367.8 L592.6,367.8 L592.6,367.9 L593.6,367.9 L593.6,367.8 L594.6,367.8 L594.6,367.4 L595.6,367.4 L595.6,367.2 L596.6,367.2 L596.6,367.9 L597.6,367.9 L597.6,367.2 L598.6,367.2 L598.6,367.8 L599.6,367.8 L599.6,366.1 L600.6,366.1 L600.6,359.2 L601.6,359.2 L601.6,361.3 L602.6,361.3 L602.6,367.1 L603.6,367.1 L603.6,367.5 L605.6,367.5 L605.6,367.8 L606.6,367.8 L606.6,367.4 L607.6,367.4 L607.6,368.3 L608.6,368.3 L608.6,368.2 L609.6,368.2 L609.6,367.8 L611.6,367.8 L611.6,368.2 L614.6,368.2 L614.6,368.3 L616.6,368.3 L616.6,368.2 L617.6,368.2 L617.6,368.3 L618.6,368.3 L618.6,367.8 L620.6,367.8 L620.6,368.1 L622.6,368.1 L622.6,367.9 L623.6,367.9 L623.6,368.2 L632.6,368.2 L632.6,367.8 L633.6,367.8 L633.6,367.9 L634.6,367.9 L634.6,368.0 L635.6,368.0 L635.6,368.2 L636.6,368.2 L636.6,368.3 L637.6,368.3 L637.6,368.2 L638.6,368.2 L638.6,368.3 L639.6,368.3 L639.6,368.2 L640.6,368.2 L640.6,367.5 L641.6,367.5 L641.6,367.7 L643.6,367.7 L643.6,367.6 L644.6,367.6 L644.6,368.3 L648.6,368.3 L648.6,367.8 L649.6,367.8 L649.6,367.7 L650.6,367.7 L650.6,368.3 L653.6,368.3 L653.6,368.2 L654.6,368.2 L654.6,368.3 L655.6,368.3 L655.6,368.0 L658.6,368.0 L658.6,367.8 L659.6,367.8 L659.6,368.2 L660.6,368.2 L660.6,368.3 L661.6,368.3 L661.6,368.2 L664.6,368.2 L664.6,368.3 L666.6,368.3 L666.6,368.1 L667.6,368.1 L667.6,368.0 L668.6,368.0 L668.6,367.8 L669.6,367.8 L669.6,367.7 L670.6,367.7 L670.6,367.8 L671.6,367.8 L671.6,367.6 L672.6,367.6 L672.6,367.8 L673.6,367.8 L673.6,368.2 L674.5,368.2 L674.5,368.3 Z" fill="#1a05e0" stroke="none"/>
<line x1="557.60" y1="382.20" x2="674.50" y2="382.20" stroke="#6464f0" stroke-width="1.0" />
<path d="M557.6,382.3 L557.6,381.7 L558.6,381.7 L558.6,381.8 L559.6,381.8 L559.6,381.5 L560.6,381.5 L560.6,381.9 L561.6,381.9 L561.6,382.0 L562.6,382.0 L562.6,382.2 L564.6,382.2 L564.6,382.3 L565.6,382.3 L565.6,381.9 L566.6,381.9 L566.6,382.1 L567.6,382.1 L567.6,381.9 L569.6,381.9 L569.6,381.7 L571.6,381.7 L571.6,382.3 L572.6,382.3 L572.6,382.2 L573.6,382.2 L573.6,382.3 L575.6,382.3 L575.6,381.6 L576.6,381.6 L576.6,381.8 L577.6,381.8 L577.6,381.6 L578.6,381.6 L578.6,381.8 L579.6,381.8 L579.6,381.6 L580.6,381.6 L580.6,382.3 L581.6,382.3 L581.6,382.2 L582.6,382.2 L582.6,382.3 L583.6,382.3 L583.6,382.2 L584.6,382.2 L584.6,381.7 L585.6,381.7 L585.6,381.8 L586.6,381.8 L586.6,381.5 L587.6,381.5 L587.6,381.4 L589.6,381.4 L589.6,381.7 L591.6,381.7 L591.6,381.8 L592.6,381.8 L592.6,381.7 L593.6,381.7 L593.6,381.6 L594.6,381.6 L594.6,382.0 L595.6,382.0 L595.6,382.2 L597.6,382.2 L597.6,382.3 L599.6,382.3 L599.6,380.1 L600.6,380.1 L600.6,371.7 L601.6,371.7 L601.6,374.5 L602.6,374.5 L602.6,381.1 L603.6,381.1 L603.6,381.8 L604.6,381.8 L604.6,381.7 L606.6,381.7 L606.6,381.8 L607.6,381.8 L607.6,382.3 L609.6,382.3 L609.6,382.2 L611.6,382.2 L611.6,382.3 L613.6,382.3 L613.6,382.2 L615.6,382.2 L615.6,381.9 L617.6,381.9 L617.6,381.7 L618.6,381.7 L618.6,381.5 L619.6,381.5 L619.6,382.0 L620.6,382.0 L620.6,382.3 L621.6,382.3 L621.6,381.8 L623.6,381.8 L623.6,381.7 L625.6,381.7 L625.6,382.0 L626.6,382.0 L626.6,381.0 L627.6,381.0 L627.6,381.2 L628.6,381.2 L628.6,381.9 L629.6,381.9 L629.6,381.7 L630.6,381.7 L630.6,381.8 L631.6,381.8 L631.6,381.4 L632.6,381.4 L632.6,382.3 L634.6,382.3 L634.6,382.2 L635.6,382.2 L635.6,381.5 L636.6,381.5 L636.6,381.6 L637.6,381.6 L637.6,381.2 L638.6,381.2 L638.6,382.2 L641.6,382.2 L641.6,381.6 L642.6,381.6 L642.6,381.7 L643.6,381.7 L643.6,381.9 L644.6,381.9 L644.6,382.0 L645.6,382.0 L645.6,381.7 L646.6,381.7 L646.6,381.6 L647.6,381.6 L647.6,381.4 L648.6,381.4 L648.6,381.3 L649.6,381.3 L649.6,381.7 L650.6,381.7 L650.6,381.6 L651.6,381.6 L651.6,381.9 L653.6,381.9 L653.6,381.8 L654.6,381.8 L654.6,382.3 L655.6,382.3 L655.6,381.8 L656.6,381.8 L656.6,381.9 L657.6,381.9 L657.6,382.1 L658.6,382.1 L658.6,382.2 L659.6,382.2 L659.6,381.9 L660.6,381.9 L660.6,381.7 L661.6,381.7 L661.6,381.9 L662.6,381.9 L662.6,382.0 L664.6,382.0 L664.6,382.1 L665.6,382.1 L665.6,381.9 L666.6,381.9 L666.6,382.2 L667.6,382.2 L667.6,382.3 L668.6,382.3 L668.6,382.2 L672.6,382.2 L672.6,382.3 L673.6,382.3 L673.6,382.2 L674.5,382.2 L674.5,382.3 Z" fill="#1a05e0" stroke="none"/>
<line x1="557.60" y1="396.30" x2="674.50" y2="396.30" stroke="#7575ee" stroke-width="1.0" />
<path d="M557.6,396.4 L557.6,396.4 L561.1,396.4 L561.1,396.2 L561.6,396.2 L561.6,396.3 L562.6,396.3 L562.6,396.2 L563.1,396.2 L563.1,396.3 L563.6,396.3 L563.6,396.4 L568.1,396.4 L568.1,396.2 L569.1,396.2 L569.1,396.4 L582.1,396.4 L582.1,396.2 L583.1,396.2 L583.1,396.1 L583.6,396.1 L583.6,396.4 L590.6,396.4 L590.6,396.3 L591.1,396.3 L591.1,396.2 L591.6,396.2 L591.6,396.3 L592.6,396.3 L592.6,396.2 L593.1,396.2 L593.1,396.4 L601.1,396.4 L601.1,396.3 L601.6,396.3 L601.6,394.8 L602.1,394.8 L602.1,393.7 L602.6,393.7 L602.6,394.8 L603.1,394.8 L603.1,396.1 L603.6,396.1 L603.6,396.2 L604.1,396.2 L604.1,396.4 L612.6,396.4 L612.6,395.8 L613.1,395.8 L613.1,391.8 L613.6,391.8 L613.6,391.5 L614.1,391.5 L614.1,395.4 L615.1,395.4 L615.1,389.8 L615.6,389.8 L615.6,389.4 L616.1,389.4 L616.1,391.0 L616.6,391.0 L616.6,396.3 L618.6,396.3 L618.6,396.2 L619.1,396.2 L619.1,396.4 L620.6,396.4 L620.6,396.3 L622.1,396.3 L622.1,396.2 L622.6,396.2 L622.6,396.4 L625.1,396.4 L625.1,396.2 L625.6,396.2 L625.6,396.3 L626.6,396.3 L626.6,396.4 L646.6,396.4 L646.6,389.6 L647.1,389.6 L647.1,389.7 L647.6,389.7 L647.6,389.9 L648.1,389.9 L648.1,390.1 L648.6,390.1 L648.6,390.3 L649.1,390.3 L649.1,390.5 L649.6,390.5 L649.6,390.7 L650.1,390.7 L650.1,391.8 L650.6,391.8 L650.6,396.4 L654.1,396.4 L654.1,396.2 L654.6,396.2 L654.6,396.3 L655.1,396.3 L655.1,396.2 L655.6,396.2 L655.6,396.1 L656.1,396.1 L656.1,396.4 L664.6,396.4 L664.6,395.0 L665.1,395.0 L665.1,390.9 L666.6,390.9 L666.6,392.3 L667.1,392.3 L667.1,396.4 L668.6,396.4 L668.6,395.0 L669.1,395.0 L669.1,390.9 L670.1,390.9 L670.1,393.9 L671.1,393.9 L671.1,389.9 L671.6,389.9 L671.6,390.0 L672.1,390.0 L672.1,390.1 L672.6,390.1 L672.6,390.3 L673.1,390.3 L673.1,390.4 L673.6,390.4 L673.6,396.4 L674.5,396.4 L674.5,396.4 Z" fill="#1a05e0" stroke="none"/>
<line x1="557.60" y1="410.20" x2="674.50" y2="410.20" stroke="#7575ee" stroke-width="1.0" />
<path d="M557.6,410.3 L557.6,410.3 L564.1,410.3 L564.1,410.2 L564.6,410.2 L564.6,410.1 L565.1,410.1 L565.1,410.3 L568.1,410.3 L568.1,410.2 L569.6,410.2 L569.6,410.1 L570.1,410.1 L570.1,410.3 L582.6,410.3 L582.6,410.2 L583.1,410.2 L583.1,410.1 L583.6,410.1 L583.6,410.2 L584.1,410.2 L584.1,410.1 L584.6,410.1 L584.6,410.3 L600.1,410.3 L600.1,410.2 L601.1,410.2 L601.1,410.1 L601.6,410.1 L601.6,408.3 L602.1,408.3 L602.1,407.1 L602.6,407.1 L602.6,408.5 L603.1,408.5 L603.1,410.0 L603.6,410.0 L603.6,410.3 L612.6,410.3 L612.6,409.6 L613.1,409.6 L613.1,404.2 L613.6,404.2 L613.6,403.9 L614.1,403.9 L614.1,409.3 L615.1,409.3 L615.1,400.6 L615.6,400.6 L615.6,399.8 L616.1,399.8 L616.1,402.4 L616.6,402.4 L616.6,410.2 L617.6,410.2 L617.6,410.1 L618.6,410.1 L618.6,410.3 L623.6,410.3 L623.6,410.1 L624.1,410.1 L624.1,410.2 L624.6,410.2 L624.6,410.3 L639.1,410.3 L639.1,410.0 L639.6,410.0 L639.6,410.1 L640.1,410.1 L640.1,410.2 L640.6,410.2 L640.6,410.1 L641.1,410.1 L641.1,410.2 L641.6,410.2 L641.6,410.0 L643.6,410.0 L643.6,410.3 L646.6,410.3 L646.6,400.5 L647.1,400.5 L647.1,400.7 L647.6,400.7 L647.6,400.9 L648.1,400.9 L648.1,401.3 L648.6,401.3 L648.6,401.7 L649.1,401.7 L649.1,402.1 L649.6,402.1 L649.6,402.5 L650.1,402.5 L650.1,404.0 L650.6,404.0 L650.6,410.3 L656.6,410.3 L656.6,410.0 L657.1,410.0 L657.1,409.9 L658.6,409.9 L658.6,410.3 L661.6,410.3 L661.6,410.0 L662.1,410.0 L662.1,409.9 L662.6,409.9 L662.6,410.0 L663.1,410.0 L663.1,410.3 L664.6,410.3 L664.6,408.3 L665.1,408.3 L665.1,402.3 L666.6,402.3 L666.6,404.3 L667.1,404.3 L667.1,410.3 L668.6,410.3 L668.6,408.3 L669.1,408.3 L669.1,402.3 L670.1,402.3 L670.1,406.8 L671.1,406.8 L671.1,401.8 L671.6,401.8 L671.6,401.9 L672.1,401.9 L672.1,402.0 L672.6,402.0 L672.6,402.2 L673.1,402.2 L673.1,402.3 L673.6,402.3 L673.6,410.3 L674.5,410.3 L674.5,410.3 Z" fill="#1a05e0" stroke="none"/>
<line x1="648.10" y1="322.90" x2="667.90" y2="322.90" stroke="#666" stroke-width="1.0" />
<text x="658.40" y="320.00" font-size="7.4" text-anchor="middle" font-weight="normal" font-style="normal" fill="#111" stroke="#111" stroke-width="0.22" >5 kb</text>
<line x1="559.00" y1="418.70" x2="574.40" y2="418.70" stroke="#111" stroke-width="1.5" />
<path d="M579.20,418.70 L571.20,415.70 L573.44,418.70 L571.20,421.70 Z" fill="#111"/>
<line x1="558.00" y1="426.80" x2="673.30" y2="426.80" stroke="#6a6aee" stroke-width="0.8" />
<rect x="567.00" y="423.80" width="1.00" height="6.00" fill="#1e1ee8" />
<rect x="580.00" y="423.80" width="1.00" height="6.00" fill="#1e1ee8" />
<rect x="601.80" y="423.80" width="1.00" height="6.00" fill="#1e1ee8" />
<rect x="614.20" y="423.80" width="2.20" height="6.00" fill="#1e1ee8" />
<rect x="647.60" y="423.80" width="2.90" height="6.00" fill="#1e1ee8" />
<rect x="665.80" y="423.80" width="1.40" height="6.00" fill="#1e1ee8" />
<rect x="669.50" y="424.55" width="3.80" height="4.50" fill="#1e1ee8" />
<polyline points="559.70,425.50 561.00,426.80 559.70,428.10" fill="none" stroke="#6a6aee" stroke-width="0.6"/>
<polyline points="571.70,425.50 573.00,426.80 571.70,428.10" fill="none" stroke="#6a6aee" stroke-width="0.6"/>
<polyline points="584.70,425.50 586.00,426.80 584.70,428.10" fill="none" stroke="#6a6aee" stroke-width="0.6"/>
<polyline points="591.70,425.50 593.00,426.80 591.70,428.10" fill="none" stroke="#6a6aee" stroke-width="0.6"/>
<polyline points="606.70,425.50 608.00,426.80 606.70,428.10" fill="none" stroke="#6a6aee" stroke-width="0.6"/>
<polyline points="625.70,425.50 627.00,426.80 625.70,428.10" fill="none" stroke="#6a6aee" stroke-width="0.6"/>
<polyline points="634.70,425.50 636.00,426.80 634.70,428.10" fill="none" stroke="#6a6aee" stroke-width="0.6"/>
<polyline points="654.70,425.50 656.00,426.80 654.70,428.10" fill="none" stroke="#6a6aee" stroke-width="0.6"/>
<polyline points="658.70,425.50 660.00,426.80 658.70,428.10" fill="none" stroke="#6a6aee" stroke-width="0.6"/>
<text x="624.40" y="441.00" font-size="7" text-anchor="middle" font-weight="normal" font-style="italic" fill="#111" stroke="#111" stroke-width="0.22" >RNF220</text>
</svg>
</body></html>
